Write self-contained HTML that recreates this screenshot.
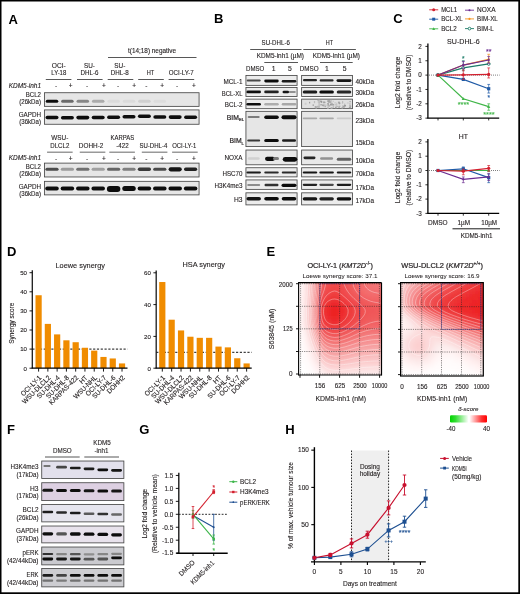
<!DOCTYPE html>
<html><head><meta charset="utf-8"><style>
html,body{margin:0;padding:0;background:#fff;}
svg{display:block;will-change:transform;}
text{font-family:"Liberation Sans", sans-serif;}
</style></head><body>
<svg width="520" height="594" viewBox="0 0 520 594">
<defs>
<filter id="bl" x="-20%" y="-100%" width="140%" height="300%"><feGaussianBlur stdDeviation="0.55"/></filter>
<filter id="nb"><feGaussianBlur stdDeviation="0.5"/></filter>
<filter id="hb" x="-5%" y="-5%" width="110%" height="110%"><feGaussianBlur stdDeviation="1.6"/></filter>
<clipPath id="c1"><rect x="298.6" y="282.6" width="82.89999999999998" height="92.39999999999998"/></clipPath><clipPath id="c2"><rect x="400.6" y="282.6" width="82.69999999999999" height="93.39999999999998"/></clipPath><linearGradient id="gg" x1="0" x2="1" y1="0" y2="0"><stop offset="0" stop-color="#00d400"/><stop offset="0.3" stop-color="#33dd33"/><stop offset="1" stop-color="#ffffff"/></linearGradient><linearGradient id="rg" x1="0" x2="1" y1="0" y2="0"><stop offset="0" stop-color="#ffffff"/><stop offset="0.7" stop-color="#ff3030"/><stop offset="1" stop-color="#ff0000"/></linearGradient>
</defs>
<rect width="520" height="594" fill="#fff"/>
<g fill="#231f20">
<rect x="0.00" y="0.00" width="520.00" height="1.50" fill="#000"/>
<rect x="0.00" y="0.00" width="1.50" height="594.00" fill="#000"/>
<rect x="518.30" y="0.00" width="1.70" height="594.00" fill="#000"/>
<rect x="0.00" y="592.30" width="520.00" height="1.70" fill="#000"/>
<text x="8.44" y="23.50" font-size="13" font-weight="bold" fill="#000">A</text>
<text x="152.00" y="52.50" font-size="6.6" text-anchor="middle" textLength="48.00" lengthAdjust="spacingAndGlyphs" fill="#231f20" stroke="#231f20" stroke-width="0.12">t(14;18) negative</text>
<line x1="108.00" y1="57.50" x2="196.50" y2="57.50" stroke="#444" stroke-width="0.9"/>
<text x="58.80" y="68.00" font-size="7.0" text-anchor="middle" textLength="14.00" lengthAdjust="spacingAndGlyphs" fill="#231f20" stroke="#231f20" stroke-width="0.12">OCI-</text>
<text x="58.80" y="75.40" font-size="7.0" text-anchor="middle" textLength="15.00" lengthAdjust="spacingAndGlyphs" fill="#231f20" stroke="#231f20" stroke-width="0.12">LY-18</text>
<text x="89.50" y="68.00" font-size="7.0" text-anchor="middle" textLength="11.00" lengthAdjust="spacingAndGlyphs" fill="#231f20" stroke="#231f20" stroke-width="0.12">SU-</text>
<text x="89.50" y="75.40" font-size="7.0" text-anchor="middle" textLength="18.00" lengthAdjust="spacingAndGlyphs" fill="#231f20" stroke="#231f20" stroke-width="0.12">DHL-6</text>
<text x="119.80" y="68.00" font-size="7.0" text-anchor="middle" textLength="11.00" lengthAdjust="spacingAndGlyphs" fill="#231f20" stroke="#231f20" stroke-width="0.12">SU-</text>
<text x="119.80" y="75.40" font-size="7.0" text-anchor="middle" textLength="18.00" lengthAdjust="spacingAndGlyphs" fill="#231f20" stroke="#231f20" stroke-width="0.12">DHL-8</text>
<text x="150.50" y="75.40" font-size="7.0" text-anchor="middle" textLength="7.50" lengthAdjust="spacingAndGlyphs" fill="#231f20" stroke="#231f20" stroke-width="0.12">HT</text>
<text x="181.20" y="75.40" font-size="7.0" text-anchor="middle" textLength="25.00" lengthAdjust="spacingAndGlyphs" fill="#231f20" stroke="#231f20" stroke-width="0.12">OCI-LY-7</text>
<line x1="45.80" y1="79.50" x2="71.40" y2="79.50" stroke="#444" stroke-width="0.9"/>
<line x1="77.00" y1="79.50" x2="102.60" y2="79.50" stroke="#444" stroke-width="0.9"/>
<line x1="107.70" y1="79.50" x2="133.30" y2="79.50" stroke="#444" stroke-width="0.9"/>
<line x1="138.20" y1="79.50" x2="163.80" y2="79.50" stroke="#444" stroke-width="0.9"/>
<line x1="168.60" y1="79.50" x2="194.20" y2="79.50" stroke="#444" stroke-width="0.9"/>
<text x="41.00" y="88.00" font-size="6.6" text-anchor="end" textLength="32.30" lengthAdjust="spacingAndGlyphs" font-style="italic" fill="#231f20" stroke="#231f20" stroke-width="0.12">KDM5-inh1</text>
<text x="56.00" y="88.00" font-size="6.5" text-anchor="middle" fill="#231f20" stroke="#231f20" stroke-width="0.12">-</text>
<text x="70.60" y="88.00" font-size="6.5" text-anchor="middle" fill="#231f20" stroke="#231f20" stroke-width="0.12">+</text>
<text x="87.20" y="88.00" font-size="6.5" text-anchor="middle" fill="#231f20" stroke="#231f20" stroke-width="0.12">-</text>
<text x="104.00" y="88.00" font-size="6.5" text-anchor="middle" fill="#231f20" stroke="#231f20" stroke-width="0.12">+</text>
<text x="118.00" y="88.00" font-size="6.5" text-anchor="middle" fill="#231f20" stroke="#231f20" stroke-width="0.12">-</text>
<text x="134.20" y="88.00" font-size="6.5" text-anchor="middle" fill="#231f20" stroke="#231f20" stroke-width="0.12">+</text>
<text x="146.30" y="88.00" font-size="6.5" text-anchor="middle" fill="#231f20" stroke="#231f20" stroke-width="0.12">-</text>
<text x="162.20" y="88.00" font-size="6.5" text-anchor="middle" fill="#231f20" stroke="#231f20" stroke-width="0.12">+</text>
<text x="177.00" y="88.00" font-size="6.5" text-anchor="middle" fill="#231f20" stroke="#231f20" stroke-width="0.12">-</text>
<text x="194.00" y="88.00" font-size="6.5" text-anchor="middle" fill="#231f20" stroke="#231f20" stroke-width="0.12">+</text>
<rect x="44.42" y="92.72" width="154.65" height="13.65" fill="#e6e6e6" stroke="#484848" stroke-width="0.85"/>
<rect x="44.42" y="109.92" width="154.65" height="14.35" fill="#e6e6e6" stroke="#484848" stroke-width="0.85"/>
<text x="41.00" y="97.00" font-size="6.8" text-anchor="end" textLength="15.20" lengthAdjust="spacingAndGlyphs" fill="#231f20" stroke="#231f20" stroke-width="0.12">BCL2</text>
<text x="41.00" y="104.40" font-size="6.8" text-anchor="end" textLength="21.80" lengthAdjust="spacingAndGlyphs" fill="#231f20" stroke="#231f20" stroke-width="0.12">(26kDa)</text>
<text x="41.00" y="116.70" font-size="6.8" text-anchor="end" textLength="22.30" lengthAdjust="spacingAndGlyphs" fill="#231f20" stroke="#231f20" stroke-width="0.12">GAPDH</text>
<text x="41.00" y="123.80" font-size="6.8" text-anchor="end" textLength="21.80" lengthAdjust="spacingAndGlyphs" fill="#231f20" stroke="#231f20" stroke-width="0.12">(36kDa)</text>
<rect x="45.75" y="99.70" width="12.50" height="3.00" rx="1.50" fill="#0a0a0a" filter="url(#bl)"/>
<rect x="61.15" y="99.70" width="12.50" height="3.00" rx="1.50" fill="#6b6b6b" filter="url(#bl)"/>
<rect x="76.55" y="99.70" width="12.50" height="3.00" rx="1.50" fill="#878787" filter="url(#bl)"/>
<rect x="91.95" y="99.70" width="12.50" height="3.00" rx="1.50" fill="#ababab" filter="url(#bl)"/>
<rect x="107.35" y="99.70" width="12.50" height="3.00" rx="1.50" fill="#dbdbdb" filter="url(#bl)"/>
<rect x="122.75" y="99.70" width="12.50" height="3.00" rx="1.50" fill="#dbdbdb" filter="url(#bl)"/>
<rect x="138.15" y="99.70" width="12.50" height="3.00" rx="1.50" fill="#d0d0d0" filter="url(#bl)"/>
<rect x="153.55" y="99.70" width="12.50" height="3.00" rx="1.50" fill="#dddddd" filter="url(#bl)"/>
<rect x="45.50" y="115.70" width="13.00" height="3.60" rx="1.80" fill="#101010" filter="url(#bl)"/>
<rect x="60.90" y="116.00" width="13.00" height="3.60" rx="1.80" fill="#101010" filter="url(#bl)"/>
<rect x="76.30" y="115.80" width="13.00" height="3.60" rx="1.80" fill="#101010" filter="url(#bl)"/>
<rect x="91.70" y="115.70" width="13.00" height="3.60" rx="1.80" fill="#101010" filter="url(#bl)"/>
<rect x="107.10" y="115.40" width="13.00" height="3.60" rx="1.80" fill="#101010" filter="url(#bl)"/>
<rect x="122.50" y="115.00" width="13.00" height="3.60" rx="1.80" fill="#101010" filter="url(#bl)"/>
<rect x="137.90" y="114.40" width="13.00" height="3.60" rx="1.80" fill="#101010" filter="url(#bl)"/>
<rect x="153.30" y="115.20" width="13.00" height="3.60" rx="1.80" fill="#101010" filter="url(#bl)"/>
<rect x="168.70" y="115.30" width="13.00" height="3.60" rx="1.80" fill="#101010" filter="url(#bl)"/>
<rect x="184.10" y="115.40" width="13.00" height="3.60" rx="1.80" fill="#101010" filter="url(#bl)"/>
<text x="59.80" y="140.40" font-size="7.0" text-anchor="middle" textLength="17.00" lengthAdjust="spacingAndGlyphs" fill="#231f20" stroke="#231f20" stroke-width="0.12">WSU-</text>
<text x="59.80" y="148.00" font-size="7.0" text-anchor="middle" textLength="19.00" lengthAdjust="spacingAndGlyphs" fill="#231f20" stroke="#231f20" stroke-width="0.12">DLCL2</text>
<text x="91.10" y="148.00" font-size="7.0" text-anchor="middle" textLength="24.50" lengthAdjust="spacingAndGlyphs" fill="#231f20" stroke="#231f20" stroke-width="0.12">DOHH-2</text>
<text x="122.40" y="139.80" font-size="7.0" text-anchor="middle" textLength="23.60" lengthAdjust="spacingAndGlyphs" fill="#231f20" stroke="#231f20" stroke-width="0.12">KARPAS</text>
<text x="122.50" y="148.00" font-size="7.0" text-anchor="middle" textLength="12.50" lengthAdjust="spacingAndGlyphs" fill="#231f20" stroke="#231f20" stroke-width="0.12">-422</text>
<text x="153.40" y="148.00" font-size="7.0" text-anchor="middle" textLength="27.90" lengthAdjust="spacingAndGlyphs" fill="#231f20" stroke="#231f20" stroke-width="0.12">SU-DHL-4</text>
<text x="184.20" y="148.00" font-size="7.0" text-anchor="middle" textLength="24.10" lengthAdjust="spacingAndGlyphs" fill="#231f20" stroke="#231f20" stroke-width="0.12">OCI-LY-1</text>
<line x1="47.05" y1="152.20" x2="72.65" y2="152.20" stroke="#808080" stroke-width="1.2"/>
<line x1="79.75" y1="152.20" x2="105.35" y2="152.20" stroke="#808080" stroke-width="1.2"/>
<line x1="109.30" y1="152.20" x2="134.90" y2="152.20" stroke="#808080" stroke-width="1.2"/>
<line x1="141.80" y1="152.20" x2="167.40" y2="152.20" stroke="#808080" stroke-width="1.2"/>
<line x1="172.10" y1="152.20" x2="197.70" y2="152.20" stroke="#808080" stroke-width="1.2"/>
<text x="41.00" y="160.20" font-size="6.6" text-anchor="end" textLength="32.30" lengthAdjust="spacingAndGlyphs" font-style="italic" fill="#231f20" stroke="#231f20" stroke-width="0.12">KDM5-inh1</text>
<text x="56.00" y="160.60" font-size="6.5" text-anchor="middle" fill="#231f20" stroke="#231f20" stroke-width="0.12">-</text>
<text x="70.60" y="160.60" font-size="6.5" text-anchor="middle" fill="#231f20" stroke="#231f20" stroke-width="0.12">+</text>
<text x="87.20" y="160.60" font-size="6.5" text-anchor="middle" fill="#231f20" stroke="#231f20" stroke-width="0.12">-</text>
<text x="104.00" y="160.60" font-size="6.5" text-anchor="middle" fill="#231f20" stroke="#231f20" stroke-width="0.12">+</text>
<text x="118.00" y="160.60" font-size="6.5" text-anchor="middle" fill="#231f20" stroke="#231f20" stroke-width="0.12">-</text>
<text x="134.20" y="160.60" font-size="6.5" text-anchor="middle" fill="#231f20" stroke="#231f20" stroke-width="0.12">+</text>
<text x="146.30" y="160.60" font-size="6.5" text-anchor="middle" fill="#231f20" stroke="#231f20" stroke-width="0.12">-</text>
<text x="162.20" y="160.60" font-size="6.5" text-anchor="middle" fill="#231f20" stroke="#231f20" stroke-width="0.12">+</text>
<text x="177.00" y="160.60" font-size="6.5" text-anchor="middle" fill="#231f20" stroke="#231f20" stroke-width="0.12">-</text>
<text x="194.00" y="160.60" font-size="6.5" text-anchor="middle" fill="#231f20" stroke="#231f20" stroke-width="0.12">+</text>
<rect x="44.42" y="163.12" width="154.65" height="13.85" fill="#e6e6e6" stroke="#484848" stroke-width="0.85"/>
<rect x="44.42" y="181.33" width="154.65" height="13.55" fill="#e6e6e6" stroke="#484848" stroke-width="0.85"/>
<text x="41.00" y="168.80" font-size="6.8" text-anchor="end" textLength="15.20" lengthAdjust="spacingAndGlyphs" fill="#231f20" stroke="#231f20" stroke-width="0.12">BCL2</text>
<text x="41.00" y="176.10" font-size="6.8" text-anchor="end" textLength="21.80" lengthAdjust="spacingAndGlyphs" fill="#231f20" stroke="#231f20" stroke-width="0.12">(26kDa)</text>
<text x="41.00" y="188.50" font-size="6.8" text-anchor="end" textLength="22.30" lengthAdjust="spacingAndGlyphs" fill="#231f20" stroke="#231f20" stroke-width="0.12">GAPDH</text>
<text x="41.00" y="195.70" font-size="6.8" text-anchor="end" textLength="21.80" lengthAdjust="spacingAndGlyphs" fill="#231f20" stroke="#231f20" stroke-width="0.12">(36kDa)</text>
<rect x="45.40" y="167.75" width="13.20" height="3.10" rx="1.55" fill="#4e4e4e" filter="url(#bl)"/>
<rect x="60.80" y="167.75" width="13.20" height="3.10" rx="1.55" fill="#9c9c9c" filter="url(#bl)"/>
<rect x="76.20" y="167.75" width="13.20" height="3.10" rx="1.55" fill="#717171" filter="url(#bl)"/>
<rect x="91.60" y="167.75" width="13.20" height="3.10" rx="1.55" fill="#a0a0a0" filter="url(#bl)"/>
<rect x="107.00" y="167.75" width="13.20" height="3.10" rx="1.55" fill="#666666" filter="url(#bl)"/>
<rect x="122.40" y="167.75" width="13.20" height="3.10" rx="1.55" fill="#7f7f7f" filter="url(#bl)"/>
<rect x="137.80" y="167.60" width="13.20" height="3.40" rx="1.70" fill="#3a3a3a" filter="url(#bl)"/>
<rect x="153.20" y="167.75" width="13.20" height="3.10" rx="1.55" fill="#4a4a4a" filter="url(#bl)"/>
<rect x="168.60" y="167.20" width="13.20" height="4.20" rx="2.10" fill="#151515" filter="url(#bl)"/>
<rect x="184.00" y="167.60" width="13.20" height="3.40" rx="1.70" fill="#232323" filter="url(#bl)"/>
<rect x="45.25" y="186.50" width="13.50" height="4.00" rx="2.00" fill="#101010" filter="url(#bl)"/>
<rect x="60.65" y="186.50" width="13.50" height="4.00" rx="2.00" fill="#101010" filter="url(#bl)"/>
<rect x="76.05" y="186.50" width="13.50" height="4.00" rx="2.00" fill="#101010" filter="url(#bl)"/>
<rect x="91.45" y="186.50" width="13.50" height="4.00" rx="2.00" fill="#101010" filter="url(#bl)"/>
<rect x="106.85" y="186.10" width="13.50" height="6.00" rx="3.00" fill="#101010" filter="url(#bl)"/>
<rect x="122.25" y="186.00" width="13.50" height="5.00" rx="2.50" fill="#101010" filter="url(#bl)"/>
<rect x="137.65" y="186.50" width="13.50" height="4.00" rx="2.00" fill="#101010" filter="url(#bl)"/>
<rect x="153.05" y="186.50" width="13.50" height="4.00" rx="2.00" fill="#101010" filter="url(#bl)"/>
<rect x="168.45" y="186.50" width="13.50" height="4.00" rx="2.00" fill="#101010" filter="url(#bl)"/>
<rect x="183.85" y="186.50" width="13.50" height="4.00" rx="2.00" fill="#101010" filter="url(#bl)"/>
<text x="214.00" y="23.20" font-size="13" font-weight="bold" fill="#000">B</text>
<text x="275.70" y="44.70" font-size="6.8" text-anchor="middle" textLength="28.30" lengthAdjust="spacingAndGlyphs" fill="#231f20" stroke="#231f20" stroke-width="0.12">SU-DHL-6</text>
<text x="329.40" y="44.70" font-size="6.8" text-anchor="middle" textLength="7.30" lengthAdjust="spacingAndGlyphs" fill="#231f20" stroke="#231f20" stroke-width="0.12">HT</text>
<line x1="250.20" y1="49.50" x2="301.50" y2="49.50" stroke="#444" stroke-width="0.9"/>
<line x1="303.30" y1="49.50" x2="355.90" y2="49.50" stroke="#444" stroke-width="0.9"/>
<text x="280.30" y="58.00" font-size="6.8" text-anchor="middle" textLength="47.30" lengthAdjust="spacingAndGlyphs" fill="#231f20" stroke="#231f20" stroke-width="0.12">KDM5-inh1 (µM)</text>
<text x="336.40" y="58.00" font-size="6.8" text-anchor="middle" textLength="47.20" lengthAdjust="spacingAndGlyphs" fill="#231f20" stroke="#231f20" stroke-width="0.12">KDM5-inh1 (µM)</text>
<line x1="264.30" y1="62.50" x2="298.00" y2="62.50" stroke="#444" stroke-width="0.9"/>
<line x1="320.00" y1="62.50" x2="352.70" y2="62.50" stroke="#444" stroke-width="0.9"/>
<text x="246.00" y="71.40" font-size="6.8" textLength="18.30" lengthAdjust="spacingAndGlyphs" fill="#231f20" stroke="#231f20" stroke-width="0.12">DMSO</text>
<text x="273.70" y="71.40" font-size="6.8" text-anchor="middle" fill="#231f20" stroke="#231f20" stroke-width="0.12">1</text>
<text x="289.90" y="71.40" font-size="6.8" text-anchor="middle" fill="#231f20" stroke="#231f20" stroke-width="0.12">5</text>
<text x="299.80" y="71.40" font-size="6.8" textLength="18.90" lengthAdjust="spacingAndGlyphs" fill="#231f20" stroke="#231f20" stroke-width="0.12">DMSO</text>
<text x="326.80" y="71.40" font-size="6.8" text-anchor="middle" fill="#231f20" stroke="#231f20" stroke-width="0.12">1</text>
<text x="344.60" y="71.40" font-size="6.8" text-anchor="middle" fill="#231f20" stroke="#231f20" stroke-width="0.12">5</text>
<rect x="245.93" y="75.42" width="51.15" height="9.95" fill="#ececec" stroke="#484848" stroke-width="0.85"/>
<rect x="301.62" y="75.42" width="50.95" height="9.95" fill="#ececec" stroke="#484848" stroke-width="0.85"/>
<text x="355.40" y="83.50" font-size="6.8" textLength="18.60" lengthAdjust="spacingAndGlyphs" fill="#231f20" stroke="#231f20" stroke-width="0.12">40kDa</text>
<rect x="245.93" y="87.52" width="51.15" height="9.05" fill="#ececec" stroke="#484848" stroke-width="0.85"/>
<rect x="301.62" y="87.52" width="50.95" height="9.05" fill="#ececec" stroke="#484848" stroke-width="0.85"/>
<text x="355.40" y="95.00" font-size="6.8" textLength="18.60" lengthAdjust="spacingAndGlyphs" fill="#231f20" stroke="#231f20" stroke-width="0.12">30kDa</text>
<rect x="245.93" y="99.12" width="51.15" height="9.55" fill="#ececec" stroke="#484848" stroke-width="0.85"/>
<rect x="301.62" y="99.12" width="50.95" height="9.55" fill="#e0e0e0" stroke="#484848" stroke-width="0.85"/>
<text x="355.40" y="106.60" font-size="6.8" textLength="18.60" lengthAdjust="spacingAndGlyphs" fill="#231f20" stroke="#231f20" stroke-width="0.12">26kDa</text>
<rect x="245.93" y="111.33" width="51.15" height="35.25" fill="#e6e6e6" stroke="#484848" stroke-width="0.85"/>
<rect x="301.62" y="111.33" width="50.95" height="35.25" fill="#e6e6e6" stroke="#484848" stroke-width="0.85"/>
<rect x="245.93" y="150.03" width="51.15" height="14.75" fill="#e8e8e8" stroke="#484848" stroke-width="0.85"/>
<rect x="301.62" y="150.03" width="50.95" height="14.75" fill="#e8e8e8" stroke="#484848" stroke-width="0.85"/>
<text x="355.40" y="163.40" font-size="6.8" textLength="18.60" lengthAdjust="spacingAndGlyphs" fill="#231f20" stroke="#231f20" stroke-width="0.12">10kDa</text>
<rect x="245.93" y="167.73" width="51.15" height="9.15" fill="#ececec" stroke="#484848" stroke-width="0.85"/>
<rect x="301.62" y="167.73" width="50.95" height="9.15" fill="#ececec" stroke="#484848" stroke-width="0.85"/>
<text x="355.40" y="176.20" font-size="6.8" textLength="18.60" lengthAdjust="spacingAndGlyphs" fill="#231f20" stroke="#231f20" stroke-width="0.12">70kDa</text>
<rect x="245.93" y="179.93" width="51.15" height="9.45" fill="#ececec" stroke="#484848" stroke-width="0.85"/>
<rect x="301.62" y="179.93" width="50.95" height="9.45" fill="#ececec" stroke="#484848" stroke-width="0.85"/>
<text x="355.40" y="189.60" font-size="6.8" textLength="18.60" lengthAdjust="spacingAndGlyphs" fill="#231f20" stroke="#231f20" stroke-width="0.12">17kDa</text>
<rect x="245.93" y="192.83" width="51.15" height="12.05" fill="#ececec" stroke="#484848" stroke-width="0.85"/>
<rect x="301.62" y="192.83" width="50.95" height="12.05" fill="#ececec" stroke="#484848" stroke-width="0.85"/>
<text x="355.40" y="203.20" font-size="6.8" textLength="18.60" lengthAdjust="spacingAndGlyphs" fill="#231f20" stroke="#231f20" stroke-width="0.12">17kDa</text>
<text x="355.40" y="123.00" font-size="6.8" textLength="18.60" lengthAdjust="spacingAndGlyphs" fill="#231f20" stroke="#231f20" stroke-width="0.12">23kDa</text>
<text x="355.40" y="145.40" font-size="6.8" textLength="18.60" lengthAdjust="spacingAndGlyphs" fill="#231f20" stroke="#231f20" stroke-width="0.12">15kDa</text>
<text x="242.50" y="83.50" font-size="6.8" text-anchor="end" textLength="19.00" lengthAdjust="spacingAndGlyphs" fill="#231f20" stroke="#231f20" stroke-width="0.12">MCL-1</text>
<text x="242.50" y="95.50" font-size="6.8" text-anchor="end" textLength="20.70" lengthAdjust="spacingAndGlyphs" fill="#231f20" stroke="#231f20" stroke-width="0.12">BCL-XL</text>
<text x="242.50" y="106.80" font-size="6.8" text-anchor="end" textLength="17.80" lengthAdjust="spacingAndGlyphs" fill="#231f20" stroke="#231f20" stroke-width="0.12">BCL-2</text>
<text x="226.8" y="120.2" font-size="6.8" stroke="#231f20" stroke-width="0.2">BIM<tspan font-size="4.2" dy="1.2">EL</tspan></text>
<text x="229.5" y="143.4" font-size="6.8" stroke="#231f20" stroke-width="0.2">BIM<tspan font-size="4.2" dy="1.2">L</tspan></text>
<text x="242.50" y="160.40" font-size="6.8" text-anchor="end" textLength="18.00" lengthAdjust="spacingAndGlyphs" fill="#231f20" stroke="#231f20" stroke-width="0.12">NOXA</text>
<text x="242.50" y="175.60" font-size="6.8" text-anchor="end" textLength="20.00" lengthAdjust="spacingAndGlyphs" fill="#231f20" stroke="#231f20" stroke-width="0.12">HSC70</text>
<text x="242.50" y="188.20" font-size="6.8" text-anchor="end" textLength="28.00" lengthAdjust="spacingAndGlyphs" fill="#231f20" stroke="#231f20" stroke-width="0.12">H3K4me3</text>
<text x="242.50" y="201.60" font-size="6.8" text-anchor="end" textLength="8.50" lengthAdjust="spacingAndGlyphs" fill="#231f20" stroke="#231f20" stroke-width="0.12">H3</text>
<rect x="246.70" y="79.40" width="14.00" height="2.00" rx="1.00" fill="#494949" filter="url(#bl)"/>
<rect x="264.25" y="79.60" width="14.50" height="2.80" rx="1.40" fill="#111111" filter="url(#bl)"/>
<rect x="281.75" y="80.10" width="14.50" height="2.40" rx="1.20" fill="#1a1a1a" filter="url(#bl)"/>
<rect x="303.00" y="79.10" width="14.00" height="2.20" rx="1.10" fill="#252525" filter="url(#bl)"/>
<rect x="319.60" y="79.30" width="14.00" height="2.20" rx="1.10" fill="#2c2c2c" filter="url(#bl)"/>
<rect x="336.50" y="79.20" width="15.00" height="2.80" rx="1.40" fill="#151515" filter="url(#bl)"/>
<rect x="246.45" y="90.60" width="14.50" height="2.60" rx="1.30" fill="#111111" filter="url(#bl)"/>
<rect x="264.25" y="90.60" width="14.50" height="2.60" rx="1.30" fill="#212121" filter="url(#bl)"/>
<rect x="282.55" y="90.70" width="6.50" height="2.60" rx="1.30" fill="#151515" filter="url(#bl)"/>
<rect x="288.80" y="91.00" width="7.00" height="2.00" rx="1.00" fill="#929292" filter="url(#bl)"/>
<rect x="302.75" y="90.50" width="14.50" height="3.00" rx="1.50" fill="#1c1c1c" filter="url(#bl)"/>
<rect x="319.35" y="90.50" width="14.50" height="3.00" rx="1.50" fill="#0a0a0a" filter="url(#bl)"/>
<rect x="336.75" y="90.50" width="14.50" height="3.00" rx="1.50" fill="#252525" filter="url(#bl)"/>
<rect x="246.45" y="103.05" width="14.50" height="2.50" rx="1.25" fill="#111111" filter="url(#bl)"/>
<rect x="264.25" y="103.05" width="14.50" height="2.50" rx="1.25" fill="#adadad" filter="url(#bl)"/>
<rect x="281.75" y="103.05" width="14.50" height="2.50" rx="1.25" fill="#a8a8a8" filter="url(#bl)"/>
<g filter="url(#nb)">
<rect x="317.0" y="105.8" width="1.8" height="2.1" fill="#cbcbcb"/>
<rect x="317.4" y="100.0" width="1.9" height="1.1" fill="#b3b3b3"/>
<rect x="336.1" y="102.6" width="1.1" height="1.6" fill="#cdcdcd"/>
<rect x="332.1" y="104.1" width="1.8" height="1.4" fill="#969696"/>
<rect x="339.2" y="102.7" width="1.9" height="1.0" fill="#c6c6c6"/>
<rect x="349.5" y="104.4" width="1.0" height="2.2" fill="#9e9e9e"/>
<rect x="348.9" y="107.0" width="2.0" height="1.2" fill="#a0a0a0"/>
<rect x="330.6" y="107.0" width="2.0" height="1.7" fill="#b8b8b8"/>
<rect x="342.0" y="101.3" width="1.2" height="1.3" fill="#aeaeae"/>
<rect x="349.5" y="101.0" width="1.2" height="1.3" fill="#9f9f9f"/>
<rect x="336.0" y="104.3" width="1.3" height="1.2" fill="#c3c3c3"/>
<rect x="316.7" y="105.9" width="1.8" height="1.1" fill="#b4b4b4"/>
<rect x="323.3" y="101.7" width="2.1" height="1.3" fill="#979797"/>
<rect x="331.2" y="102.8" width="1.9" height="1.3" fill="#b9b9b9"/>
<rect x="328.7" y="100.2" width="1.7" height="2.1" fill="#a1a1a1"/>
<rect x="329.3" y="100.7" width="2.1" height="2.1" fill="#a5a5a5"/>
<rect x="324.2" y="103.7" width="1.4" height="1.6" fill="#c7c7c7"/>
<rect x="338.5" y="105.7" width="2.0" height="0.9" fill="#adadad"/>
<rect x="334.5" y="102.4" width="1.3" height="1.0" fill="#bdbdbd"/>
<rect x="328.4" y="101.9" width="1.6" height="1.2" fill="#c2c2c2"/>
<rect x="327.2" y="100.4" width="1.8" height="1.2" fill="#9f9f9f"/>
<rect x="336.3" y="103.4" width="0.9" height="2.2" fill="#c4c4c4"/>
<rect x="319.0" y="101.6" width="1.3" height="1.2" fill="#bcbcbc"/>
<rect x="327.7" y="104.7" width="0.9" height="2.1" fill="#9f9f9f"/>
<rect x="342.6" y="106.1" width="2.2" height="1.6" fill="#9e9e9e"/>
<rect x="332.6" y="100.8" width="1.4" height="1.0" fill="#c8c8c8"/>
<rect x="327.3" y="103.0" width="1.4" height="2.2" fill="#9f9f9f"/>
<rect x="332.7" y="106.2" width="1.4" height="1.5" fill="#b7b7b7"/>
<rect x="328.4" y="102.0" width="2.1" height="1.0" fill="#afafaf"/>
<rect x="317.5" y="106.0" width="2.1" height="1.7" fill="#b8b8b8"/>
<rect x="320.0" y="100.5" width="1.5" height="1.6" fill="#a7a7a7"/>
<rect x="330.0" y="103.6" width="1.9" height="1.9" fill="#9a9a9a"/>
<rect x="324.5" y="105.5" width="1.6" height="1.7" fill="#adadad"/>
<rect x="314.7" y="106.1" width="1.9" height="1.8" fill="#a6a6a6"/>
<rect x="322.8" y="104.7" width="2.0" height="1.5" fill="#bbbbbb"/>
<rect x="349.5" y="105.6" width="1.7" height="1.4" fill="#aaaaaa"/>
<rect x="336.5" y="105.8" width="1.2" height="1.3" fill="#acacac"/>
<rect x="315.5" y="106.8" width="1.3" height="2.0" fill="#b0b0b0"/>
<rect x="341.5" y="107.1" width="1.5" height="1.5" fill="#ababab"/>
<rect x="317.7" y="101.0" width="1.3" height="2.0" fill="#cbcbcb"/>
<rect x="329.1" y="104.8" width="1.0" height="1.9" fill="#b0b0b0"/>
<rect x="334.4" y="104.2" width="2.1" height="1.2" fill="#c0c0c0"/>
<rect x="309.1" y="101.8" width="1.1" height="1.6" fill="#979797"/>
<rect x="322.7" y="104.5" width="1.1" height="1.8" fill="#a1a1a1"/>
<rect x="327.8" y="103.3" width="1.0" height="2.0" fill="#a4a4a4"/>
<rect x="327.6" y="100.6" width="1.5" height="1.6" fill="#a1a1a1"/>
<rect x="321.2" y="104.8" width="1.6" height="1.1" fill="#9a9a9a"/>
<rect x="335.2" y="106.6" width="1.3" height="2.1" fill="#969696"/>
<rect x="343.6" y="105.0" width="1.3" height="0.9" fill="#b9b9b9"/>
<rect x="312.6" y="104.4" width="1.2" height="1.5" fill="#9c9c9c"/>
<rect x="338.7" y="102.4" width="1.4" height="1.9" fill="#9e9e9e"/>
<rect x="327.2" y="104.6" width="1.5" height="1.0" fill="#adadad"/>
<rect x="320.7" y="101.3" width="1.7" height="1.3" fill="#9e9e9e"/>
<rect x="338.4" y="106.5" width="1.3" height="1.3" fill="#969696"/>
<rect x="341.9" y="102.2" width="1.3" height="1.4" fill="#bababa"/>
<rect x="323.1" y="101.5" width="1.5" height="1.8" fill="#a8a8a8"/>
<rect x="313.9" y="101.0" width="1.2" height="2.2" fill="#bcbcbc"/>
<rect x="344.4" y="103.5" width="0.8" height="2.1" fill="#b0b0b0"/>
<rect x="321.0" y="100.9" width="1.0" height="1.7" fill="#979797"/>
<rect x="349.5" y="103.1" width="0.9" height="1.0" fill="#a8a8a8"/>
<rect x="320.2" y="104.0" width="2.1" height="1.9" fill="#a5a5a5"/>
<rect x="337.9" y="101.6" width="2.0" height="1.8" fill="#a7a7a7"/>
<rect x="327.1" y="107.2" width="1.7" height="1.6" fill="#b7b7b7"/>
<rect x="342.5" y="105.4" width="0.8" height="1.0" fill="#9d9d9d"/>
<rect x="326.5" y="104.4" width="1.5" height="1.5" fill="#c4c4c4"/>
<rect x="346.9" y="102.5" width="1.9" height="1.0" fill="#c5c5c5"/>
<rect x="344.0" y="104.9" width="2.0" height="1.6" fill="#9c9c9c"/>
<rect x="330.2" y="99.9" width="1.9" height="1.6" fill="#c7c7c7"/>
<rect x="319.8" y="104.7" width="2.1" height="1.3" fill="#cccccc"/>
<rect x="304.7" y="102.7" width="1.8" height="2.1" fill="#cccccc"/>
<rect x="318.5" y="99.6" width="1.2" height="8" fill="#b8b8b8"/>
</g>
<rect x="247.70" y="115.90" width="12.00" height="2.20" rx="1.10" fill="#7b7b7b" filter="url(#bl)"/>
<rect x="264.25" y="115.60" width="14.50" height="3.40" rx="1.70" fill="#0a0a0a" filter="url(#bl)"/>
<rect x="281.50" y="115.30" width="15.00" height="4.00" rx="2.00" fill="#0a0a0a" filter="url(#bl)"/>
<rect x="247.20" y="139.40" width="13.00" height="2.20" rx="1.10" fill="#373737" filter="url(#bl)"/>
<rect x="264.25" y="139.00" width="14.50" height="3.00" rx="1.50" fill="#111111" filter="url(#bl)"/>
<rect x="282.00" y="139.20" width="14.00" height="2.60" rx="1.30" fill="#1a1a1a" filter="url(#bl)"/>
<rect x="302.75" y="117.40" width="14.50" height="1.80" rx="0.90" fill="#a8a8a8" filter="url(#bl)"/>
<rect x="319.35" y="117.40" width="14.50" height="1.80" rx="0.90" fill="#a8a8a8" filter="url(#bl)"/>
<rect x="336.75" y="117.40" width="14.50" height="1.80" rx="0.90" fill="#cacaca" filter="url(#bl)"/>
<rect x="247.70" y="157.25" width="12.00" height="2.50" rx="1.25" fill="#d1d1d1" filter="url(#bl)"/>
<rect x="265.00" y="156.70" width="10.00" height="4.20" rx="2.10" fill="#111111" filter="url(#bl)"/>
<rect x="273.00" y="157.00" width="6.00" height="3.00" rx="1.50" fill="#7b7b7b" filter="url(#bl)"/>
<rect x="282.75" y="156.90" width="14.50" height="4.80" rx="2.40" fill="#111111" filter="url(#bl)"/>
<rect x="303.50" y="156.40" width="12.00" height="2.80" rx="1.40" fill="#252525" filter="url(#bl)"/>
<rect x="320.10" y="157.30" width="13.00" height="2.40" rx="1.20" fill="#929292" filter="url(#bl)"/>
<rect x="336.75" y="157.80" width="14.50" height="3.00" rx="1.50" fill="#646464" filter="url(#bl)"/>
<rect x="246.45" y="171.45" width="14.50" height="2.10" rx="1.05" fill="#1c1c1c" filter="url(#bl)"/>
<rect x="264.25" y="171.45" width="14.50" height="2.10" rx="1.05" fill="#2c2c2c" filter="url(#bl)"/>
<rect x="281.75" y="171.45" width="14.50" height="2.10" rx="1.05" fill="#2c2c2c" filter="url(#bl)"/>
<rect x="302.75" y="171.40" width="14.50" height="2.20" rx="1.10" fill="#151515" filter="url(#bl)"/>
<rect x="319.35" y="171.40" width="14.50" height="2.20" rx="1.10" fill="#151515" filter="url(#bl)"/>
<rect x="336.75" y="171.40" width="14.50" height="2.20" rx="1.10" fill="#151515" filter="url(#bl)"/>
<rect x="247.20" y="184.00" width="13.00" height="2.00" rx="1.00" fill="#8d8d8d" filter="url(#bl)"/>
<rect x="264.50" y="183.80" width="14.00" height="2.40" rx="1.20" fill="#333333" filter="url(#bl)"/>
<rect x="281.50" y="183.70" width="15.00" height="3.20" rx="1.60" fill="#111111" filter="url(#bl)"/>
<rect x="302.75" y="183.65" width="14.50" height="2.30" rx="1.15" fill="#212121" filter="url(#bl)"/>
<rect x="319.35" y="183.65" width="14.50" height="2.30" rx="1.15" fill="#494949" filter="url(#bl)"/>
<rect x="336.75" y="183.65" width="14.50" height="2.30" rx="1.15" fill="#1c1c1c" filter="url(#bl)"/>
<rect x="246.45" y="197.00" width="14.50" height="3.60" rx="1.80" fill="#151515" filter="url(#bl)"/>
<rect x="264.25" y="197.00" width="14.50" height="3.60" rx="1.80" fill="#0a0a0a" filter="url(#bl)"/>
<rect x="281.75" y="197.00" width="14.50" height="3.60" rx="1.80" fill="#0a0a0a" filter="url(#bl)"/>
<rect x="302.75" y="197.20" width="14.50" height="3.20" rx="1.60" fill="#151515" filter="url(#bl)"/>
<rect x="319.35" y="197.20" width="14.50" height="3.20" rx="1.60" fill="#212121" filter="url(#bl)"/>
<rect x="336.75" y="197.20" width="14.50" height="3.20" rx="1.60" fill="#0a0a0a" filter="url(#bl)"/>
<text x="393.20" y="23.40" font-size="13" font-weight="bold" fill="#000">C</text>
<line x1="429.20" y1="9.80" x2="438.20" y2="9.80" stroke="#d3202e" stroke-width="0.9"/>
<circle cx="433.70" cy="9.80" r="1.50" fill="#d3202e"/>
<text x="441.20" y="12.00" font-size="6.3" textLength="15.80" lengthAdjust="spacingAndGlyphs" fill="#231f20" stroke="#231f20" stroke-width="0.12">MCL1</text>
<line x1="429.20" y1="19.20" x2="438.20" y2="19.20" stroke="#1f5aa6" stroke-width="0.9"/>
<rect x="432.20" y="17.70" width="3.00" height="3.00" fill="#1f5aa6"/>
<text x="441.20" y="21.40" font-size="6.3" textLength="21.50" lengthAdjust="spacingAndGlyphs" fill="#231f20" stroke="#231f20" stroke-width="0.12">BCL-XL</text>
<line x1="429.20" y1="28.80" x2="438.20" y2="28.80" stroke="#41b649" stroke-width="0.9"/>
<path d="M433.70,27.30 L435.20,30.00 L432.20,30.00Z" fill="#41b649"/>
<text x="441.20" y="31.00" font-size="6.3" textLength="15.50" lengthAdjust="spacingAndGlyphs" fill="#231f20" stroke="#231f20" stroke-width="0.12">BCL2</text>
<line x1="465.00" y1="10.20" x2="474.00" y2="10.20" stroke="#6b2c91" stroke-width="0.9"/>
<circle cx="469.50" cy="10.20" r="1.05" fill="#6b2c91"/>
<text x="477.00" y="12.40" font-size="6.3" textLength="18.50" lengthAdjust="spacingAndGlyphs" fill="#231f20" stroke="#231f20" stroke-width="0.12">NOXA</text>
<line x1="465.00" y1="18.90" x2="474.00" y2="18.90" stroke="#f7941d" stroke-width="0.9"/>
<circle cx="469.50" cy="18.90" r="1.05" fill="#f7941d"/>
<text x="477.00" y="21.10" font-size="6.3" textLength="20.80" lengthAdjust="spacingAndGlyphs" fill="#231f20" stroke="#231f20" stroke-width="0.12">BIM-XL</text>
<line x1="465.00" y1="28.60" x2="474.00" y2="28.60" stroke="#1c7c68" stroke-width="0.9"/>
<circle cx="469.50" cy="28.60" r="1.35" fill="#fff" stroke="#1c7c68" stroke-width="0.9"/>
<text x="477.00" y="30.80" font-size="6.3" textLength="16.70" lengthAdjust="spacingAndGlyphs" fill="#231f20" stroke="#231f20" stroke-width="0.12">BIM-L</text>
<line x1="427.90" y1="43.60" x2="427.90" y2="118.15" stroke="#000" stroke-width="1.3"/>
<line x1="427.30" y1="118.15" x2="499.20" y2="118.15" stroke="#000" stroke-width="1.3"/>
<line x1="425.40" y1="118.15" x2="427.90" y2="118.15" stroke="#000" stroke-width="0.8"/>
<text x="421.80" y="120.35" font-size="6.3" text-anchor="end" fill="#231f20" stroke="#231f20" stroke-width="0.12">-3</text>
<line x1="425.40" y1="103.80" x2="427.90" y2="103.80" stroke="#000" stroke-width="0.8"/>
<text x="421.80" y="106.00" font-size="6.3" text-anchor="end" fill="#231f20" stroke="#231f20" stroke-width="0.12">-2</text>
<line x1="425.40" y1="89.45" x2="427.90" y2="89.45" stroke="#000" stroke-width="0.8"/>
<text x="421.80" y="91.65" font-size="6.3" text-anchor="end" fill="#231f20" stroke="#231f20" stroke-width="0.12">-1</text>
<line x1="425.40" y1="75.10" x2="427.90" y2="75.10" stroke="#000" stroke-width="0.8"/>
<text x="421.80" y="77.30" font-size="6.3" text-anchor="end" fill="#231f20" stroke="#231f20" stroke-width="0.12">0</text>
<line x1="425.40" y1="60.75" x2="427.90" y2="60.75" stroke="#000" stroke-width="0.8"/>
<text x="421.80" y="62.95" font-size="6.3" text-anchor="end" fill="#231f20" stroke="#231f20" stroke-width="0.12">1</text>
<line x1="425.40" y1="46.40" x2="427.90" y2="46.40" stroke="#000" stroke-width="0.8"/>
<text x="421.80" y="48.60" font-size="6.3" text-anchor="end" fill="#231f20" stroke="#231f20" stroke-width="0.12">2</text>
<line x1="438.00" y1="118.15" x2="438.00" y2="120.45" stroke="#000" stroke-width="0.8"/>
<line x1="463.30" y1="118.15" x2="463.30" y2="120.45" stroke="#000" stroke-width="0.8"/>
<line x1="488.70" y1="118.15" x2="488.70" y2="120.45" stroke="#000" stroke-width="0.8"/>
<text x="463.45" y="43.80" font-size="7.0" text-anchor="middle" textLength="32.70" lengthAdjust="spacingAndGlyphs" fill="#231f20" stroke="#231f20" stroke-width="0.12">SU-DHL-6</text>
<line x1="429.00" y1="75.10" x2="499.50" y2="75.10" stroke="#333" stroke-width="0.8" stroke-dasharray="0.8 1.2"/>
<line x1="488.70" y1="84.43" x2="488.70" y2="93.04" stroke="#1f5aa6" stroke-width="0.7"/>
<line x1="487.30" y1="84.43" x2="490.10" y2="84.43" stroke="#1f5aa6" stroke-width="0.7"/>
<line x1="487.30" y1="93.04" x2="490.10" y2="93.04" stroke="#1f5aa6" stroke-width="0.7"/>
<polyline points="438.00,75.10 463.30,79.41 488.70,88.73" fill="none" stroke="#1f5aa6" stroke-width="1.2"/>
<rect x="436.40" y="73.50" width="3.20" height="3.20" fill="#1f5aa6"/>
<rect x="461.70" y="77.81" width="3.20" height="3.20" fill="#1f5aa6"/>
<rect x="487.10" y="87.13" width="3.20" height="3.20" fill="#1f5aa6"/>
<line x1="488.70" y1="103.80" x2="488.70" y2="110.26" stroke="#41b649" stroke-width="0.7"/>
<line x1="487.30" y1="103.80" x2="490.10" y2="103.80" stroke="#41b649" stroke-width="0.7"/>
<line x1="487.30" y1="110.26" x2="490.10" y2="110.26" stroke="#41b649" stroke-width="0.7"/>
<polyline points="438.00,75.10 463.30,98.78 488.70,106.67" fill="none" stroke="#41b649" stroke-width="1.2"/>
<path d="M438.00,73.50 L439.60,76.38 L436.40,76.38Z" fill="#41b649"/>
<path d="M463.30,97.18 L464.90,100.06 L461.70,100.06Z" fill="#41b649"/>
<path d="M488.70,105.07 L490.30,107.95 L487.10,107.95Z" fill="#41b649"/>
<line x1="463.30" y1="70.79" x2="463.30" y2="60.75" stroke="#1c7c68" stroke-width="0.7"/>
<line x1="461.90" y1="70.79" x2="464.70" y2="70.79" stroke="#1c7c68" stroke-width="0.7"/>
<line x1="461.90" y1="60.75" x2="464.70" y2="60.75" stroke="#1c7c68" stroke-width="0.7"/>
<polyline points="438.00,75.10 463.30,67.92 488.70,63.91" fill="none" stroke="#1c7c68" stroke-width="1.2"/>
<circle cx="438.00" cy="75.10" r="1.44" fill="#fff" stroke="#1c7c68" stroke-width="0.9"/>
<circle cx="463.30" cy="67.92" r="1.44" fill="#fff" stroke="#1c7c68" stroke-width="0.9"/>
<circle cx="488.70" cy="63.91" r="1.44" fill="#fff" stroke="#1c7c68" stroke-width="0.9"/>
<line x1="488.70" y1="62.18" x2="488.70" y2="54.29" stroke="#f7941d" stroke-width="0.7"/>
<line x1="487.30" y1="62.18" x2="490.10" y2="62.18" stroke="#f7941d" stroke-width="0.7"/>
<line x1="487.30" y1="54.29" x2="490.10" y2="54.29" stroke="#f7941d" stroke-width="0.7"/>
<polyline points="438.00,75.10 463.30,65.05 488.70,59.31" fill="none" stroke="#f7941d" stroke-width="1.2"/>
<circle cx="438.00" cy="75.10" r="1.12" fill="#f7941d"/>
<circle cx="463.30" cy="65.05" r="1.12" fill="#f7941d"/>
<circle cx="488.70" cy="59.31" r="1.12" fill="#f7941d"/>
<line x1="463.30" y1="68.64" x2="463.30" y2="61.47" stroke="#6b2c91" stroke-width="0.7"/>
<line x1="461.90" y1="68.64" x2="464.70" y2="68.64" stroke="#6b2c91" stroke-width="0.7"/>
<line x1="461.90" y1="61.47" x2="464.70" y2="61.47" stroke="#6b2c91" stroke-width="0.7"/>
<line x1="488.70" y1="63.62" x2="488.70" y2="56.44" stroke="#6b2c91" stroke-width="0.7"/>
<line x1="487.30" y1="63.62" x2="490.10" y2="63.62" stroke="#6b2c91" stroke-width="0.7"/>
<line x1="487.30" y1="56.44" x2="490.10" y2="56.44" stroke="#6b2c91" stroke-width="0.7"/>
<polyline points="438.00,75.10 463.30,65.05 488.70,60.03" fill="none" stroke="#6b2c91" stroke-width="1.2"/>
<circle cx="438.00" cy="75.10" r="1.12" fill="#6b2c91"/>
<circle cx="463.30" cy="65.05" r="1.12" fill="#6b2c91"/>
<circle cx="488.70" cy="60.03" r="1.12" fill="#6b2c91"/>
<line x1="488.70" y1="77.97" x2="488.70" y2="67.92" stroke="#d3202e" stroke-width="0.7"/>
<line x1="487.30" y1="77.97" x2="490.10" y2="77.97" stroke="#d3202e" stroke-width="0.7"/>
<line x1="487.30" y1="67.92" x2="490.10" y2="67.92" stroke="#d3202e" stroke-width="0.7"/>
<line x1="463.30" y1="79.41" x2="463.30" y2="70.08" stroke="#d3202e" stroke-width="0.7"/>
<line x1="461.90" y1="79.41" x2="464.70" y2="79.41" stroke="#d3202e" stroke-width="0.7"/>
<line x1="461.90" y1="70.08" x2="464.70" y2="70.08" stroke="#d3202e" stroke-width="0.7"/>
<polyline points="438.00,75.10 463.30,74.81 488.70,74.38" fill="none" stroke="#d3202e" stroke-width="1.2"/>
<circle cx="438.00" cy="75.10" r="1.60" fill="#d3202e"/>
<circle cx="463.30" cy="74.81" r="1.60" fill="#d3202e"/>
<circle cx="488.70" cy="74.38" r="1.60" fill="#d3202e"/>
<text x="400.30" y="82.40" font-size="7.0" text-anchor="middle" textLength="51.50" lengthAdjust="spacingAndGlyphs" fill="#231f20" stroke="#231f20" stroke-width="0.12" transform="rotate(-90 400.30 82.40)">Log2 fold change</text>
<text x="410.60" y="82.40" font-size="7.0" text-anchor="middle" textLength="55.60" lengthAdjust="spacingAndGlyphs" fill="#231f20" stroke="#231f20" stroke-width="0.12" transform="rotate(-90 410.60 82.40)">(relative to DMSO)</text>
<text x="463.50" y="107.30" font-size="6.5" text-anchor="middle" textLength="11.50" lengthAdjust="spacingAndGlyphs" fill="#41b649" stroke="#41b649" stroke-width="0.12">****</text>
<text x="489.00" y="117.00" font-size="6.5" text-anchor="middle" textLength="11.50" lengthAdjust="spacingAndGlyphs" fill="#41b649" stroke="#41b649" stroke-width="0.12">****</text>
<text x="488.70" y="53.50" font-size="6.5" text-anchor="middle" textLength="5.50" lengthAdjust="spacingAndGlyphs" fill="#6b2c91" stroke="#6b2c91" stroke-width="0.12">**</text>
<text x="463.30" y="60.50" font-size="6.5" text-anchor="middle" fill="#1c7c68" stroke="#1c7c68" stroke-width="0.12">*</text>
<text x="488.70" y="99.50" font-size="6.5" text-anchor="middle" fill="#1f5aa6" stroke="#1f5aa6" stroke-width="0.12">*</text>
<line x1="427.90" y1="139.10" x2="427.90" y2="213.40" stroke="#000" stroke-width="1.3"/>
<line x1="427.30" y1="213.40" x2="499.20" y2="213.40" stroke="#000" stroke-width="1.3"/>
<line x1="425.40" y1="213.40" x2="427.90" y2="213.40" stroke="#000" stroke-width="0.8"/>
<text x="421.80" y="215.60" font-size="6.3" text-anchor="end" fill="#231f20" stroke="#231f20" stroke-width="0.12">-3</text>
<line x1="425.40" y1="199.10" x2="427.90" y2="199.10" stroke="#000" stroke-width="0.8"/>
<text x="421.80" y="201.30" font-size="6.3" text-anchor="end" fill="#231f20" stroke="#231f20" stroke-width="0.12">-2</text>
<line x1="425.40" y1="184.80" x2="427.90" y2="184.80" stroke="#000" stroke-width="0.8"/>
<text x="421.80" y="187.00" font-size="6.3" text-anchor="end" fill="#231f20" stroke="#231f20" stroke-width="0.12">-1</text>
<line x1="425.40" y1="170.50" x2="427.90" y2="170.50" stroke="#000" stroke-width="0.8"/>
<text x="421.80" y="172.70" font-size="6.3" text-anchor="end" fill="#231f20" stroke="#231f20" stroke-width="0.12">0</text>
<line x1="425.40" y1="156.20" x2="427.90" y2="156.20" stroke="#000" stroke-width="0.8"/>
<text x="421.80" y="158.40" font-size="6.3" text-anchor="end" fill="#231f20" stroke="#231f20" stroke-width="0.12">1</text>
<line x1="425.40" y1="141.90" x2="427.90" y2="141.90" stroke="#000" stroke-width="0.8"/>
<text x="421.80" y="144.10" font-size="6.3" text-anchor="end" fill="#231f20" stroke="#231f20" stroke-width="0.12">2</text>
<line x1="438.00" y1="213.40" x2="438.00" y2="215.70" stroke="#000" stroke-width="0.8"/>
<line x1="463.30" y1="213.40" x2="463.30" y2="215.70" stroke="#000" stroke-width="0.8"/>
<line x1="488.70" y1="213.40" x2="488.70" y2="215.70" stroke="#000" stroke-width="0.8"/>
<text x="463.40" y="138.80" font-size="7.0" text-anchor="middle" textLength="9.20" lengthAdjust="spacingAndGlyphs" fill="#231f20" stroke="#231f20" stroke-width="0.12">HT</text>
<line x1="429.00" y1="170.50" x2="499.50" y2="170.50" stroke="#333" stroke-width="0.8" stroke-dasharray="0.8 1.2"/>
<polyline points="438.00,170.50 463.30,170.50 488.70,170.50" fill="none" stroke="#41b649" stroke-width="1.2"/>
<path d="M438.00,168.90 L439.60,171.78 L436.40,171.78Z" fill="#41b649"/>
<path d="M463.30,168.90 L464.90,171.78 L461.70,171.78Z" fill="#41b649"/>
<path d="M488.70,168.90 L490.30,171.78 L487.10,171.78Z" fill="#41b649"/>
<line x1="463.30" y1="171.22" x2="463.30" y2="166.93" stroke="#1f5aa6" stroke-width="0.7"/>
<line x1="461.90" y1="171.22" x2="464.70" y2="171.22" stroke="#1f5aa6" stroke-width="0.7"/>
<line x1="461.90" y1="166.93" x2="464.70" y2="166.93" stroke="#1f5aa6" stroke-width="0.7"/>
<line x1="488.70" y1="182.66" x2="488.70" y2="174.07" stroke="#1f5aa6" stroke-width="0.7"/>
<line x1="487.30" y1="182.66" x2="490.10" y2="182.66" stroke="#1f5aa6" stroke-width="0.7"/>
<line x1="487.30" y1="174.07" x2="490.10" y2="174.07" stroke="#1f5aa6" stroke-width="0.7"/>
<polyline points="438.00,170.50 463.30,168.78 488.70,177.65" fill="none" stroke="#1f5aa6" stroke-width="1.2"/>
<rect x="436.40" y="168.90" width="3.20" height="3.20" fill="#1f5aa6"/>
<rect x="461.70" y="167.18" width="3.20" height="3.20" fill="#1f5aa6"/>
<rect x="487.10" y="176.05" width="3.20" height="3.20" fill="#1f5aa6"/>
<line x1="463.30" y1="182.66" x2="463.30" y2="176.94" stroke="#6b2c91" stroke-width="0.7"/>
<line x1="461.90" y1="182.66" x2="464.70" y2="182.66" stroke="#6b2c91" stroke-width="0.7"/>
<line x1="461.90" y1="176.94" x2="464.70" y2="176.94" stroke="#6b2c91" stroke-width="0.7"/>
<line x1="488.70" y1="180.51" x2="488.70" y2="173.36" stroke="#6b2c91" stroke-width="0.7"/>
<line x1="487.30" y1="180.51" x2="490.10" y2="180.51" stroke="#6b2c91" stroke-width="0.7"/>
<line x1="487.30" y1="173.36" x2="490.10" y2="173.36" stroke="#6b2c91" stroke-width="0.7"/>
<polyline points="438.00,170.50 463.30,179.37 488.70,176.94" fill="none" stroke="#6b2c91" stroke-width="1.2"/>
<circle cx="438.00" cy="170.50" r="1.12" fill="#6b2c91"/>
<circle cx="463.30" cy="179.37" r="1.12" fill="#6b2c91"/>
<circle cx="488.70" cy="176.94" r="1.12" fill="#6b2c91"/>
<line x1="463.30" y1="174.79" x2="463.30" y2="169.07" stroke="#d3202e" stroke-width="0.7"/>
<line x1="461.90" y1="174.79" x2="464.70" y2="174.79" stroke="#d3202e" stroke-width="0.7"/>
<line x1="461.90" y1="169.07" x2="464.70" y2="169.07" stroke="#d3202e" stroke-width="0.7"/>
<line x1="488.70" y1="171.22" x2="488.70" y2="165.50" stroke="#d3202e" stroke-width="0.7"/>
<line x1="487.30" y1="171.22" x2="490.10" y2="171.22" stroke="#d3202e" stroke-width="0.7"/>
<line x1="487.30" y1="165.50" x2="490.10" y2="165.50" stroke="#d3202e" stroke-width="0.7"/>
<polyline points="438.00,170.50 463.30,171.22 488.70,168.35" fill="none" stroke="#d3202e" stroke-width="1.2"/>
<circle cx="438.00" cy="170.50" r="1.60" fill="#d3202e"/>
<circle cx="463.30" cy="171.22" r="1.60" fill="#d3202e"/>
<circle cx="488.70" cy="168.35" r="1.60" fill="#d3202e"/>
<text x="400.30" y="177.60" font-size="7.0" text-anchor="middle" textLength="51.50" lengthAdjust="spacingAndGlyphs" fill="#231f20" stroke="#231f20" stroke-width="0.12" transform="rotate(-90 400.30 177.60)">Log2 fold change</text>
<text x="410.60" y="177.60" font-size="7.0" text-anchor="middle" textLength="55.60" lengthAdjust="spacingAndGlyphs" fill="#231f20" stroke="#231f20" stroke-width="0.12" transform="rotate(-90 410.60 177.60)">(relative to DMSO)</text>
<text x="437.80" y="224.50" font-size="6.3" text-anchor="middle" textLength="19.50" lengthAdjust="spacingAndGlyphs" fill="#231f20" stroke="#231f20" stroke-width="0.12">DMSO</text>
<text x="463.70" y="224.50" font-size="6.3" text-anchor="middle" textLength="12.50" lengthAdjust="spacingAndGlyphs" fill="#231f20" stroke="#231f20" stroke-width="0.12">1µM</text>
<text x="489.10" y="224.50" font-size="6.3" text-anchor="middle" textLength="15.80" lengthAdjust="spacingAndGlyphs" fill="#231f20" stroke="#231f20" stroke-width="0.12">10µM</text>
<line x1="452.50" y1="228.80" x2="500.00" y2="228.80" stroke="#000" stroke-width="0.9"/>
<text x="476.60" y="238.00" font-size="6.3" text-anchor="middle" textLength="31.70" lengthAdjust="spacingAndGlyphs" fill="#231f20" stroke="#231f20" stroke-width="0.12">KDM5-inh1</text>
<text x="7.00" y="255.70" font-size="13" font-weight="bold" fill="#000">D</text>
<line x1="32.30" y1="349.10" x2="127.50" y2="349.10" stroke="#111" stroke-width="1.0" stroke-dasharray="2.2 1.6"/>
<rect x="35.50" y="295.24" width="6.20" height="72.96" fill="#f08c00"/>
<line x1="38.60" y1="368.20" x2="38.60" y2="371.60" stroke="#000" stroke-width="0.9"/>
<rect x="44.77" y="323.89" width="6.20" height="44.31" fill="#f08c00"/>
<line x1="47.87" y1="368.20" x2="47.87" y2="371.60" stroke="#000" stroke-width="0.9"/>
<rect x="54.04" y="334.39" width="6.20" height="33.81" fill="#f08c00"/>
<line x1="57.14" y1="368.20" x2="57.14" y2="371.60" stroke="#000" stroke-width="0.9"/>
<rect x="63.31" y="340.31" width="6.20" height="27.89" fill="#f08c00"/>
<line x1="66.41" y1="368.20" x2="66.41" y2="371.60" stroke="#000" stroke-width="0.9"/>
<rect x="72.58" y="342.22" width="6.20" height="25.98" fill="#f08c00"/>
<line x1="75.68" y1="368.20" x2="75.68" y2="371.60" stroke="#000" stroke-width="0.9"/>
<rect x="81.85" y="347.76" width="6.20" height="20.44" fill="#f08c00"/>
<line x1="84.95" y1="368.20" x2="84.95" y2="371.60" stroke="#000" stroke-width="0.9"/>
<rect x="91.12" y="350.63" width="6.20" height="17.57" fill="#f08c00"/>
<line x1="94.22" y1="368.20" x2="94.22" y2="371.60" stroke="#000" stroke-width="0.9"/>
<rect x="100.39" y="356.93" width="6.20" height="11.27" fill="#f08c00"/>
<line x1="103.49" y1="368.20" x2="103.49" y2="371.60" stroke="#000" stroke-width="0.9"/>
<rect x="109.66" y="358.46" width="6.20" height="9.74" fill="#f08c00"/>
<line x1="112.76" y1="368.20" x2="112.76" y2="371.60" stroke="#000" stroke-width="0.9"/>
<rect x="118.93" y="363.43" width="6.20" height="4.77" fill="#f08c00"/>
<line x1="122.03" y1="368.20" x2="122.03" y2="371.60" stroke="#000" stroke-width="0.9"/>
<line x1="32.30" y1="270.30" x2="32.30" y2="368.20" stroke="#1a1a1a" stroke-width="1.3"/>
<line x1="31.70" y1="368.20" x2="127.50" y2="368.20" stroke="#000" stroke-width="1.3"/>
<line x1="29.50" y1="368.20" x2="32.30" y2="368.20" stroke="#000" stroke-width="0.9"/>
<text x="27.00" y="370.50" font-size="6.1" text-anchor="end" fill="#231f20" stroke="#231f20" stroke-width="0.12">0</text>
<line x1="29.50" y1="349.10" x2="32.30" y2="349.10" stroke="#000" stroke-width="0.9"/>
<text x="27.00" y="351.40" font-size="6.1" text-anchor="end" fill="#231f20" stroke="#231f20" stroke-width="0.12">10</text>
<line x1="29.50" y1="330.00" x2="32.30" y2="330.00" stroke="#000" stroke-width="0.9"/>
<text x="27.00" y="332.30" font-size="6.1" text-anchor="end" fill="#231f20" stroke="#231f20" stroke-width="0.12">20</text>
<line x1="29.50" y1="310.90" x2="32.30" y2="310.90" stroke="#000" stroke-width="0.9"/>
<text x="27.00" y="313.20" font-size="6.1" text-anchor="end" fill="#231f20" stroke="#231f20" stroke-width="0.12">30</text>
<line x1="29.50" y1="291.80" x2="32.30" y2="291.80" stroke="#000" stroke-width="0.9"/>
<text x="27.00" y="294.10" font-size="6.1" text-anchor="end" fill="#231f20" stroke="#231f20" stroke-width="0.12">40</text>
<line x1="29.50" y1="272.70" x2="32.30" y2="272.70" stroke="#000" stroke-width="0.9"/>
<text x="27.00" y="275.00" font-size="6.1" text-anchor="end" fill="#231f20" stroke="#231f20" stroke-width="0.12">50</text>
<text x="41.80" y="378.20" font-size="6.9" text-anchor="end" textLength="25.96" lengthAdjust="spacingAndGlyphs" fill="#231f20" stroke="#231f20" stroke-width="0.12" transform="rotate(-45 41.80 378.20)">OCI-LY-1</text>
<text x="51.07" y="378.20" font-size="6.9" text-anchor="end" textLength="36.98" lengthAdjust="spacingAndGlyphs" fill="#231f20" stroke="#231f20" stroke-width="0.12" transform="rotate(-45 51.07 378.20)">WSU-DLCL2</text>
<text x="60.34" y="378.20" font-size="6.9" text-anchor="end" textLength="29.52" lengthAdjust="spacingAndGlyphs" fill="#231f20" stroke="#231f20" stroke-width="0.12" transform="rotate(-45 60.34 378.20)">SU-DHL-4</text>
<text x="69.61" y="378.20" font-size="6.9" text-anchor="end" textLength="29.52" lengthAdjust="spacingAndGlyphs" fill="#231f20" stroke="#231f20" stroke-width="0.12" transform="rotate(-45 69.61 378.20)">SU-DHL-8</text>
<text x="78.88" y="378.20" font-size="6.9" text-anchor="end" textLength="38.30" lengthAdjust="spacingAndGlyphs" fill="#231f20" stroke="#231f20" stroke-width="0.12" transform="rotate(-45 78.88 378.20)">KARPAS-422</text>
<text x="88.15" y="378.20" font-size="6.9" text-anchor="end" textLength="8.53" lengthAdjust="spacingAndGlyphs" fill="#231f20" stroke="#231f20" stroke-width="0.12" transform="rotate(-45 88.15 378.20)">HT</text>
<text x="97.42" y="378.20" font-size="6.9" text-anchor="end" textLength="29.87" lengthAdjust="spacingAndGlyphs" fill="#231f20" stroke="#231f20" stroke-width="0.12" transform="rotate(-45 97.42 378.20)">WSU-NHL</text>
<text x="106.69" y="378.20" font-size="6.9" text-anchor="end" textLength="25.96" lengthAdjust="spacingAndGlyphs" fill="#231f20" stroke="#231f20" stroke-width="0.12" transform="rotate(-45 106.69 378.20)">OCI-LY-7</text>
<text x="115.96" y="378.20" font-size="6.9" text-anchor="end" textLength="29.52" lengthAdjust="spacingAndGlyphs" fill="#231f20" stroke="#231f20" stroke-width="0.12" transform="rotate(-45 115.96 378.20)">SU-DHL-6</text>
<text x="125.23" y="378.20" font-size="6.9" text-anchor="end" textLength="22.40" lengthAdjust="spacingAndGlyphs" fill="#231f20" stroke="#231f20" stroke-width="0.12" transform="rotate(-45 125.23 378.20)">DOHH2</text>
<text x="80.25" y="268.40" font-size="7.6" text-anchor="middle" textLength="49.50" lengthAdjust="spacingAndGlyphs" fill="#231f20" stroke="#231f20" stroke-width="0.12">Loewe synergy</text>
<line x1="156.20" y1="352.30" x2="251.70" y2="352.30" stroke="#111" stroke-width="1.0" stroke-dasharray="2.2 1.6"/>
<rect x="159.20" y="282.02" width="6.20" height="86.18" fill="#f08c00"/>
<line x1="162.30" y1="368.20" x2="162.30" y2="371.60" stroke="#000" stroke-width="0.9"/>
<rect x="168.57" y="319.70" width="6.20" height="48.50" fill="#f08c00"/>
<line x1="171.67" y1="368.20" x2="171.67" y2="371.60" stroke="#000" stroke-width="0.9"/>
<rect x="177.94" y="330.44" width="6.20" height="37.76" fill="#f08c00"/>
<line x1="181.04" y1="368.20" x2="181.04" y2="371.60" stroke="#000" stroke-width="0.9"/>
<rect x="187.31" y="336.72" width="6.20" height="31.48" fill="#f08c00"/>
<line x1="190.41" y1="368.20" x2="190.41" y2="371.60" stroke="#000" stroke-width="0.9"/>
<rect x="196.68" y="337.83" width="6.20" height="30.37" fill="#f08c00"/>
<line x1="199.78" y1="368.20" x2="199.78" y2="371.60" stroke="#000" stroke-width="0.9"/>
<rect x="206.05" y="337.83" width="6.20" height="30.37" fill="#f08c00"/>
<line x1="209.15" y1="368.20" x2="209.15" y2="371.60" stroke="#000" stroke-width="0.9"/>
<rect x="215.42" y="346.58" width="6.20" height="21.62" fill="#f08c00"/>
<line x1="218.52" y1="368.20" x2="218.52" y2="371.60" stroke="#000" stroke-width="0.9"/>
<rect x="224.79" y="347.37" width="6.20" height="20.83" fill="#f08c00"/>
<line x1="227.89" y1="368.20" x2="227.89" y2="371.60" stroke="#000" stroke-width="0.9"/>
<rect x="234.16" y="358.26" width="6.20" height="9.94" fill="#f08c00"/>
<line x1="237.26" y1="368.20" x2="237.26" y2="371.60" stroke="#000" stroke-width="0.9"/>
<rect x="243.53" y="363.43" width="6.20" height="4.77" fill="#f08c00"/>
<line x1="246.63" y1="368.20" x2="246.63" y2="371.60" stroke="#000" stroke-width="0.9"/>
<line x1="156.20" y1="270.40" x2="156.20" y2="368.20" stroke="#1a1a1a" stroke-width="1.3"/>
<line x1="155.60" y1="368.20" x2="251.70" y2="368.20" stroke="#000" stroke-width="1.3"/>
<line x1="153.40" y1="368.20" x2="156.20" y2="368.20" stroke="#000" stroke-width="0.9"/>
<text x="150.90" y="370.50" font-size="6.1" text-anchor="end" fill="#231f20" stroke="#231f20" stroke-width="0.12">0</text>
<line x1="153.40" y1="336.40" x2="156.20" y2="336.40" stroke="#000" stroke-width="0.9"/>
<text x="150.90" y="338.70" font-size="6.1" text-anchor="end" fill="#231f20" stroke="#231f20" stroke-width="0.12">20</text>
<line x1="153.40" y1="304.60" x2="156.20" y2="304.60" stroke="#000" stroke-width="0.9"/>
<text x="150.90" y="306.90" font-size="6.1" text-anchor="end" fill="#231f20" stroke="#231f20" stroke-width="0.12">40</text>
<line x1="153.40" y1="272.80" x2="156.20" y2="272.80" stroke="#000" stroke-width="0.9"/>
<text x="150.90" y="275.10" font-size="6.1" text-anchor="end" fill="#231f20" stroke="#231f20" stroke-width="0.12">60</text>
<text x="165.50" y="378.20" font-size="6.9" text-anchor="end" textLength="25.96" lengthAdjust="spacingAndGlyphs" fill="#231f20" stroke="#231f20" stroke-width="0.12" transform="rotate(-45 165.50 378.20)">OCI-LY-1</text>
<text x="174.87" y="378.20" font-size="6.9" text-anchor="end" textLength="29.52" lengthAdjust="spacingAndGlyphs" fill="#231f20" stroke="#231f20" stroke-width="0.12" transform="rotate(-45 174.87 378.20)">SU-DHL-4</text>
<text x="184.24" y="378.20" font-size="6.9" text-anchor="end" textLength="36.98" lengthAdjust="spacingAndGlyphs" fill="#231f20" stroke="#231f20" stroke-width="0.12" transform="rotate(-45 184.24 378.20)">WSU-DLCL2</text>
<text x="193.61" y="378.20" font-size="6.9" text-anchor="end" textLength="38.30" lengthAdjust="spacingAndGlyphs" fill="#231f20" stroke="#231f20" stroke-width="0.12" transform="rotate(-45 193.61 378.20)">KARPAS-422</text>
<text x="202.98" y="378.20" font-size="6.9" text-anchor="end" textLength="29.87" lengthAdjust="spacingAndGlyphs" fill="#231f20" stroke="#231f20" stroke-width="0.12" transform="rotate(-45 202.98 378.20)">WSU-NHL</text>
<text x="212.35" y="378.20" font-size="6.9" text-anchor="end" textLength="29.52" lengthAdjust="spacingAndGlyphs" fill="#231f20" stroke="#231f20" stroke-width="0.12" transform="rotate(-45 212.35 378.20)">SU-DHL-8</text>
<text x="221.72" y="378.20" font-size="6.9" text-anchor="end" textLength="8.53" lengthAdjust="spacingAndGlyphs" fill="#231f20" stroke="#231f20" stroke-width="0.12" transform="rotate(-45 221.72 378.20)">HT</text>
<text x="231.09" y="378.20" font-size="6.9" text-anchor="end" textLength="29.52" lengthAdjust="spacingAndGlyphs" fill="#231f20" stroke="#231f20" stroke-width="0.12" transform="rotate(-45 231.09 378.20)">SU-DHL-6</text>
<text x="240.46" y="378.20" font-size="6.9" text-anchor="end" textLength="25.96" lengthAdjust="spacingAndGlyphs" fill="#231f20" stroke="#231f20" stroke-width="0.12" transform="rotate(-45 240.46 378.20)">OCI-LY-7</text>
<text x="249.83" y="378.20" font-size="6.9" text-anchor="end" textLength="22.40" lengthAdjust="spacingAndGlyphs" fill="#231f20" stroke="#231f20" stroke-width="0.12" transform="rotate(-45 249.83 378.20)">DOHH2</text>
<text x="203.75" y="267.40" font-size="7.6" text-anchor="middle" textLength="42.50" lengthAdjust="spacingAndGlyphs" fill="#231f20" stroke="#231f20" stroke-width="0.12">HSA synergy</text>
<text x="14.30" y="323.30" font-size="7.2" text-anchor="middle" textLength="41.00" lengthAdjust="spacingAndGlyphs" fill="#231f20" stroke="#231f20" stroke-width="0.12" transform="rotate(-90 14.30 323.30)">Synergy score</text>
<text x="266.40" y="255.90" font-size="13" font-weight="bold" fill="#000">E</text>
<g clip-path="url(#c1)"><g filter="url(#hb)">
<rect x="292.6" y="276.6" width="6.3" height="3.3" fill="#fff9f9"/>
<rect x="298.6" y="276.6" width="3.3" height="3.3" fill="#fff6f6"/>
<rect x="301.6" y="276.6" width="3.3" height="3.3" fill="#fff0f0"/>
<rect x="304.6" y="276.6" width="3.3" height="3.3" fill="#fce4e4"/>
<rect x="307.6" y="276.6" width="3.3" height="3.3" fill="#fccfcf"/>
<rect x="310.6" y="276.6" width="3.3" height="3.3" fill="#f9b1b4"/>
<rect x="313.6" y="276.6" width="3.3" height="3.3" fill="#f69393"/>
<rect x="316.6" y="276.6" width="3.3" height="3.3" fill="#f37575"/>
<rect x="319.6" y="276.6" width="3.3" height="3.3" fill="#f35d60"/>
<rect x="322.6" y="276.6" width="3.3" height="3.3" fill="#f05154"/>
<rect x="325.6" y="276.6" width="3.3" height="3.3" fill="#f04b4b"/>
<rect x="328.6" y="276.6" width="3.3" height="3.3" fill="#f04548"/>
<rect x="331.6" y="276.6" width="6.3" height="3.3" fill="#f04545"/>
<rect x="337.6" y="276.6" width="3.3" height="3.3" fill="#f04548"/>
<rect x="340.6" y="276.6" width="3.3" height="3.3" fill="#f04b4b"/>
<rect x="343.6" y="276.6" width="3.3" height="3.3" fill="#f04e51"/>
<rect x="346.6" y="276.6" width="3.3" height="3.3" fill="#f05454"/>
<rect x="349.6" y="276.6" width="3.3" height="3.3" fill="#f0575a"/>
<rect x="352.6" y="276.6" width="3.3" height="3.3" fill="#f35d60"/>
<rect x="355.6" y="276.6" width="3.3" height="3.3" fill="#f36363"/>
<rect x="358.6" y="276.6" width="3.3" height="3.3" fill="#f36666"/>
<rect x="361.6" y="276.6" width="3.3" height="3.3" fill="#f3696c"/>
<rect x="364.6" y="276.6" width="3.3" height="3.3" fill="#f36c6c"/>
<rect x="367.6" y="276.6" width="3.3" height="3.3" fill="#f36f6f"/>
<rect x="370.6" y="276.6" width="3.3" height="3.3" fill="#f36f72"/>
<rect x="373.6" y="276.6" width="15.3" height="3.3" fill="#f37272"/>
<rect x="292.6" y="279.6" width="6.3" height="3.3" fill="#fff9f9"/>
<rect x="298.6" y="279.6" width="3.3" height="3.3" fill="#fff6f6"/>
<rect x="301.6" y="279.6" width="3.3" height="3.3" fill="#fff0f0"/>
<rect x="304.6" y="279.6" width="3.3" height="3.3" fill="#fce4e4"/>
<rect x="307.6" y="279.6" width="3.3" height="3.3" fill="#fccfcf"/>
<rect x="310.6" y="279.6" width="3.3" height="3.3" fill="#f9b1b4"/>
<rect x="313.6" y="279.6" width="3.3" height="3.3" fill="#f69393"/>
<rect x="316.6" y="279.6" width="3.3" height="3.3" fill="#f37575"/>
<rect x="319.6" y="279.6" width="3.3" height="3.3" fill="#f35d60"/>
<rect x="322.6" y="279.6" width="3.3" height="3.3" fill="#f05154"/>
<rect x="325.6" y="279.6" width="3.3" height="3.3" fill="#f04b4b"/>
<rect x="328.6" y="279.6" width="3.3" height="3.3" fill="#f04548"/>
<rect x="331.6" y="279.6" width="6.3" height="3.3" fill="#f04545"/>
<rect x="337.6" y="279.6" width="3.3" height="3.3" fill="#f04548"/>
<rect x="340.6" y="279.6" width="3.3" height="3.3" fill="#f04b4b"/>
<rect x="343.6" y="279.6" width="3.3" height="3.3" fill="#f04e51"/>
<rect x="346.6" y="279.6" width="3.3" height="3.3" fill="#f05454"/>
<rect x="349.6" y="279.6" width="3.3" height="3.3" fill="#f0575a"/>
<rect x="352.6" y="279.6" width="3.3" height="3.3" fill="#f35d60"/>
<rect x="355.6" y="279.6" width="3.3" height="3.3" fill="#f36363"/>
<rect x="358.6" y="279.6" width="3.3" height="3.3" fill="#f36666"/>
<rect x="361.6" y="279.6" width="3.3" height="3.3" fill="#f3696c"/>
<rect x="364.6" y="279.6" width="3.3" height="3.3" fill="#f36c6c"/>
<rect x="367.6" y="279.6" width="3.3" height="3.3" fill="#f36f6f"/>
<rect x="370.6" y="279.6" width="3.3" height="3.3" fill="#f36f72"/>
<rect x="373.6" y="279.6" width="15.3" height="3.3" fill="#f37272"/>
<rect x="292.6" y="282.6" width="6.3" height="3.3" fill="#fff9f9"/>
<rect x="298.6" y="282.6" width="3.3" height="3.3" fill="#fff6f6"/>
<rect x="301.6" y="282.6" width="3.3" height="3.3" fill="#fff0f0"/>
<rect x="304.6" y="282.6" width="3.3" height="3.3" fill="#fce4e4"/>
<rect x="307.6" y="282.6" width="3.3" height="3.3" fill="#fccfcf"/>
<rect x="310.6" y="282.6" width="3.3" height="3.3" fill="#f9b1b4"/>
<rect x="313.6" y="282.6" width="3.3" height="3.3" fill="#f69093"/>
<rect x="316.6" y="282.6" width="3.3" height="3.3" fill="#f37275"/>
<rect x="319.6" y="282.6" width="3.3" height="3.3" fill="#f35d60"/>
<rect x="322.6" y="282.6" width="3.3" height="3.3" fill="#f05151"/>
<rect x="325.6" y="282.6" width="3.3" height="3.3" fill="#f0484b"/>
<rect x="328.6" y="282.6" width="3.3" height="3.3" fill="#f04548"/>
<rect x="331.6" y="282.6" width="3.3" height="3.3" fill="#f04245"/>
<rect x="334.6" y="282.6" width="3.3" height="3.3" fill="#f04545"/>
<rect x="337.6" y="282.6" width="3.3" height="3.3" fill="#f04548"/>
<rect x="340.6" y="282.6" width="3.3" height="3.3" fill="#f0484b"/>
<rect x="343.6" y="282.6" width="3.3" height="3.3" fill="#f04e4e"/>
<rect x="346.6" y="282.6" width="3.3" height="3.3" fill="#f05454"/>
<rect x="349.6" y="282.6" width="3.3" height="3.3" fill="#f0575a"/>
<rect x="352.6" y="282.6" width="3.3" height="3.3" fill="#f35d5d"/>
<rect x="355.6" y="282.6" width="3.3" height="3.3" fill="#f36363"/>
<rect x="358.6" y="282.6" width="3.3" height="3.3" fill="#f36666"/>
<rect x="361.6" y="282.6" width="3.3" height="3.3" fill="#f36969"/>
<rect x="364.6" y="282.6" width="3.3" height="3.3" fill="#f36c6c"/>
<rect x="367.6" y="282.6" width="6.3" height="3.3" fill="#f36f6f"/>
<rect x="373.6" y="282.6" width="3.3" height="3.3" fill="#f36f72"/>
<rect x="376.6" y="282.6" width="12.3" height="3.3" fill="#f37272"/>
<rect x="292.6" y="285.6" width="6.3" height="3.3" fill="#fff9f9"/>
<rect x="298.6" y="285.6" width="3.3" height="3.3" fill="#fff6f6"/>
<rect x="301.6" y="285.6" width="3.3" height="3.3" fill="#fff0f0"/>
<rect x="304.6" y="285.6" width="3.3" height="3.3" fill="#fce4e4"/>
<rect x="307.6" y="285.6" width="3.3" height="3.3" fill="#fccfcf"/>
<rect x="310.6" y="285.6" width="3.3" height="3.3" fill="#f9b1b1"/>
<rect x="313.6" y="285.6" width="3.3" height="3.3" fill="#f69090"/>
<rect x="316.6" y="285.6" width="3.3" height="3.3" fill="#f37272"/>
<rect x="319.6" y="285.6" width="3.3" height="3.3" fill="#f05d5d"/>
<rect x="322.6" y="285.6" width="3.3" height="3.3" fill="#f04e51"/>
<rect x="325.6" y="285.6" width="3.3" height="3.3" fill="#f04848"/>
<rect x="328.6" y="285.6" width="3.3" height="3.3" fill="#f04545"/>
<rect x="331.6" y="285.6" width="6.3" height="3.3" fill="#f04242"/>
<rect x="337.6" y="285.6" width="3.3" height="3.3" fill="#f04545"/>
<rect x="340.6" y="285.6" width="3.3" height="3.3" fill="#f04848"/>
<rect x="343.6" y="285.6" width="3.3" height="3.3" fill="#f04b4e"/>
<rect x="346.6" y="285.6" width="3.3" height="3.3" fill="#f05151"/>
<rect x="349.6" y="285.6" width="3.3" height="3.3" fill="#f05757"/>
<rect x="352.6" y="285.6" width="3.3" height="3.3" fill="#f05a5d"/>
<rect x="355.6" y="285.6" width="3.3" height="3.3" fill="#f36060"/>
<rect x="358.6" y="285.6" width="3.3" height="3.3" fill="#f36366"/>
<rect x="361.6" y="285.6" width="3.3" height="3.3" fill="#f36969"/>
<rect x="364.6" y="285.6" width="3.3" height="3.3" fill="#f3696c"/>
<rect x="367.6" y="285.6" width="3.3" height="3.3" fill="#f36c6f"/>
<rect x="370.6" y="285.6" width="6.3" height="3.3" fill="#f36f6f"/>
<rect x="376.6" y="285.6" width="12.3" height="3.3" fill="#f36f72"/>
<rect x="292.6" y="288.6" width="6.3" height="3.3" fill="#fff9f9"/>
<rect x="298.6" y="288.6" width="3.3" height="3.3" fill="#fff6f6"/>
<rect x="301.6" y="288.6" width="3.3" height="3.3" fill="#fff0f0"/>
<rect x="304.6" y="288.6" width="3.3" height="3.3" fill="#fce1e1"/>
<rect x="307.6" y="288.6" width="3.3" height="3.3" fill="#fccccf"/>
<rect x="310.6" y="288.6" width="3.3" height="3.3" fill="#f9b1b1"/>
<rect x="313.6" y="288.6" width="3.3" height="3.3" fill="#f69090"/>
<rect x="316.6" y="288.6" width="3.3" height="3.3" fill="#f36f72"/>
<rect x="319.6" y="288.6" width="3.3" height="3.3" fill="#f05a5a"/>
<rect x="322.6" y="288.6" width="3.3" height="3.3" fill="#f04b4e"/>
<rect x="325.6" y="288.6" width="3.3" height="3.3" fill="#f04545"/>
<rect x="328.6" y="288.6" width="3.3" height="3.3" fill="#f04242"/>
<rect x="331.6" y="288.6" width="3.3" height="3.3" fill="#f03f3f"/>
<rect x="334.6" y="288.6" width="3.3" height="3.3" fill="#f03f42"/>
<rect x="337.6" y="288.6" width="3.3" height="3.3" fill="#f04242"/>
<rect x="340.6" y="288.6" width="3.3" height="3.3" fill="#f04545"/>
<rect x="343.6" y="288.6" width="3.3" height="3.3" fill="#f0484b"/>
<rect x="346.6" y="288.6" width="3.3" height="3.3" fill="#f04e51"/>
<rect x="349.6" y="288.6" width="3.3" height="3.3" fill="#f05454"/>
<rect x="352.6" y="288.6" width="3.3" height="3.3" fill="#f05a5a"/>
<rect x="355.6" y="288.6" width="3.3" height="3.3" fill="#f35d60"/>
<rect x="358.6" y="288.6" width="3.3" height="3.3" fill="#f36363"/>
<rect x="361.6" y="288.6" width="3.3" height="3.3" fill="#f36666"/>
<rect x="364.6" y="288.6" width="3.3" height="3.3" fill="#f36969"/>
<rect x="367.6" y="288.6" width="3.3" height="3.3" fill="#f3696c"/>
<rect x="370.6" y="288.6" width="3.3" height="3.3" fill="#f36c6c"/>
<rect x="373.6" y="288.6" width="6.3" height="3.3" fill="#f36c6f"/>
<rect x="379.6" y="288.6" width="9.3" height="3.3" fill="#f36f6f"/>
<rect x="292.6" y="291.6" width="6.3" height="3.3" fill="#fff9f9"/>
<rect x="298.6" y="291.6" width="3.3" height="3.3" fill="#fff6f6"/>
<rect x="301.6" y="291.6" width="3.3" height="3.3" fill="#fff0f0"/>
<rect x="304.6" y="291.6" width="3.3" height="3.3" fill="#fce1e1"/>
<rect x="307.6" y="291.6" width="3.3" height="3.3" fill="#fccccc"/>
<rect x="310.6" y="291.6" width="3.3" height="3.3" fill="#f9aeae"/>
<rect x="313.6" y="291.6" width="3.3" height="3.3" fill="#f68d8d"/>
<rect x="316.6" y="291.6" width="3.3" height="3.3" fill="#f36c6f"/>
<rect x="319.6" y="291.6" width="3.3" height="3.3" fill="#f05757"/>
<rect x="322.6" y="291.6" width="3.3" height="3.3" fill="#f0484b"/>
<rect x="325.6" y="291.6" width="3.3" height="3.3" fill="#f04242"/>
<rect x="328.6" y="291.6" width="3.3" height="3.3" fill="#f03c3f"/>
<rect x="331.6" y="291.6" width="6.3" height="3.3" fill="#f03c3c"/>
<rect x="337.6" y="291.6" width="3.3" height="3.3" fill="#f03c3f"/>
<rect x="340.6" y="291.6" width="3.3" height="3.3" fill="#f03f42"/>
<rect x="343.6" y="291.6" width="3.3" height="3.3" fill="#f04548"/>
<rect x="346.6" y="291.6" width="3.3" height="3.3" fill="#f04b4b"/>
<rect x="349.6" y="291.6" width="3.3" height="3.3" fill="#f05151"/>
<rect x="352.6" y="291.6" width="3.3" height="3.3" fill="#f05457"/>
<rect x="355.6" y="291.6" width="3.3" height="3.3" fill="#f05a5d"/>
<rect x="358.6" y="291.6" width="3.3" height="3.3" fill="#f35d60"/>
<rect x="361.6" y="291.6" width="3.3" height="3.3" fill="#f36363"/>
<rect x="364.6" y="291.6" width="3.3" height="3.3" fill="#f36666"/>
<rect x="367.6" y="291.6" width="3.3" height="3.3" fill="#f36669"/>
<rect x="370.6" y="291.6" width="3.3" height="3.3" fill="#f36969"/>
<rect x="373.6" y="291.6" width="6.3" height="3.3" fill="#f3696c"/>
<rect x="379.6" y="291.6" width="9.3" height="3.3" fill="#f36c6c"/>
<rect x="292.6" y="294.6" width="6.3" height="3.3" fill="#fff9f9"/>
<rect x="298.6" y="294.6" width="3.3" height="3.3" fill="#fff6f6"/>
<rect x="301.6" y="294.6" width="3.3" height="3.3" fill="#ffeded"/>
<rect x="304.6" y="294.6" width="3.3" height="3.3" fill="#fce1e1"/>
<rect x="307.6" y="294.6" width="3.3" height="3.3" fill="#fccccc"/>
<rect x="310.6" y="294.6" width="3.3" height="3.3" fill="#f9abae"/>
<rect x="313.6" y="294.6" width="3.3" height="3.3" fill="#f68a8a"/>
<rect x="316.6" y="294.6" width="3.3" height="3.3" fill="#f36969"/>
<rect x="319.6" y="294.6" width="3.3" height="3.3" fill="#f05154"/>
<rect x="322.6" y="294.6" width="3.3" height="3.3" fill="#f04245"/>
<rect x="325.6" y="294.6" width="3.3" height="3.3" fill="#f03c3c"/>
<rect x="328.6" y="294.6" width="3.3" height="3.3" fill="#ed3639"/>
<rect x="331.6" y="294.6" width="6.3" height="3.3" fill="#ed3636"/>
<rect x="337.6" y="294.6" width="3.3" height="3.3" fill="#ed3639"/>
<rect x="340.6" y="294.6" width="3.3" height="3.3" fill="#f03c3c"/>
<rect x="343.6" y="294.6" width="3.3" height="3.3" fill="#f03f42"/>
<rect x="346.6" y="294.6" width="3.3" height="3.3" fill="#f04548"/>
<rect x="349.6" y="294.6" width="3.3" height="3.3" fill="#f04b4e"/>
<rect x="352.6" y="294.6" width="3.3" height="3.3" fill="#f05151"/>
<rect x="355.6" y="294.6" width="3.3" height="3.3" fill="#f05757"/>
<rect x="358.6" y="294.6" width="3.3" height="3.3" fill="#f05a5a"/>
<rect x="361.6" y="294.6" width="3.3" height="3.3" fill="#f35d60"/>
<rect x="364.6" y="294.6" width="3.3" height="3.3" fill="#f36063"/>
<rect x="367.6" y="294.6" width="3.3" height="3.3" fill="#f36363"/>
<rect x="370.6" y="294.6" width="3.3" height="3.3" fill="#f36366"/>
<rect x="373.6" y="294.6" width="6.3" height="3.3" fill="#f36666"/>
<rect x="379.6" y="294.6" width="9.3" height="3.3" fill="#f36669"/>
<rect x="292.6" y="297.6" width="6.3" height="3.3" fill="#fff9f9"/>
<rect x="298.6" y="297.6" width="3.3" height="3.3" fill="#fff6f6"/>
<rect x="301.6" y="297.6" width="3.3" height="3.3" fill="#ffeded"/>
<rect x="304.6" y="297.6" width="3.3" height="3.3" fill="#fce1e1"/>
<rect x="307.6" y="297.6" width="3.3" height="3.3" fill="#fcc9c9"/>
<rect x="310.6" y="297.6" width="3.3" height="3.3" fill="#f9abab"/>
<rect x="313.6" y="297.6" width="3.3" height="3.3" fill="#f68487"/>
<rect x="316.6" y="297.6" width="3.3" height="3.3" fill="#f36366"/>
<rect x="319.6" y="297.6" width="3.3" height="3.3" fill="#f04b4e"/>
<rect x="322.6" y="297.6" width="3.3" height="3.3" fill="#f03c3f"/>
<rect x="325.6" y="297.6" width="3.3" height="3.3" fill="#ed3636"/>
<rect x="328.6" y="297.6" width="3.3" height="3.3" fill="#ed3033"/>
<rect x="331.6" y="297.6" width="6.3" height="3.3" fill="#ed3030"/>
<rect x="337.6" y="297.6" width="3.3" height="3.3" fill="#ed3033"/>
<rect x="340.6" y="297.6" width="3.3" height="3.3" fill="#ed3636"/>
<rect x="343.6" y="297.6" width="3.3" height="3.3" fill="#f0393c"/>
<rect x="346.6" y="297.6" width="3.3" height="3.3" fill="#f03f42"/>
<rect x="349.6" y="297.6" width="3.3" height="3.3" fill="#f04548"/>
<rect x="352.6" y="297.6" width="3.3" height="3.3" fill="#f04b4e"/>
<rect x="355.6" y="297.6" width="3.3" height="3.3" fill="#f05151"/>
<rect x="358.6" y="297.6" width="3.3" height="3.3" fill="#f05457"/>
<rect x="361.6" y="297.6" width="3.3" height="3.3" fill="#f0575a"/>
<rect x="364.6" y="297.6" width="3.3" height="3.3" fill="#f05a5d"/>
<rect x="367.6" y="297.6" width="3.3" height="3.3" fill="#f35d60"/>
<rect x="370.6" y="297.6" width="3.3" height="3.3" fill="#f36060"/>
<rect x="373.6" y="297.6" width="6.3" height="3.3" fill="#f36063"/>
<rect x="379.6" y="297.6" width="9.3" height="3.3" fill="#f36363"/>
<rect x="292.6" y="300.6" width="6.3" height="3.3" fill="#fff9f9"/>
<rect x="298.6" y="300.6" width="3.3" height="3.3" fill="#fff6f6"/>
<rect x="301.6" y="300.6" width="3.3" height="3.3" fill="#ffeded"/>
<rect x="304.6" y="300.6" width="3.3" height="3.3" fill="#fcdede"/>
<rect x="307.6" y="300.6" width="3.3" height="3.3" fill="#f9c6c9"/>
<rect x="310.6" y="300.6" width="3.3" height="3.3" fill="#f9a8a8"/>
<rect x="313.6" y="300.6" width="3.3" height="3.3" fill="#f68181"/>
<rect x="316.6" y="300.6" width="3.3" height="3.3" fill="#f36060"/>
<rect x="319.6" y="300.6" width="3.3" height="3.3" fill="#f04548"/>
<rect x="322.6" y="300.6" width="3.3" height="3.3" fill="#ed3639"/>
<rect x="325.6" y="300.6" width="3.3" height="3.3" fill="#ed3030"/>
<rect x="328.6" y="300.6" width="3.3" height="3.3" fill="#ed2a2d"/>
<rect x="331.6" y="300.6" width="6.3" height="3.3" fill="#ed272a"/>
<rect x="337.6" y="300.6" width="3.3" height="3.3" fill="#ed2a2d"/>
<rect x="340.6" y="300.6" width="3.3" height="3.3" fill="#ed2d30"/>
<rect x="343.6" y="300.6" width="3.3" height="3.3" fill="#ed3336"/>
<rect x="346.6" y="300.6" width="3.3" height="3.3" fill="#f0393c"/>
<rect x="349.6" y="300.6" width="3.3" height="3.3" fill="#f03f42"/>
<rect x="352.6" y="300.6" width="3.3" height="3.3" fill="#f04548"/>
<rect x="355.6" y="300.6" width="3.3" height="3.3" fill="#f04b4b"/>
<rect x="358.6" y="300.6" width="3.3" height="3.3" fill="#f04e51"/>
<rect x="361.6" y="300.6" width="3.3" height="3.3" fill="#f05454"/>
<rect x="364.6" y="300.6" width="3.3" height="3.3" fill="#f05757"/>
<rect x="367.6" y="300.6" width="3.3" height="3.3" fill="#f0575a"/>
<rect x="370.6" y="300.6" width="6.3" height="3.3" fill="#f05a5d"/>
<rect x="376.6" y="300.6" width="3.3" height="3.3" fill="#f05d5d"/>
<rect x="379.6" y="300.6" width="9.3" height="3.3" fill="#f35d5d"/>
<rect x="292.6" y="303.6" width="6.3" height="3.3" fill="#fff9f9"/>
<rect x="298.6" y="303.6" width="3.3" height="3.3" fill="#fff6f6"/>
<rect x="301.6" y="303.6" width="3.3" height="3.3" fill="#fceded"/>
<rect x="304.6" y="303.6" width="3.3" height="3.3" fill="#fcdede"/>
<rect x="307.6" y="303.6" width="3.3" height="3.3" fill="#f9c6c6"/>
<rect x="310.6" y="303.6" width="3.3" height="3.3" fill="#f6a5a5"/>
<rect x="313.6" y="303.6" width="3.3" height="3.3" fill="#f37e7e"/>
<rect x="316.6" y="303.6" width="3.3" height="3.3" fill="#f05a5d"/>
<rect x="319.6" y="303.6" width="3.3" height="3.3" fill="#f04242"/>
<rect x="322.6" y="303.6" width="3.3" height="3.3" fill="#ed3033"/>
<rect x="325.6" y="303.6" width="3.3" height="3.3" fill="#ed2a2a"/>
<rect x="328.6" y="303.6" width="3.3" height="3.3" fill="#ed2427"/>
<rect x="331.6" y="303.6" width="6.3" height="3.3" fill="#ed2124"/>
<rect x="337.6" y="303.6" width="3.3" height="3.3" fill="#ed2427"/>
<rect x="340.6" y="303.6" width="3.3" height="3.3" fill="#ed2a2a"/>
<rect x="343.6" y="303.6" width="3.3" height="3.3" fill="#ed2d30"/>
<rect x="346.6" y="303.6" width="3.3" height="3.3" fill="#ed3336"/>
<rect x="349.6" y="303.6" width="3.3" height="3.3" fill="#f0393c"/>
<rect x="352.6" y="303.6" width="3.3" height="3.3" fill="#f03f42"/>
<rect x="355.6" y="303.6" width="3.3" height="3.3" fill="#f04548"/>
<rect x="358.6" y="303.6" width="3.3" height="3.3" fill="#f04b4b"/>
<rect x="361.6" y="303.6" width="3.3" height="3.3" fill="#f04e51"/>
<rect x="364.6" y="303.6" width="3.3" height="3.3" fill="#f05154"/>
<rect x="367.6" y="303.6" width="3.3" height="3.3" fill="#f05454"/>
<rect x="370.6" y="303.6" width="6.3" height="3.3" fill="#f05757"/>
<rect x="376.6" y="303.6" width="12.3" height="3.3" fill="#f0575a"/>
<rect x="292.6" y="306.6" width="6.3" height="3.3" fill="#fff9f9"/>
<rect x="298.6" y="306.6" width="3.3" height="3.3" fill="#fff6f6"/>
<rect x="301.6" y="306.6" width="3.3" height="3.3" fill="#fceded"/>
<rect x="304.6" y="306.6" width="3.3" height="3.3" fill="#fcdede"/>
<rect x="307.6" y="306.6" width="3.3" height="3.3" fill="#f9c6c6"/>
<rect x="310.6" y="306.6" width="3.3" height="3.3" fill="#f6a2a2"/>
<rect x="313.6" y="306.6" width="3.3" height="3.3" fill="#f37b7b"/>
<rect x="316.6" y="306.6" width="3.3" height="3.3" fill="#f0575a"/>
<rect x="319.6" y="306.6" width="3.3" height="3.3" fill="#f03c3f"/>
<rect x="322.6" y="306.6" width="3.3" height="3.3" fill="#ed2d30"/>
<rect x="325.6" y="306.6" width="3.3" height="3.3" fill="#ed2427"/>
<rect x="328.6" y="306.6" width="3.3" height="3.3" fill="#ed2121"/>
<rect x="331.6" y="306.6" width="6.3" height="3.3" fill="#ed1e21"/>
<rect x="337.6" y="306.6" width="3.3" height="3.3" fill="#ed2121"/>
<rect x="340.6" y="306.6" width="3.3" height="3.3" fill="#ed2427"/>
<rect x="343.6" y="306.6" width="3.3" height="3.3" fill="#ed2a2d"/>
<rect x="346.6" y="306.6" width="3.3" height="3.3" fill="#ed3033"/>
<rect x="349.6" y="306.6" width="3.3" height="3.3" fill="#ed3639"/>
<rect x="352.6" y="306.6" width="3.3" height="3.3" fill="#f03c3f"/>
<rect x="355.6" y="306.6" width="3.3" height="3.3" fill="#f04245"/>
<rect x="358.6" y="306.6" width="3.3" height="3.3" fill="#f04848"/>
<rect x="361.6" y="306.6" width="3.3" height="3.3" fill="#f04b4e"/>
<rect x="364.6" y="306.6" width="3.3" height="3.3" fill="#f04e51"/>
<rect x="367.6" y="306.6" width="3.3" height="3.3" fill="#f05151"/>
<rect x="370.6" y="306.6" width="3.3" height="3.3" fill="#f05154"/>
<rect x="373.6" y="306.6" width="3.3" height="3.3" fill="#f05454"/>
<rect x="376.6" y="306.6" width="12.3" height="3.3" fill="#f05457"/>
<rect x="292.6" y="309.6" width="6.3" height="3.3" fill="#fff9f9"/>
<rect x="298.6" y="309.6" width="3.3" height="3.3" fill="#fff6f6"/>
<rect x="301.6" y="309.6" width="3.3" height="3.3" fill="#fceded"/>
<rect x="304.6" y="309.6" width="3.3" height="3.3" fill="#fcdede"/>
<rect x="307.6" y="309.6" width="3.3" height="3.3" fill="#f9c3c6"/>
<rect x="310.6" y="309.6" width="3.3" height="3.3" fill="#f6a2a2"/>
<rect x="313.6" y="309.6" width="3.3" height="3.3" fill="#f37b7b"/>
<rect x="316.6" y="309.6" width="3.3" height="3.3" fill="#f05757"/>
<rect x="319.6" y="309.6" width="3.3" height="3.3" fill="#f03c3f"/>
<rect x="322.6" y="309.6" width="3.3" height="3.3" fill="#ed2d2d"/>
<rect x="325.6" y="309.6" width="3.3" height="3.3" fill="#ed2424"/>
<rect x="328.6" y="309.6" width="3.3" height="3.3" fill="#ed1e21"/>
<rect x="331.6" y="309.6" width="6.3" height="3.3" fill="#ed1b1e"/>
<rect x="337.6" y="309.6" width="3.3" height="3.3" fill="#ed1e21"/>
<rect x="340.6" y="309.6" width="3.3" height="3.3" fill="#ed2424"/>
<rect x="343.6" y="309.6" width="3.3" height="3.3" fill="#ed272a"/>
<rect x="346.6" y="309.6" width="3.3" height="3.3" fill="#ed3030"/>
<rect x="349.6" y="309.6" width="3.3" height="3.3" fill="#ed3636"/>
<rect x="352.6" y="309.6" width="3.3" height="3.3" fill="#f03c3c"/>
<rect x="355.6" y="309.6" width="3.3" height="3.3" fill="#f04242"/>
<rect x="358.6" y="309.6" width="3.3" height="3.3" fill="#f04548"/>
<rect x="361.6" y="309.6" width="3.3" height="3.3" fill="#f04b4b"/>
<rect x="364.6" y="309.6" width="3.3" height="3.3" fill="#f04e4e"/>
<rect x="367.6" y="309.6" width="3.3" height="3.3" fill="#f04e51"/>
<rect x="370.6" y="309.6" width="6.3" height="3.3" fill="#f05154"/>
<rect x="376.6" y="309.6" width="12.3" height="3.3" fill="#f05454"/>
<rect x="292.6" y="312.6" width="6.3" height="3.3" fill="#fff9f9"/>
<rect x="298.6" y="312.6" width="3.3" height="3.3" fill="#fff6f6"/>
<rect x="301.6" y="312.6" width="3.3" height="3.3" fill="#fceded"/>
<rect x="304.6" y="312.6" width="3.3" height="3.3" fill="#fcdede"/>
<rect x="307.6" y="312.6" width="3.3" height="3.3" fill="#f9c6c6"/>
<rect x="310.6" y="312.6" width="3.3" height="3.3" fill="#f6a2a2"/>
<rect x="313.6" y="312.6" width="3.3" height="3.3" fill="#f37b7b"/>
<rect x="316.6" y="312.6" width="3.3" height="3.3" fill="#f05757"/>
<rect x="319.6" y="312.6" width="3.3" height="3.3" fill="#f03c3f"/>
<rect x="322.6" y="312.6" width="3.3" height="3.3" fill="#ed2d30"/>
<rect x="325.6" y="312.6" width="3.3" height="3.3" fill="#ed2427"/>
<rect x="328.6" y="312.6" width="3.3" height="3.3" fill="#ed1e21"/>
<rect x="331.6" y="312.6" width="6.3" height="3.3" fill="#ed1e1e"/>
<rect x="337.6" y="312.6" width="3.3" height="3.3" fill="#ed2121"/>
<rect x="340.6" y="312.6" width="3.3" height="3.3" fill="#ed2427"/>
<rect x="343.6" y="312.6" width="3.3" height="3.3" fill="#ed2a2a"/>
<rect x="346.6" y="312.6" width="3.3" height="3.3" fill="#ed3030"/>
<rect x="349.6" y="312.6" width="3.3" height="3.3" fill="#ed3639"/>
<rect x="352.6" y="312.6" width="3.3" height="3.3" fill="#f03c3f"/>
<rect x="355.6" y="312.6" width="3.3" height="3.3" fill="#f04242"/>
<rect x="358.6" y="312.6" width="3.3" height="3.3" fill="#f04548"/>
<rect x="361.6" y="312.6" width="3.3" height="3.3" fill="#f04b4b"/>
<rect x="364.6" y="312.6" width="3.3" height="3.3" fill="#f04e4e"/>
<rect x="367.6" y="312.6" width="3.3" height="3.3" fill="#f05151"/>
<rect x="370.6" y="312.6" width="3.3" height="3.3" fill="#f05154"/>
<rect x="373.6" y="312.6" width="6.3" height="3.3" fill="#f05454"/>
<rect x="379.6" y="312.6" width="9.3" height="3.3" fill="#f05457"/>
<rect x="292.6" y="315.6" width="6.3" height="3.3" fill="#fff9f9"/>
<rect x="298.6" y="315.6" width="3.3" height="3.3" fill="#fff6f6"/>
<rect x="301.6" y="315.6" width="3.3" height="3.3" fill="#fceded"/>
<rect x="304.6" y="315.6" width="3.3" height="3.3" fill="#fcdede"/>
<rect x="307.6" y="315.6" width="3.3" height="3.3" fill="#f9c6c6"/>
<rect x="310.6" y="315.6" width="3.3" height="3.3" fill="#f6a2a5"/>
<rect x="313.6" y="315.6" width="3.3" height="3.3" fill="#f37b7e"/>
<rect x="316.6" y="315.6" width="3.3" height="3.3" fill="#f05a5a"/>
<rect x="319.6" y="315.6" width="3.3" height="3.3" fill="#f03f42"/>
<rect x="322.6" y="315.6" width="3.3" height="3.3" fill="#ed3030"/>
<rect x="325.6" y="315.6" width="3.3" height="3.3" fill="#ed272a"/>
<rect x="328.6" y="315.6" width="3.3" height="3.3" fill="#ed2124"/>
<rect x="331.6" y="315.6" width="6.3" height="3.3" fill="#ed2121"/>
<rect x="337.6" y="315.6" width="3.3" height="3.3" fill="#ed2124"/>
<rect x="340.6" y="315.6" width="3.3" height="3.3" fill="#ed2727"/>
<rect x="343.6" y="315.6" width="3.3" height="3.3" fill="#ed2d2d"/>
<rect x="346.6" y="315.6" width="3.3" height="3.3" fill="#ed3333"/>
<rect x="349.6" y="315.6" width="3.3" height="3.3" fill="#f03939"/>
<rect x="352.6" y="315.6" width="3.3" height="3.3" fill="#f03f3f"/>
<rect x="355.6" y="315.6" width="3.3" height="3.3" fill="#f04545"/>
<rect x="358.6" y="315.6" width="3.3" height="3.3" fill="#f0484b"/>
<rect x="361.6" y="315.6" width="3.3" height="3.3" fill="#f04e4e"/>
<rect x="364.6" y="315.6" width="3.3" height="3.3" fill="#f05151"/>
<rect x="367.6" y="315.6" width="3.3" height="3.3" fill="#f05154"/>
<rect x="370.6" y="315.6" width="3.3" height="3.3" fill="#f05454"/>
<rect x="373.6" y="315.6" width="3.3" height="3.3" fill="#f05457"/>
<rect x="376.6" y="315.6" width="12.3" height="3.3" fill="#f05757"/>
<rect x="292.6" y="318.6" width="6.3" height="3.3" fill="#fff9f9"/>
<rect x="298.6" y="318.6" width="3.3" height="3.3" fill="#fff6f6"/>
<rect x="301.6" y="318.6" width="3.3" height="3.3" fill="#fceded"/>
<rect x="304.6" y="318.6" width="3.3" height="3.3" fill="#fcdede"/>
<rect x="307.6" y="318.6" width="3.3" height="3.3" fill="#f9c6c6"/>
<rect x="310.6" y="318.6" width="3.3" height="3.3" fill="#f9a5a5"/>
<rect x="313.6" y="318.6" width="3.3" height="3.3" fill="#f37e81"/>
<rect x="316.6" y="318.6" width="3.3" height="3.3" fill="#f35d5d"/>
<rect x="319.6" y="318.6" width="3.3" height="3.3" fill="#f04245"/>
<rect x="322.6" y="318.6" width="3.3" height="3.3" fill="#ed3336"/>
<rect x="325.6" y="318.6" width="3.3" height="3.3" fill="#ed2a2d"/>
<rect x="328.6" y="318.6" width="3.3" height="3.3" fill="#ed272a"/>
<rect x="331.6" y="318.6" width="6.3" height="3.3" fill="#ed2427"/>
<rect x="337.6" y="318.6" width="3.3" height="3.3" fill="#ed272a"/>
<rect x="340.6" y="318.6" width="3.3" height="3.3" fill="#ed2a2d"/>
<rect x="343.6" y="318.6" width="3.3" height="3.3" fill="#ed3033"/>
<rect x="346.6" y="318.6" width="3.3" height="3.3" fill="#ed3639"/>
<rect x="349.6" y="318.6" width="3.3" height="3.3" fill="#f03c3f"/>
<rect x="352.6" y="318.6" width="3.3" height="3.3" fill="#f04245"/>
<rect x="355.6" y="318.6" width="3.3" height="3.3" fill="#f04848"/>
<rect x="358.6" y="318.6" width="3.3" height="3.3" fill="#f04b4e"/>
<rect x="361.6" y="318.6" width="3.3" height="3.3" fill="#f05151"/>
<rect x="364.6" y="318.6" width="3.3" height="3.3" fill="#f05454"/>
<rect x="367.6" y="318.6" width="3.3" height="3.3" fill="#f05757"/>
<rect x="370.6" y="318.6" width="3.3" height="3.3" fill="#f0575a"/>
<rect x="373.6" y="318.6" width="15.3" height="3.3" fill="#f05a5a"/>
<rect x="292.6" y="321.6" width="6.3" height="3.3" fill="#fff9f9"/>
<rect x="298.6" y="321.6" width="3.3" height="3.3" fill="#fff6f6"/>
<rect x="301.6" y="321.6" width="3.3" height="3.3" fill="#ffeded"/>
<rect x="304.6" y="321.6" width="3.3" height="3.3" fill="#fcdede"/>
<rect x="307.6" y="321.6" width="3.3" height="3.3" fill="#f9c9c9"/>
<rect x="310.6" y="321.6" width="3.3" height="3.3" fill="#f9a8a8"/>
<rect x="313.6" y="321.6" width="3.3" height="3.3" fill="#f68484"/>
<rect x="316.6" y="321.6" width="3.3" height="3.3" fill="#f36063"/>
<rect x="319.6" y="321.6" width="3.3" height="3.3" fill="#f0484b"/>
<rect x="322.6" y="321.6" width="3.3" height="3.3" fill="#f0393c"/>
<rect x="325.6" y="321.6" width="3.3" height="3.3" fill="#ed3033"/>
<rect x="328.6" y="321.6" width="3.3" height="3.3" fill="#ed2d30"/>
<rect x="331.6" y="321.6" width="6.3" height="3.3" fill="#ed2a2d"/>
<rect x="337.6" y="321.6" width="3.3" height="3.3" fill="#ed2d30"/>
<rect x="340.6" y="321.6" width="3.3" height="3.3" fill="#ed3033"/>
<rect x="343.6" y="321.6" width="3.3" height="3.3" fill="#ed3639"/>
<rect x="346.6" y="321.6" width="3.3" height="3.3" fill="#f03c3f"/>
<rect x="349.6" y="321.6" width="3.3" height="3.3" fill="#f04245"/>
<rect x="352.6" y="321.6" width="3.3" height="3.3" fill="#f04848"/>
<rect x="355.6" y="321.6" width="3.3" height="3.3" fill="#f04e4e"/>
<rect x="358.6" y="321.6" width="3.3" height="3.3" fill="#f05154"/>
<rect x="361.6" y="321.6" width="3.3" height="3.3" fill="#f05457"/>
<rect x="364.6" y="321.6" width="3.3" height="3.3" fill="#f0575a"/>
<rect x="367.6" y="321.6" width="3.3" height="3.3" fill="#f05a5d"/>
<rect x="370.6" y="321.6" width="3.3" height="3.3" fill="#f05d5d"/>
<rect x="373.6" y="321.6" width="6.3" height="3.3" fill="#f35d60"/>
<rect x="379.6" y="321.6" width="9.3" height="3.3" fill="#f36060"/>
<rect x="292.6" y="324.6" width="6.3" height="3.3" fill="#fff9f9"/>
<rect x="298.6" y="324.6" width="3.3" height="3.3" fill="#fff6f6"/>
<rect x="301.6" y="324.6" width="3.3" height="3.3" fill="#fff0f0"/>
<rect x="304.6" y="324.6" width="3.3" height="3.3" fill="#fce1e1"/>
<rect x="307.6" y="324.6" width="3.3" height="3.3" fill="#fccccc"/>
<rect x="310.6" y="324.6" width="3.3" height="3.3" fill="#f9aeae"/>
<rect x="313.6" y="324.6" width="3.3" height="3.3" fill="#f68a8d"/>
<rect x="316.6" y="324.6" width="3.3" height="3.3" fill="#f3696c"/>
<rect x="319.6" y="324.6" width="3.3" height="3.3" fill="#f05154"/>
<rect x="322.6" y="324.6" width="3.3" height="3.3" fill="#f04242"/>
<rect x="325.6" y="324.6" width="3.3" height="3.3" fill="#f0393c"/>
<rect x="328.6" y="324.6" width="3.3" height="3.3" fill="#ed3636"/>
<rect x="331.6" y="324.6" width="3.3" height="3.3" fill="#ed3333"/>
<rect x="334.6" y="324.6" width="3.3" height="3.3" fill="#ed3336"/>
<rect x="337.6" y="324.6" width="3.3" height="3.3" fill="#ed3636"/>
<rect x="340.6" y="324.6" width="3.3" height="3.3" fill="#f03939"/>
<rect x="343.6" y="324.6" width="3.3" height="3.3" fill="#f03f3f"/>
<rect x="346.6" y="324.6" width="3.3" height="3.3" fill="#f04245"/>
<rect x="349.6" y="324.6" width="3.3" height="3.3" fill="#f0484b"/>
<rect x="352.6" y="324.6" width="3.3" height="3.3" fill="#f04e51"/>
<rect x="355.6" y="324.6" width="3.3" height="3.3" fill="#f05454"/>
<rect x="358.6" y="324.6" width="3.3" height="3.3" fill="#f0575a"/>
<rect x="361.6" y="324.6" width="3.3" height="3.3" fill="#f05d5d"/>
<rect x="364.6" y="324.6" width="3.3" height="3.3" fill="#f35d60"/>
<rect x="367.6" y="324.6" width="3.3" height="3.3" fill="#f36063"/>
<rect x="370.6" y="324.6" width="3.3" height="3.3" fill="#f36363"/>
<rect x="373.6" y="324.6" width="6.3" height="3.3" fill="#f36366"/>
<rect x="379.6" y="324.6" width="9.3" height="3.3" fill="#f36666"/>
<rect x="292.6" y="327.6" width="9.3" height="3.3" fill="#fff9f9"/>
<rect x="301.6" y="327.6" width="3.3" height="3.3" fill="#fff0f0"/>
<rect x="304.6" y="327.6" width="3.3" height="3.3" fill="#fce7e7"/>
<rect x="307.6" y="327.6" width="3.3" height="3.3" fill="#fcd2d2"/>
<rect x="310.6" y="327.6" width="3.3" height="3.3" fill="#f9b7b7"/>
<rect x="313.6" y="327.6" width="3.3" height="3.3" fill="#f69696"/>
<rect x="316.6" y="327.6" width="3.3" height="3.3" fill="#f37575"/>
<rect x="319.6" y="327.6" width="3.3" height="3.3" fill="#f05d5d"/>
<rect x="322.6" y="327.6" width="3.3" height="3.3" fill="#f04b4e"/>
<rect x="325.6" y="327.6" width="3.3" height="3.3" fill="#f04245"/>
<rect x="328.6" y="327.6" width="3.3" height="3.3" fill="#f03f3f"/>
<rect x="331.6" y="327.6" width="6.3" height="3.3" fill="#f03c3f"/>
<rect x="337.6" y="327.6" width="3.3" height="3.3" fill="#f03f3f"/>
<rect x="340.6" y="327.6" width="3.3" height="3.3" fill="#f04242"/>
<rect x="343.6" y="327.6" width="3.3" height="3.3" fill="#f04548"/>
<rect x="346.6" y="327.6" width="3.3" height="3.3" fill="#f04b4e"/>
<rect x="349.6" y="327.6" width="3.3" height="3.3" fill="#f05154"/>
<rect x="352.6" y="327.6" width="3.3" height="3.3" fill="#f05757"/>
<rect x="355.6" y="327.6" width="3.3" height="3.3" fill="#f05a5d"/>
<rect x="358.6" y="327.6" width="3.3" height="3.3" fill="#f36060"/>
<rect x="361.6" y="327.6" width="3.3" height="3.3" fill="#f36363"/>
<rect x="364.6" y="327.6" width="3.3" height="3.3" fill="#f36666"/>
<rect x="367.6" y="327.6" width="3.3" height="3.3" fill="#f36969"/>
<rect x="370.6" y="327.6" width="6.3" height="3.3" fill="#f3696c"/>
<rect x="376.6" y="327.6" width="12.3" height="3.3" fill="#f36c6c"/>
<rect x="292.6" y="330.6" width="9.3" height="3.3" fill="#fff9f9"/>
<rect x="301.6" y="330.6" width="3.3" height="3.3" fill="#fff3f3"/>
<rect x="304.6" y="330.6" width="3.3" height="3.3" fill="#fceaea"/>
<rect x="307.6" y="330.6" width="3.3" height="3.3" fill="#fcd8d8"/>
<rect x="310.6" y="330.6" width="3.3" height="3.3" fill="#f9c0c0"/>
<rect x="313.6" y="330.6" width="3.3" height="3.3" fill="#f69f9f"/>
<rect x="316.6" y="330.6" width="3.3" height="3.3" fill="#f38181"/>
<rect x="319.6" y="330.6" width="3.3" height="3.3" fill="#f36669"/>
<rect x="322.6" y="330.6" width="3.3" height="3.3" fill="#f0575a"/>
<rect x="325.6" y="330.6" width="3.3" height="3.3" fill="#f04e51"/>
<rect x="328.6" y="330.6" width="3.3" height="3.3" fill="#f0484b"/>
<rect x="331.6" y="330.6" width="6.3" height="3.3" fill="#f04848"/>
<rect x="337.6" y="330.6" width="3.3" height="3.3" fill="#f0484b"/>
<rect x="340.6" y="330.6" width="3.3" height="3.3" fill="#f04b4e"/>
<rect x="343.6" y="330.6" width="3.3" height="3.3" fill="#f05151"/>
<rect x="346.6" y="330.6" width="3.3" height="3.3" fill="#f05457"/>
<rect x="349.6" y="330.6" width="3.3" height="3.3" fill="#f05a5d"/>
<rect x="352.6" y="330.6" width="3.3" height="3.3" fill="#f36060"/>
<rect x="355.6" y="330.6" width="3.3" height="3.3" fill="#f36366"/>
<rect x="358.6" y="330.6" width="3.3" height="3.3" fill="#f36969"/>
<rect x="361.6" y="330.6" width="3.3" height="3.3" fill="#f36c6c"/>
<rect x="364.6" y="330.6" width="3.3" height="3.3" fill="#f36f6f"/>
<rect x="367.6" y="330.6" width="3.3" height="3.3" fill="#f36f72"/>
<rect x="370.6" y="330.6" width="3.3" height="3.3" fill="#f37272"/>
<rect x="373.6" y="330.6" width="15.3" height="3.3" fill="#f37275"/>
<rect x="292.6" y="333.6" width="6.3" height="3.3" fill="#fffcfc"/>
<rect x="298.6" y="333.6" width="3.3" height="3.3" fill="#fff9f9"/>
<rect x="301.6" y="333.6" width="3.3" height="3.3" fill="#fff6f6"/>
<rect x="304.6" y="333.6" width="3.3" height="3.3" fill="#fceded"/>
<rect x="307.6" y="333.6" width="3.3" height="3.3" fill="#fcdede"/>
<rect x="310.6" y="333.6" width="3.3" height="3.3" fill="#f9c6c6"/>
<rect x="313.6" y="333.6" width="3.3" height="3.3" fill="#f9abab"/>
<rect x="316.6" y="333.6" width="3.3" height="3.3" fill="#f68d8d"/>
<rect x="319.6" y="333.6" width="3.3" height="3.3" fill="#f37575"/>
<rect x="322.6" y="333.6" width="3.3" height="3.3" fill="#f36366"/>
<rect x="325.6" y="333.6" width="3.3" height="3.3" fill="#f05a5a"/>
<rect x="328.6" y="333.6" width="3.3" height="3.3" fill="#f05457"/>
<rect x="331.6" y="333.6" width="6.3" height="3.3" fill="#f05154"/>
<rect x="337.6" y="333.6" width="3.3" height="3.3" fill="#f05454"/>
<rect x="340.6" y="333.6" width="3.3" height="3.3" fill="#f05757"/>
<rect x="343.6" y="333.6" width="3.3" height="3.3" fill="#f05a5d"/>
<rect x="346.6" y="333.6" width="3.3" height="3.3" fill="#f36060"/>
<rect x="349.6" y="333.6" width="3.3" height="3.3" fill="#f36366"/>
<rect x="352.6" y="333.6" width="3.3" height="3.3" fill="#f36969"/>
<rect x="355.6" y="333.6" width="3.3" height="3.3" fill="#f36c6f"/>
<rect x="358.6" y="333.6" width="3.3" height="3.3" fill="#f37272"/>
<rect x="361.6" y="333.6" width="3.3" height="3.3" fill="#f37575"/>
<rect x="364.6" y="333.6" width="3.3" height="3.3" fill="#f37878"/>
<rect x="367.6" y="333.6" width="3.3" height="3.3" fill="#f3787b"/>
<rect x="370.6" y="333.6" width="6.3" height="3.3" fill="#f37b7b"/>
<rect x="376.6" y="333.6" width="12.3" height="3.3" fill="#f37b7e"/>
<rect x="292.6" y="336.6" width="6.3" height="3.3" fill="#fffcfc"/>
<rect x="298.6" y="336.6" width="3.3" height="3.3" fill="#fff9f9"/>
<rect x="301.6" y="336.6" width="3.3" height="3.3" fill="#fff6f6"/>
<rect x="304.6" y="336.6" width="3.3" height="3.3" fill="#fff0f0"/>
<rect x="307.6" y="336.6" width="3.3" height="3.3" fill="#fce1e1"/>
<rect x="310.6" y="336.6" width="3.3" height="3.3" fill="#fccfcf"/>
<rect x="313.6" y="336.6" width="3.3" height="3.3" fill="#f9b4b4"/>
<rect x="316.6" y="336.6" width="3.3" height="3.3" fill="#f69999"/>
<rect x="319.6" y="336.6" width="3.3" height="3.3" fill="#f38181"/>
<rect x="322.6" y="336.6" width="3.3" height="3.3" fill="#f36f72"/>
<rect x="325.6" y="336.6" width="3.3" height="3.3" fill="#f36666"/>
<rect x="328.6" y="336.6" width="3.3" height="3.3" fill="#f36063"/>
<rect x="331.6" y="336.6" width="6.3" height="3.3" fill="#f35d60"/>
<rect x="337.6" y="336.6" width="3.3" height="3.3" fill="#f36060"/>
<rect x="340.6" y="336.6" width="3.3" height="3.3" fill="#f36363"/>
<rect x="343.6" y="336.6" width="3.3" height="3.3" fill="#f36666"/>
<rect x="346.6" y="336.6" width="3.3" height="3.3" fill="#f36c6c"/>
<rect x="349.6" y="336.6" width="3.3" height="3.3" fill="#f36f6f"/>
<rect x="352.6" y="336.6" width="3.3" height="3.3" fill="#f37275"/>
<rect x="355.6" y="336.6" width="3.3" height="3.3" fill="#f37878"/>
<rect x="358.6" y="336.6" width="3.3" height="3.3" fill="#f37b7b"/>
<rect x="361.6" y="336.6" width="3.3" height="3.3" fill="#f37e7e"/>
<rect x="364.6" y="336.6" width="3.3" height="3.3" fill="#f38181"/>
<rect x="367.6" y="336.6" width="3.3" height="3.3" fill="#f68184"/>
<rect x="370.6" y="336.6" width="6.3" height="3.3" fill="#f68484"/>
<rect x="376.6" y="336.6" width="12.3" height="3.3" fill="#f68487"/>
<rect x="292.6" y="339.6" width="9.3" height="3.3" fill="#fffcfc"/>
<rect x="301.6" y="339.6" width="3.3" height="3.3" fill="#fff9f9"/>
<rect x="304.6" y="339.6" width="3.3" height="3.3" fill="#fff0f0"/>
<rect x="307.6" y="339.6" width="3.3" height="3.3" fill="#fce7e7"/>
<rect x="310.6" y="339.6" width="3.3" height="3.3" fill="#fcd5d5"/>
<rect x="313.6" y="339.6" width="3.3" height="3.3" fill="#f9bdbd"/>
<rect x="316.6" y="339.6" width="3.3" height="3.3" fill="#f6a2a5"/>
<rect x="319.6" y="339.6" width="3.3" height="3.3" fill="#f68d8d"/>
<rect x="322.6" y="339.6" width="3.3" height="3.3" fill="#f37e7e"/>
<rect x="325.6" y="339.6" width="3.3" height="3.3" fill="#f37275"/>
<rect x="328.6" y="339.6" width="3.3" height="3.3" fill="#f36f6f"/>
<rect x="331.6" y="339.6" width="3.3" height="3.3" fill="#f36c6c"/>
<rect x="334.6" y="339.6" width="3.3" height="3.3" fill="#f3696c"/>
<rect x="337.6" y="339.6" width="3.3" height="3.3" fill="#f36c6c"/>
<rect x="340.6" y="339.6" width="3.3" height="3.3" fill="#f36f6f"/>
<rect x="343.6" y="339.6" width="3.3" height="3.3" fill="#f37272"/>
<rect x="346.6" y="339.6" width="3.3" height="3.3" fill="#f37578"/>
<rect x="349.6" y="339.6" width="3.3" height="3.3" fill="#f37b7b"/>
<rect x="352.6" y="339.6" width="3.3" height="3.3" fill="#f37e7e"/>
<rect x="355.6" y="339.6" width="3.3" height="3.3" fill="#f68184"/>
<rect x="358.6" y="339.6" width="3.3" height="3.3" fill="#f68487"/>
<rect x="361.6" y="339.6" width="3.3" height="3.3" fill="#f6878a"/>
<rect x="364.6" y="339.6" width="3.3" height="3.3" fill="#f68a8a"/>
<rect x="367.6" y="339.6" width="3.3" height="3.3" fill="#f68a8d"/>
<rect x="370.6" y="339.6" width="6.3" height="3.3" fill="#f68d8d"/>
<rect x="376.6" y="339.6" width="12.3" height="3.3" fill="#f68d90"/>
<rect x="292.6" y="342.6" width="9.3" height="3.3" fill="#fffcfc"/>
<rect x="301.6" y="342.6" width="3.3" height="3.3" fill="#fff9f9"/>
<rect x="304.6" y="342.6" width="3.3" height="3.3" fill="#fff3f3"/>
<rect x="307.6" y="342.6" width="3.3" height="3.3" fill="#fceaea"/>
<rect x="310.6" y="342.6" width="3.3" height="3.3" fill="#fcdbdb"/>
<rect x="313.6" y="342.6" width="3.3" height="3.3" fill="#f9c6c6"/>
<rect x="316.6" y="342.6" width="3.3" height="3.3" fill="#f9aeae"/>
<rect x="319.6" y="342.6" width="3.3" height="3.3" fill="#f69999"/>
<rect x="322.6" y="342.6" width="3.3" height="3.3" fill="#f68a8a"/>
<rect x="325.6" y="342.6" width="3.3" height="3.3" fill="#f38181"/>
<rect x="328.6" y="342.6" width="3.3" height="3.3" fill="#f37b7b"/>
<rect x="331.6" y="342.6" width="9.3" height="3.3" fill="#f37878"/>
<rect x="340.6" y="342.6" width="3.3" height="3.3" fill="#f37b7b"/>
<rect x="343.6" y="342.6" width="3.3" height="3.3" fill="#f37e7e"/>
<rect x="346.6" y="342.6" width="3.3" height="3.3" fill="#f68184"/>
<rect x="349.6" y="342.6" width="3.3" height="3.3" fill="#f68487"/>
<rect x="352.6" y="342.6" width="3.3" height="3.3" fill="#f68a8a"/>
<rect x="355.6" y="342.6" width="3.3" height="3.3" fill="#f68d8d"/>
<rect x="358.6" y="342.6" width="3.3" height="3.3" fill="#f69090"/>
<rect x="361.6" y="342.6" width="3.3" height="3.3" fill="#f69393"/>
<rect x="364.6" y="342.6" width="3.3" height="3.3" fill="#f69396"/>
<rect x="367.6" y="342.6" width="6.3" height="3.3" fill="#f69696"/>
<rect x="373.6" y="342.6" width="3.3" height="3.3" fill="#f69699"/>
<rect x="376.6" y="342.6" width="12.3" height="3.3" fill="#f69999"/>
<rect x="292.6" y="345.6" width="9.3" height="3.3" fill="#fffcfc"/>
<rect x="301.6" y="345.6" width="3.3" height="3.3" fill="#fff9f9"/>
<rect x="304.6" y="345.6" width="3.3" height="3.3" fill="#fff6f6"/>
<rect x="307.6" y="345.6" width="3.3" height="3.3" fill="#ffeded"/>
<rect x="310.6" y="345.6" width="3.3" height="3.3" fill="#fce1e1"/>
<rect x="313.6" y="345.6" width="3.3" height="3.3" fill="#fccfcf"/>
<rect x="316.6" y="345.6" width="3.3" height="3.3" fill="#f9baba"/>
<rect x="319.6" y="345.6" width="3.3" height="3.3" fill="#f9a5a5"/>
<rect x="322.6" y="345.6" width="3.3" height="3.3" fill="#f69696"/>
<rect x="325.6" y="345.6" width="3.3" height="3.3" fill="#f68d8d"/>
<rect x="328.6" y="345.6" width="3.3" height="3.3" fill="#f68787"/>
<rect x="331.6" y="345.6" width="3.3" height="3.3" fill="#f68487"/>
<rect x="334.6" y="345.6" width="3.3" height="3.3" fill="#f68484"/>
<rect x="337.6" y="345.6" width="3.3" height="3.3" fill="#f68487"/>
<rect x="340.6" y="345.6" width="3.3" height="3.3" fill="#f68787"/>
<rect x="343.6" y="345.6" width="3.3" height="3.3" fill="#f68a8a"/>
<rect x="346.6" y="345.6" width="3.3" height="3.3" fill="#f68d8d"/>
<rect x="349.6" y="345.6" width="3.3" height="3.3" fill="#f69093"/>
<rect x="352.6" y="345.6" width="3.3" height="3.3" fill="#f69396"/>
<rect x="355.6" y="345.6" width="3.3" height="3.3" fill="#f69699"/>
<rect x="358.6" y="345.6" width="3.3" height="3.3" fill="#f6999c"/>
<rect x="361.6" y="345.6" width="3.3" height="3.3" fill="#f69c9c"/>
<rect x="364.6" y="345.6" width="6.3" height="3.3" fill="#f69f9f"/>
<rect x="370.6" y="345.6" width="3.3" height="3.3" fill="#f69fa2"/>
<rect x="373.6" y="345.6" width="15.3" height="3.3" fill="#f6a2a2"/>
<rect x="292.6" y="348.6" width="12.3" height="3.3" fill="#fffcfc"/>
<rect x="304.6" y="348.6" width="3.3" height="3.3" fill="#fff6f6"/>
<rect x="307.6" y="348.6" width="3.3" height="3.3" fill="#fff0f0"/>
<rect x="310.6" y="348.6" width="3.3" height="3.3" fill="#fce7e7"/>
<rect x="313.6" y="348.6" width="3.3" height="3.3" fill="#fcd5d8"/>
<rect x="316.6" y="348.6" width="3.3" height="3.3" fill="#f9c3c3"/>
<rect x="319.6" y="348.6" width="3.3" height="3.3" fill="#f9b1b1"/>
<rect x="322.6" y="348.6" width="3.3" height="3.3" fill="#f6a2a2"/>
<rect x="325.6" y="348.6" width="3.3" height="3.3" fill="#f69999"/>
<rect x="328.6" y="348.6" width="3.3" height="3.3" fill="#f69396"/>
<rect x="331.6" y="348.6" width="3.3" height="3.3" fill="#f69093"/>
<rect x="334.6" y="348.6" width="3.3" height="3.3" fill="#f69090"/>
<rect x="337.6" y="348.6" width="3.3" height="3.3" fill="#f69093"/>
<rect x="340.6" y="348.6" width="3.3" height="3.3" fill="#f69393"/>
<rect x="343.6" y="348.6" width="3.3" height="3.3" fill="#f69696"/>
<rect x="346.6" y="348.6" width="3.3" height="3.3" fill="#f69999"/>
<rect x="349.6" y="348.6" width="3.3" height="3.3" fill="#f69c9c"/>
<rect x="352.6" y="348.6" width="3.3" height="3.3" fill="#f69f9f"/>
<rect x="355.6" y="348.6" width="3.3" height="3.3" fill="#f6a2a2"/>
<rect x="358.6" y="348.6" width="3.3" height="3.3" fill="#f6a5a5"/>
<rect x="361.6" y="348.6" width="3.3" height="3.3" fill="#f9a5a8"/>
<rect x="364.6" y="348.6" width="6.3" height="3.3" fill="#f9a8a8"/>
<rect x="370.6" y="348.6" width="3.3" height="3.3" fill="#f9a8ab"/>
<rect x="373.6" y="348.6" width="15.3" height="3.3" fill="#f9abab"/>
<rect x="292.6" y="351.6" width="6.3" height="3.3" fill="#ffffff"/>
<rect x="298.6" y="351.6" width="6.3" height="3.3" fill="#fffcfc"/>
<rect x="304.6" y="351.6" width="3.3" height="3.3" fill="#fff9f9"/>
<rect x="307.6" y="351.6" width="3.3" height="3.3" fill="#fff3f3"/>
<rect x="310.6" y="351.6" width="3.3" height="3.3" fill="#fceaea"/>
<rect x="313.6" y="351.6" width="3.3" height="3.3" fill="#fcdede"/>
<rect x="316.6" y="351.6" width="3.3" height="3.3" fill="#fccccc"/>
<rect x="319.6" y="351.6" width="3.3" height="3.3" fill="#f9babd"/>
<rect x="322.6" y="351.6" width="3.3" height="3.3" fill="#f9aeae"/>
<rect x="325.6" y="351.6" width="3.3" height="3.3" fill="#f9a5a5"/>
<rect x="328.6" y="351.6" width="3.3" height="3.3" fill="#f69fa2"/>
<rect x="331.6" y="351.6" width="3.3" height="3.3" fill="#f69c9f"/>
<rect x="334.6" y="351.6" width="3.3" height="3.3" fill="#f69c9c"/>
<rect x="337.6" y="351.6" width="3.3" height="3.3" fill="#f69c9f"/>
<rect x="340.6" y="351.6" width="3.3" height="3.3" fill="#f69f9f"/>
<rect x="343.6" y="351.6" width="3.3" height="3.3" fill="#f6a2a2"/>
<rect x="346.6" y="351.6" width="3.3" height="3.3" fill="#f6a5a5"/>
<rect x="349.6" y="351.6" width="3.3" height="3.3" fill="#f9a5a8"/>
<rect x="352.6" y="351.6" width="3.3" height="3.3" fill="#f9a8ab"/>
<rect x="355.6" y="351.6" width="3.3" height="3.3" fill="#f9abab"/>
<rect x="358.6" y="351.6" width="3.3" height="3.3" fill="#f9aeae"/>
<rect x="361.6" y="351.6" width="3.3" height="3.3" fill="#f9aeb1"/>
<rect x="364.6" y="351.6" width="3.3" height="3.3" fill="#f9b1b1"/>
<rect x="367.6" y="351.6" width="3.3" height="3.3" fill="#f9b1b4"/>
<rect x="370.6" y="351.6" width="18.3" height="3.3" fill="#f9b4b4"/>
<rect x="292.6" y="354.6" width="9.3" height="3.3" fill="#ffffff"/>
<rect x="301.6" y="354.6" width="3.3" height="3.3" fill="#fffcfc"/>
<rect x="304.6" y="354.6" width="3.3" height="3.3" fill="#fff9f9"/>
<rect x="307.6" y="354.6" width="3.3" height="3.3" fill="#fff6f6"/>
<rect x="310.6" y="354.6" width="3.3" height="3.3" fill="#ffeded"/>
<rect x="313.6" y="354.6" width="3.3" height="3.3" fill="#fce4e4"/>
<rect x="316.6" y="354.6" width="3.3" height="3.3" fill="#fcd5d5"/>
<rect x="319.6" y="354.6" width="3.3" height="3.3" fill="#f9c6c6"/>
<rect x="322.6" y="354.6" width="3.3" height="3.3" fill="#f9b7ba"/>
<rect x="325.6" y="354.6" width="3.3" height="3.3" fill="#f9b1b1"/>
<rect x="328.6" y="354.6" width="3.3" height="3.3" fill="#f9abab"/>
<rect x="331.6" y="354.6" width="9.3" height="3.3" fill="#f9a8a8"/>
<rect x="340.6" y="354.6" width="6.3" height="3.3" fill="#f9abab"/>
<rect x="346.6" y="354.6" width="3.3" height="3.3" fill="#f9aeae"/>
<rect x="349.6" y="354.6" width="3.3" height="3.3" fill="#f9b1b1"/>
<rect x="352.6" y="354.6" width="3.3" height="3.3" fill="#f9b4b4"/>
<rect x="355.6" y="354.6" width="3.3" height="3.3" fill="#f9b4b7"/>
<rect x="358.6" y="354.6" width="3.3" height="3.3" fill="#f9b7b7"/>
<rect x="361.6" y="354.6" width="9.3" height="3.3" fill="#f9baba"/>
<rect x="370.6" y="354.6" width="3.3" height="3.3" fill="#f9babd"/>
<rect x="373.6" y="354.6" width="15.3" height="3.3" fill="#f9bdbd"/>
<rect x="292.6" y="357.6" width="9.3" height="3.3" fill="#ffffff"/>
<rect x="301.6" y="357.6" width="6.3" height="3.3" fill="#fffcfc"/>
<rect x="307.6" y="357.6" width="3.3" height="3.3" fill="#fff6f6"/>
<rect x="310.6" y="357.6" width="3.3" height="3.3" fill="#fff0f0"/>
<rect x="313.6" y="357.6" width="3.3" height="3.3" fill="#fce7e7"/>
<rect x="316.6" y="357.6" width="3.3" height="3.3" fill="#fcdbdb"/>
<rect x="319.6" y="357.6" width="3.3" height="3.3" fill="#fccfcf"/>
<rect x="322.6" y="357.6" width="3.3" height="3.3" fill="#f9c3c3"/>
<rect x="325.6" y="357.6" width="3.3" height="3.3" fill="#f9baba"/>
<rect x="328.6" y="357.6" width="3.3" height="3.3" fill="#f9b7b7"/>
<rect x="331.6" y="357.6" width="12.3" height="3.3" fill="#f9b4b4"/>
<rect x="343.6" y="357.6" width="3.3" height="3.3" fill="#f9b7b7"/>
<rect x="346.6" y="357.6" width="3.3" height="3.3" fill="#f9b7ba"/>
<rect x="349.6" y="357.6" width="3.3" height="3.3" fill="#f9baba"/>
<rect x="352.6" y="357.6" width="3.3" height="3.3" fill="#f9bdbd"/>
<rect x="355.6" y="357.6" width="3.3" height="3.3" fill="#f9bdc0"/>
<rect x="358.6" y="357.6" width="3.3" height="3.3" fill="#f9c0c0"/>
<rect x="361.6" y="357.6" width="3.3" height="3.3" fill="#f9c0c3"/>
<rect x="364.6" y="357.6" width="9.3" height="3.3" fill="#f9c3c3"/>
<rect x="373.6" y="357.6" width="6.3" height="3.3" fill="#f9c3c6"/>
<rect x="379.6" y="357.6" width="9.3" height="3.3" fill="#f9c6c6"/>
<rect x="292.6" y="360.6" width="9.3" height="3.3" fill="#ffffff"/>
<rect x="301.6" y="360.6" width="6.3" height="3.3" fill="#fffcfc"/>
<rect x="307.6" y="360.6" width="3.3" height="3.3" fill="#fff9f9"/>
<rect x="310.6" y="360.6" width="3.3" height="3.3" fill="#fff3f3"/>
<rect x="313.6" y="360.6" width="3.3" height="3.3" fill="#fceded"/>
<rect x="316.6" y="360.6" width="3.3" height="3.3" fill="#fce1e1"/>
<rect x="319.6" y="360.6" width="3.3" height="3.3" fill="#fcd8d8"/>
<rect x="322.6" y="360.6" width="3.3" height="3.3" fill="#fccccc"/>
<rect x="325.6" y="360.6" width="3.3" height="3.3" fill="#f9c6c6"/>
<rect x="328.6" y="360.6" width="6.3" height="3.3" fill="#f9c0c0"/>
<rect x="334.6" y="360.6" width="6.3" height="3.3" fill="#f9bdbd"/>
<rect x="340.6" y="360.6" width="6.3" height="3.3" fill="#f9c0c0"/>
<rect x="346.6" y="360.6" width="3.3" height="3.3" fill="#f9c3c3"/>
<rect x="349.6" y="360.6" width="3.3" height="3.3" fill="#f9c3c6"/>
<rect x="352.6" y="360.6" width="3.3" height="3.3" fill="#f9c6c6"/>
<rect x="355.6" y="360.6" width="3.3" height="3.3" fill="#f9c6c9"/>
<rect x="358.6" y="360.6" width="6.3" height="3.3" fill="#fcc9c9"/>
<rect x="364.6" y="360.6" width="24.3" height="3.3" fill="#fccccc"/>
<rect x="292.6" y="363.6" width="12.3" height="3.3" fill="#ffffff"/>
<rect x="304.6" y="363.6" width="6.3" height="3.3" fill="#fffcfc"/>
<rect x="310.6" y="363.6" width="3.3" height="3.3" fill="#fff6f6"/>
<rect x="313.6" y="363.6" width="3.3" height="3.3" fill="#fff0f0"/>
<rect x="316.6" y="363.6" width="3.3" height="3.3" fill="#fceaea"/>
<rect x="319.6" y="363.6" width="3.3" height="3.3" fill="#fcdee1"/>
<rect x="322.6" y="363.6" width="3.3" height="3.3" fill="#fcd8d8"/>
<rect x="325.6" y="363.6" width="3.3" height="3.3" fill="#fccfd2"/>
<rect x="328.6" y="363.6" width="3.3" height="3.3" fill="#fccccc"/>
<rect x="331.6" y="363.6" width="3.3" height="3.3" fill="#fcc9cc"/>
<rect x="334.6" y="363.6" width="6.3" height="3.3" fill="#fcc9c9"/>
<rect x="340.6" y="363.6" width="3.3" height="3.3" fill="#fcc9cc"/>
<rect x="343.6" y="363.6" width="3.3" height="3.3" fill="#fccccc"/>
<rect x="346.6" y="363.6" width="3.3" height="3.3" fill="#fccccf"/>
<rect x="349.6" y="363.6" width="6.3" height="3.3" fill="#fccfcf"/>
<rect x="355.6" y="363.6" width="6.3" height="3.3" fill="#fcd2d2"/>
<rect x="361.6" y="363.6" width="27.3" height="3.3" fill="#fcd5d5"/>
<rect x="292.6" y="366.6" width="12.3" height="3.3" fill="#ffffff"/>
<rect x="304.6" y="366.6" width="6.3" height="3.3" fill="#fffcfc"/>
<rect x="310.6" y="366.6" width="3.3" height="3.3" fill="#fff9f9"/>
<rect x="313.6" y="366.6" width="3.3" height="3.3" fill="#fff3f6"/>
<rect x="316.6" y="366.6" width="3.3" height="3.3" fill="#ffeded"/>
<rect x="319.6" y="366.6" width="3.3" height="3.3" fill="#fce7e7"/>
<rect x="322.6" y="366.6" width="3.3" height="3.3" fill="#fcdede"/>
<rect x="325.6" y="366.6" width="3.3" height="3.3" fill="#fcdbdb"/>
<rect x="328.6" y="366.6" width="3.3" height="3.3" fill="#fcd5d8"/>
<rect x="331.6" y="366.6" width="15.3" height="3.3" fill="#fcd5d5"/>
<rect x="346.6" y="366.6" width="9.3" height="3.3" fill="#fcd8d8"/>
<rect x="355.6" y="366.6" width="9.3" height="3.3" fill="#fcdbdb"/>
<rect x="364.6" y="366.6" width="3.3" height="3.3" fill="#fcdbde"/>
<rect x="367.6" y="366.6" width="21.3" height="3.3" fill="#fcdede"/>
<rect x="292.6" y="369.6" width="15.3" height="3.3" fill="#ffffff"/>
<rect x="307.6" y="369.6" width="6.3" height="3.3" fill="#fffcfc"/>
<rect x="313.6" y="369.6" width="3.3" height="3.3" fill="#fff6f6"/>
<rect x="316.6" y="369.6" width="3.3" height="3.3" fill="#fff3f3"/>
<rect x="319.6" y="369.6" width="3.3" height="3.3" fill="#fceded"/>
<rect x="322.6" y="369.6" width="3.3" height="3.3" fill="#fce7e7"/>
<rect x="325.6" y="369.6" width="3.3" height="3.3" fill="#fce1e1"/>
<rect x="328.6" y="369.6" width="6.3" height="3.3" fill="#fcdede"/>
<rect x="334.6" y="369.6" width="6.3" height="3.3" fill="#fcdbde"/>
<rect x="340.6" y="369.6" width="9.3" height="3.3" fill="#fcdede"/>
<rect x="349.6" y="369.6" width="12.3" height="3.3" fill="#fce1e1"/>
<rect x="361.6" y="369.6" width="27.3" height="3.3" fill="#fce4e4"/>
<rect x="292.6" y="372.6" width="15.3" height="3.3" fill="#ffffff"/>
<rect x="307.6" y="372.6" width="6.3" height="3.3" fill="#fffcfc"/>
<rect x="313.6" y="372.6" width="3.3" height="3.3" fill="#fff9f9"/>
<rect x="316.6" y="372.6" width="3.3" height="3.3" fill="#fff6f6"/>
<rect x="319.6" y="372.6" width="3.3" height="3.3" fill="#fff0f0"/>
<rect x="322.6" y="372.6" width="3.3" height="3.3" fill="#fceded"/>
<rect x="325.6" y="372.6" width="6.3" height="3.3" fill="#fce7e7"/>
<rect x="331.6" y="372.6" width="15.3" height="3.3" fill="#fce4e4"/>
<rect x="346.6" y="372.6" width="3.3" height="3.3" fill="#fce4e7"/>
<rect x="349.6" y="372.6" width="12.3" height="3.3" fill="#fce7e7"/>
<rect x="361.6" y="372.6" width="27.3" height="3.3" fill="#fceaea"/>
<rect x="292.6" y="375.6" width="15.3" height="3.3" fill="#ffffff"/>
<rect x="307.6" y="375.6" width="6.3" height="3.3" fill="#fffcfc"/>
<rect x="313.6" y="375.6" width="3.3" height="3.3" fill="#fff9f9"/>
<rect x="316.6" y="375.6" width="3.3" height="3.3" fill="#fff6f6"/>
<rect x="319.6" y="375.6" width="3.3" height="3.3" fill="#fff3f3"/>
<rect x="322.6" y="375.6" width="3.3" height="3.3" fill="#ffeded"/>
<rect x="325.6" y="375.6" width="3.3" height="3.3" fill="#fceaea"/>
<rect x="328.6" y="375.6" width="24.3" height="3.3" fill="#fce7e7"/>
<rect x="352.6" y="375.6" width="24.3" height="3.3" fill="#fceaea"/>
<rect x="376.6" y="375.6" width="12.3" height="3.3" fill="#fceaed"/>
<rect x="292.6" y="378.6" width="15.3" height="3.3" fill="#ffffff"/>
<rect x="307.6" y="378.6" width="6.3" height="3.3" fill="#fffcfc"/>
<rect x="313.6" y="378.6" width="3.3" height="3.3" fill="#fff9f9"/>
<rect x="316.6" y="378.6" width="3.3" height="3.3" fill="#fff6f6"/>
<rect x="319.6" y="378.6" width="3.3" height="3.3" fill="#fff3f3"/>
<rect x="322.6" y="378.6" width="3.3" height="3.3" fill="#ffeded"/>
<rect x="325.6" y="378.6" width="3.3" height="3.3" fill="#fceaea"/>
<rect x="328.6" y="378.6" width="24.3" height="3.3" fill="#fce7e7"/>
<rect x="352.6" y="378.6" width="24.3" height="3.3" fill="#fceaea"/>
<rect x="376.6" y="378.6" width="12.3" height="3.3" fill="#fceaed"/>
</g>
<polyline points="380.6,366.8 378.6,366.8 376.6,366.9 374.6,366.9 372.6,367.0 370.6,367.1 368.6,367.2 366.6,367.3 364.6,367.5 363.0,367.6 361.6,367.7 359.6,368.0 357.6,368.2 355.6,368.5 354.6,368.6 352.6,368.9 350.6,369.2 348.6,369.4 347.3,369.6 345.6,369.8 343.6,370.0 341.6,370.2 339.6,370.4 337.6,370.4 335.6,370.4 333.6,370.2 331.6,369.9 330.5,369.6 328.6,369.0 327.6,368.6 325.8,367.6 324.6,366.8 323.6,366.0 322.6,365.0 321.6,364.0 320.6,362.8 319.7,361.6 319.1,360.6 318.6,359.6 317.6,357.7 317.1,356.6 316.6,355.5 315.8,353.6 315.3,352.6 314.6,350.7 314.2,349.6 313.6,348.1 313.1,346.6 312.6,345.2 312.0,343.6 311.6,342.2 311.1,340.6 310.6,338.9 310.2,337.6 309.7,335.6 309.4,334.6 308.8,332.6 308.6,331.6 308.1,329.6 307.6,327.6 307.4,326.6 307.0,324.6 306.8,322.6 306.7,320.6 306.6,318.6 306.6,317.6 306.5,315.6 306.5,313.6 306.5,311.6 306.5,309.6 306.5,307.6 306.6,305.6 306.6,304.6 306.7,302.6 306.8,300.6 306.9,298.6 307.0,296.6 307.2,294.6 307.2,292.6 307.3,290.6 307.4,288.6 307.4,286.6 307.5,284.6 307.5,282.6" fill="none" stroke="#fff" stroke-opacity="0.6" stroke-width="0.6"/>
<polyline points="380.6,360.9 378.6,360.9 376.6,361.0 374.6,361.0 372.6,361.1 370.6,361.2 368.6,361.4 366.6,361.5 365.6,361.6 363.6,361.8 361.6,362.0 359.6,362.3 357.6,362.5 356.6,362.7 354.6,363.0 352.6,363.3 350.6,363.6 349.6,363.8 347.6,364.1 345.6,364.3 343.6,364.6 342.6,364.7 340.6,364.9 338.6,365.0 336.6,365.0 334.6,364.9 332.6,364.7 331.6,364.6 329.6,364.1 328.2,363.6 326.6,362.9 325.6,362.3 324.6,361.6 323.5,360.6 322.6,359.6 321.6,358.2 320.6,356.7 319.9,355.6 319.4,354.6 318.6,353.1 317.8,351.6 317.4,350.6 316.6,348.8 316.1,347.6 315.6,346.4 314.9,344.6 314.5,343.6 313.8,341.6 313.5,340.6 312.9,338.6 312.6,337.6 311.9,335.6 311.6,334.4 311.1,332.6 310.6,330.6 310.3,329.6 309.8,327.6 309.6,326.6 309.1,324.6 308.9,322.6 308.8,320.6 308.7,318.6 308.7,316.6 308.6,314.6 308.6,312.6 308.6,310.6 308.6,308.6 308.7,306.6 308.8,304.6 308.9,302.6 309.0,300.6 309.1,298.6 309.2,296.6 309.4,294.6 309.5,292.6 309.6,290.6 309.6,289.5 309.7,287.6 309.7,285.6 309.7,283.6" fill="none" stroke="#fff" stroke-opacity="0.6" stroke-width="0.6"/>
<polyline points="380.6,354.7 378.6,354.8 376.6,354.9 374.6,354.9 372.6,355.1 370.6,355.2 368.6,355.4 366.7,355.6 365.6,355.7 363.6,356.0 361.6,356.3 360.2,356.6 358.6,356.9 356.6,357.3 355.4,357.6 353.6,358.0 351.6,358.5 350.6,358.7 348.6,359.2 346.6,359.6 345.6,359.8 343.6,360.2 341.6,360.5 340.6,360.6 338.6,360.8 336.6,360.8 334.6,360.8 333.2,360.6 331.6,360.3 329.6,359.7 328.6,359.3 327.3,358.6 325.8,357.6 324.6,356.6 323.6,355.6 322.7,354.6 322.0,353.6 321.3,352.6 320.6,351.6 319.6,349.9 318.9,348.6 318.4,347.6 317.6,345.8 317.1,344.6 316.6,343.5 315.9,341.6 315.5,340.6 314.8,338.6 314.4,337.6 313.8,335.6 313.5,334.6 312.9,332.6 312.6,331.6 312.0,329.6 311.6,327.8 311.3,326.6 310.8,324.6 310.6,322.6 310.5,321.6 310.4,319.6 310.3,317.6 310.3,315.6 310.2,313.6 310.2,311.6 310.2,309.6 310.3,307.6 310.4,305.6 310.5,303.6 310.6,301.6 310.7,300.6 310.8,298.6 310.9,296.6 311.1,294.6 311.2,292.6 311.3,290.6 311.4,288.6 311.4,286.6 311.5,284.6 311.5,282.6" fill="none" stroke="#fff" stroke-opacity="0.6" stroke-width="0.6"/>
<polyline points="380.6,349.3 378.6,349.4 376.6,349.5 374.6,349.6 373.6,349.6 371.6,349.8 369.6,350.0 367.6,350.2 365.6,350.5 364.6,350.6 362.6,351.0 360.6,351.4 359.4,351.6 357.6,352.0 355.6,352.5 354.6,352.8 352.6,353.3 351.4,353.6 349.6,354.1 347.6,354.6 346.6,354.8 344.6,355.2 342.7,355.6 341.6,355.8 339.6,356.1 337.6,356.2 335.6,356.2 333.6,356.1 331.6,355.7 330.6,355.5 328.6,354.8 327.6,354.3 326.5,353.6 325.1,352.6 324.0,351.6 323.1,350.6 322.3,349.6 321.5,348.6 320.6,347.2 319.7,345.6 319.2,344.6 318.6,343.5 317.7,341.6 317.3,340.6 316.6,338.8 316.1,337.6 315.6,336.1 315.1,334.6 314.6,333.1 314.1,331.6 313.6,329.7 313.3,328.6 312.8,326.6 312.5,325.6 312.1,323.6 312.0,321.6 311.8,319.6 311.7,317.6 311.7,315.6 311.6,313.6 311.6,311.6 311.6,309.6 311.7,307.6 311.8,305.6 311.9,303.6 312.0,301.6 312.2,299.6 312.3,297.6 312.5,295.6 312.6,293.9 312.7,292.6 312.8,290.6 312.9,288.6 312.9,286.6 313.0,284.6 313.0,282.6" fill="none" stroke="#fff" stroke-opacity="0.6" stroke-width="0.6"/>
<polyline points="380.6,344.3 378.6,344.3 376.6,344.4 374.6,344.5 373.6,344.6 371.6,344.8 369.6,345.0 367.6,345.3 365.6,345.6 364.6,345.8 362.6,346.2 360.6,346.6 359.6,346.8 357.6,347.4 356.6,347.6 354.6,348.2 353.2,348.6 351.6,349.1 349.7,349.6 348.6,349.9 346.6,350.5 345.6,350.7 343.6,351.2 341.6,351.6 340.6,351.7 338.6,352.0 336.6,352.1 334.6,352.1 332.6,351.8 331.5,351.6 329.6,351.1 328.4,350.6 326.6,349.7 325.6,349.0 324.6,348.2 323.6,347.2 322.6,346.0 321.6,344.7 320.9,343.6 320.3,342.6 319.6,341.4 318.7,339.6 318.3,338.6 317.6,337.1 317.0,335.6 316.6,334.5 315.9,332.6 315.6,331.6 315.0,329.6 314.6,328.4 314.1,326.6 313.6,324.7 313.4,323.6 313.2,321.6 313.1,319.6 313.0,317.6 312.9,315.6 312.9,313.6 312.8,311.6 312.9,309.6 312.9,307.6 313.0,305.6 313.1,303.6 313.3,301.6 313.5,299.6 313.6,298.3 313.8,296.6 313.9,294.6 314.1,292.6 314.2,290.6 314.3,288.6 314.4,286.6 314.4,284.6 314.5,282.6" fill="none" stroke="#fff" stroke-opacity="0.6" stroke-width="0.6"/>
<polyline points="380.6,339.3 378.6,339.4 376.6,339.5 375.3,339.6 373.6,339.7 371.6,339.9 369.6,340.2 367.6,340.5 366.6,340.7 364.6,341.1 362.6,341.5 361.6,341.8 359.6,342.3 358.6,342.6 356.6,343.2 355.4,343.6 353.6,344.2 352.3,344.6 350.6,345.2 349.2,345.6 347.6,346.1 345.9,346.6 344.6,347.0 342.6,347.4 341.6,347.6 339.6,348.0 337.6,348.2 335.6,348.3 333.6,348.2 331.6,347.8 330.6,347.6 328.6,346.9 327.6,346.5 326.1,345.6 324.8,344.6 323.8,343.6 322.9,342.6 322.1,341.6 321.4,340.6 320.6,339.4 319.6,337.6 319.1,336.6 318.6,335.4 317.8,333.6 317.4,332.6 316.7,330.6 316.4,329.6 315.7,327.6 315.4,326.6 314.9,324.6 314.6,322.9 314.5,321.6 314.3,319.6 314.2,317.6 314.1,315.6 314.0,313.6 314.0,311.6 314.0,309.6 314.1,307.6 314.2,305.6 314.4,303.6 314.6,301.6 314.7,300.6 314.9,298.6 315.1,296.6 315.3,294.6 315.4,292.6 315.6,290.6 315.7,289.6 315.8,287.6 315.9,285.6 315.9,283.6" fill="none" stroke="#fff" stroke-opacity="0.6" stroke-width="0.6"/>
<polyline points="380.6,334.2 378.6,334.3 376.6,334.4 374.7,334.6 373.6,334.7 371.6,335.0 369.6,335.3 367.8,335.6 366.6,335.8 364.6,336.3 363.5,336.6 361.6,337.1 360.2,337.6 358.6,338.1 357.2,338.6 355.6,339.2 354.5,339.6 352.6,340.3 351.6,340.7 349.6,341.4 348.6,341.8 346.6,342.5 345.6,342.8 343.6,343.4 342.6,343.6 340.6,344.1 338.6,344.4 336.6,344.6 335.6,344.6 334.6,344.6 332.6,344.4 330.6,344.0 329.4,343.6 327.6,342.9 326.6,342.3 325.6,341.6 324.4,340.6 323.4,339.6 322.6,338.6 321.6,337.3 320.6,335.7 320.0,334.6 319.5,333.6 318.6,331.6 318.2,330.6 317.6,329.0 317.1,327.6 316.6,326.1 316.2,324.6 315.8,322.6 315.6,320.6 315.5,319.6 315.4,317.6 315.3,315.6 315.2,313.6 315.2,311.6 315.2,309.6 315.3,307.6 315.4,305.6 315.6,303.6 315.7,302.6 315.9,300.6 316.2,298.6 316.4,296.6 316.6,295.1 316.8,293.6 317.0,291.6 317.2,289.6 317.3,287.6 317.4,285.6 317.5,283.6" fill="none" stroke="#fff" stroke-opacity="0.6" stroke-width="0.6"/>
<polyline points="380.6,328.5 379.0,328.6 377.6,328.7 375.6,328.9 373.6,329.2 371.6,329.5 370.6,329.7 368.6,330.1 366.7,330.6 365.6,330.9 363.6,331.5 362.6,331.9 360.7,332.6 359.6,333.0 358.2,333.6 356.6,334.3 355.6,334.7 353.6,335.6 352.6,336.1 351.4,336.6 349.6,337.4 348.6,337.8 346.6,338.6 345.6,338.9 343.6,339.6 342.6,339.9 340.6,340.4 339.6,340.6 337.6,340.9 335.6,341.0 333.6,340.9 331.6,340.6 330.6,340.4 328.6,339.7 327.6,339.3 326.4,338.6 325.0,337.6 324.0,336.6 323.1,335.6 322.3,334.6 321.6,333.6 320.6,331.9 319.9,330.6 319.5,329.6 318.6,327.6 318.3,326.6 317.6,324.8 317.3,323.6 317.0,321.6 316.8,319.6 316.6,317.6 316.5,316.6 316.4,314.6 316.4,312.6 316.4,310.6 316.4,308.6 316.6,306.6 316.7,305.6 316.9,303.6 317.1,301.6 317.4,299.6 317.6,298.5 317.9,296.6 318.2,294.6 318.5,292.6 318.6,291.6 318.9,289.6 319.0,287.6 319.2,285.6 319.3,283.6" fill="none" stroke="#fff" stroke-opacity="0.6" stroke-width="0.6"/>
<polyline points="363.7,282.6 364.4,284.6 364.9,285.6 365.6,286.7 366.6,288.0 367.6,288.9 368.6,289.7 369.9,290.6 371.6,291.4 372.6,291.8 374.6,292.5 375.6,292.7 377.6,293.1 379.6,293.4" fill="none" stroke="#fff" stroke-opacity="0.6" stroke-width="0.6"/>
<polyline points="380.6,320.9 378.6,321.1 376.6,321.4 375.6,321.6 373.6,322.0 371.6,322.5 370.6,322.8 368.6,323.5 367.6,323.9 365.9,324.6 364.6,325.2 363.6,325.6 361.6,326.6 360.6,327.1 359.6,327.7 357.9,328.6 356.6,329.3 355.6,329.9 354.3,330.6 352.6,331.5 351.6,332.1 350.6,332.6 348.6,333.6 347.6,334.1 346.4,334.6 344.6,335.3 343.6,335.7 341.6,336.4 340.6,336.7 338.6,337.1 336.6,337.3 334.6,337.4 332.6,337.2 330.6,336.8 329.6,336.5 327.6,335.7 326.6,335.1 325.6,334.4 324.6,333.6 323.6,332.5 322.6,331.3 321.6,329.8 321.0,328.6 320.4,327.6 319.6,325.8 319.1,324.6 318.6,322.6 318.5,321.6 318.2,319.6 318.0,317.6 317.8,315.6 317.7,313.6 317.7,311.6 317.7,309.6 317.8,307.6 318.0,305.6 318.3,303.6 318.6,301.7 318.8,300.6 319.2,298.6 319.6,296.7 319.8,295.6 320.3,293.6 320.6,291.8 320.8,290.6 321.1,288.6 321.4,286.6 321.6,284.6 321.6,283.6" fill="none" stroke="#fff" stroke-opacity="0.6" stroke-width="0.6"/>
<polyline points="352.6,282.6 353.1,284.6 353.6,286.4 354.1,287.6 354.6,288.7 355.6,290.4 356.4,291.6 357.2,292.6 358.1,293.6 359.1,294.6 360.3,295.6 361.6,296.6 362.6,297.3 363.6,298.0 364.7,298.6 366.6,299.6 367.6,300.0 369.0,300.6 370.6,301.2 372.1,301.6 373.6,302.0 375.6,302.4 376.7,302.6 378.6,302.9 380.6,303.1" fill="none" stroke="#fff" stroke-opacity="0.6" stroke-width="0.6"/>
<polyline points="343.8,282.6 344.4,284.6 344.7,285.6 345.5,287.6 346.0,288.6 346.6,289.7 347.6,291.2 348.6,292.6 349.4,293.6 350.2,294.6 351.1,295.6 352.1,296.6 353.1,297.6 354.1,298.6 355.2,299.6 356.3,300.6 357.4,301.6 358.6,302.6 359.6,303.5 360.6,304.4 361.6,305.4 362.6,306.4 363.6,307.5 364.4,308.6 365.0,309.6 365.3,311.6 364.9,313.6 364.4,314.6 363.6,315.9 362.6,317.2 361.6,318.4 360.6,319.4 359.6,320.4 358.6,321.4 357.6,322.3 356.6,323.1 355.6,323.9 354.6,324.8 353.5,325.6 352.2,326.6 350.7,327.6 349.6,328.3 348.6,329.0 347.5,329.6 345.7,330.6 344.6,331.1 343.6,331.6 341.6,332.4 340.6,332.7 338.6,333.2 336.6,333.6 335.6,333.6 333.8,333.6 332.6,333.5 330.6,333.0 329.3,332.6 327.6,331.9 326.6,331.3 325.6,330.6 324.5,329.6 323.6,328.6 322.6,327.2 321.6,325.6 321.1,324.6 320.6,323.2 320.2,321.6 319.8,319.6 319.6,318.3 319.4,316.6 319.2,314.6 319.2,312.6 319.2,310.6 319.2,308.6 319.4,306.6 319.6,305.4 319.9,303.6 320.4,301.6 320.7,300.6 321.3,298.6 321.6,297.4 322.2,295.6 322.6,294.5 323.3,292.6 323.6,291.6 324.3,289.6 324.6,288.4 325.1,286.6 325.5,284.6 325.7,283.6" fill="none" stroke="#fff" stroke-opacity="0.6" stroke-width="0.6"/>
<polyline points="339.6,328.7 337.6,329.3 335.6,329.5 333.6,329.5 331.6,329.2 329.6,328.6 328.6,328.2 327.5,327.6 326.0,326.6 325.0,325.6 324.1,324.6 323.4,323.6 322.6,321.8 322.2,320.6 321.7,318.6 321.5,317.6 321.2,315.6 321.0,313.6 320.9,311.6 321.0,309.6 321.2,307.6 321.6,305.6 321.8,304.6 322.5,302.6 322.9,301.6 323.6,300.0 324.4,298.6 325.0,297.6 325.7,296.6 326.6,295.5 327.6,294.5 328.7,293.6 330.1,292.6 331.6,291.8 332.6,291.4 334.6,291.0 336.6,291.4 337.6,291.9 338.8,292.6 340.3,293.6 341.6,294.5 342.6,295.3 343.6,296.2 344.6,297.0 345.6,297.9 346.6,298.8 347.6,299.7 348.6,300.7 349.6,301.7 350.6,302.7 351.6,303.8 352.6,305.0 353.6,306.4 354.3,307.6 354.7,308.6 355.2,310.6 355.2,312.6 354.7,314.6 354.4,315.6 353.6,317.2 352.7,318.6 352.0,319.6 351.2,320.6 350.3,321.6 349.4,322.6 348.3,323.6 347.1,324.6 345.7,325.6 344.6,326.3 343.6,326.9 342.3,327.6 340.6,328.4 339.6,328.7" fill="none" stroke="#fff" stroke-opacity="0.6" stroke-width="0.6"/>
<polyline points="335.6,324.7 333.6,324.7 332.6,324.6 330.6,324.0 329.5,323.6 327.8,322.6 326.7,321.6 325.9,320.6 325.3,319.6 324.6,318.1 324.2,316.6 323.7,314.6 323.6,313.6 323.5,311.6 323.6,309.6 323.7,308.6 324.2,306.6 324.6,305.6 325.6,303.8 326.5,302.6 327.6,301.6 328.6,300.9 329.6,300.3 331.3,299.6 332.6,299.2 334.6,299.0 336.6,299.3 337.7,299.6 339.6,300.4 340.6,301.0 341.6,301.6 342.9,302.6 344.0,303.6 345.0,304.6 345.9,305.6 346.6,306.6 347.6,308.5 348.0,309.6 348.1,311.6 347.9,313.6 347.6,314.7 346.8,316.6 346.2,317.6 345.5,318.6 344.6,319.8 343.6,320.8 342.6,321.6 341.3,322.6 339.6,323.5 338.6,324.0 336.6,324.6 335.6,324.7" fill="none" stroke="#fff" stroke-opacity="0.6" stroke-width="0.6"/>
</g>
<line x1="300.60" y1="282.60" x2="300.60" y2="375.00" stroke="#222" stroke-width="0.7" stroke-dasharray="0.7 1.1"/>
<line x1="319.80" y1="282.60" x2="319.80" y2="375.00" stroke="#222" stroke-width="0.7" stroke-dasharray="0.7 1.1"/>
<line x1="339.60" y1="282.60" x2="339.60" y2="375.00" stroke="#222" stroke-width="0.7" stroke-dasharray="0.7 1.1"/>
<line x1="359.60" y1="282.60" x2="359.60" y2="375.00" stroke="#222" stroke-width="0.7" stroke-dasharray="0.7 1.1"/>
<line x1="379.40" y1="282.60" x2="379.40" y2="375.00" stroke="#222" stroke-width="0.7" stroke-dasharray="0.7 1.1"/>
<line x1="298.60" y1="283.70" x2="381.50" y2="283.70" stroke="#222" stroke-width="0.7" stroke-dasharray="0.7 1.1"/>
<line x1="298.60" y1="306.30" x2="381.50" y2="306.30" stroke="#222" stroke-width="0.7" stroke-dasharray="0.7 1.1"/>
<line x1="298.60" y1="328.80" x2="381.50" y2="328.80" stroke="#222" stroke-width="0.7" stroke-dasharray="0.7 1.1"/>
<line x1="298.60" y1="351.50" x2="381.50" y2="351.50" stroke="#222" stroke-width="0.7" stroke-dasharray="0.7 1.1"/>
<line x1="298.60" y1="374.00" x2="381.50" y2="374.00" stroke="#222" stroke-width="0.7" stroke-dasharray="0.7 1.1"/>
<rect x="319.8" y="283.7" width="39.80000000000001" height="45.10000000000002" fill="none" stroke="#3a3a8a" stroke-width="0.8" stroke-dasharray="1.2 0.8"/>
<line x1="298.60" y1="282.60" x2="381.50" y2="282.60" stroke="#000" stroke-width="1.2"/>
<line x1="381.50" y1="282.60" x2="381.50" y2="375.50" stroke="#000" stroke-width="1.2"/>
<line x1="298.60" y1="282.10" x2="298.60" y2="375.50" stroke="#000" stroke-width="1.1"/>
<line x1="298.60" y1="375.00" x2="381.50" y2="375.00" stroke="#000" stroke-width="1.0"/>
<line x1="296.00" y1="283.70" x2="298.60" y2="283.70" stroke="#000" stroke-width="0.9"/>
<line x1="296.00" y1="306.30" x2="298.60" y2="306.30" stroke="#000" stroke-width="0.9"/>
<line x1="296.00" y1="328.80" x2="298.60" y2="328.80" stroke="#000" stroke-width="0.9"/>
<line x1="296.00" y1="351.50" x2="298.60" y2="351.50" stroke="#000" stroke-width="0.9"/>
<line x1="296.00" y1="374.00" x2="298.60" y2="374.00" stroke="#000" stroke-width="0.9"/>
<line x1="300.00" y1="375.00" x2="300.00" y2="377.80" stroke="#000" stroke-width="0.9"/>
<line x1="319.60" y1="375.00" x2="319.60" y2="377.80" stroke="#000" stroke-width="0.9"/>
<line x1="339.60" y1="375.00" x2="339.60" y2="377.80" stroke="#000" stroke-width="0.9"/>
<line x1="359.60" y1="375.00" x2="359.60" y2="377.80" stroke="#000" stroke-width="0.9"/>
<line x1="379.60" y1="375.00" x2="379.60" y2="377.80" stroke="#000" stroke-width="0.9"/>
<text x="292.60" y="287.00" font-size="6.4" text-anchor="end" textLength="13.80" lengthAdjust="spacingAndGlyphs" fill="#231f20" stroke="#231f20" stroke-width="0.12">2000</text>
<text x="292.60" y="331.20" font-size="6.4" text-anchor="end" textLength="9.50" lengthAdjust="spacingAndGlyphs" fill="#231f20" stroke="#231f20" stroke-width="0.12">125</text>
<text x="292.60" y="375.60" font-size="6.4" text-anchor="end" fill="#231f20" stroke="#231f20" stroke-width="0.12">0</text>
<text x="320.00" y="388.20" font-size="6.4" text-anchor="middle" textLength="10.50" lengthAdjust="spacingAndGlyphs" fill="#231f20" stroke="#231f20" stroke-width="0.12">156</text>
<text x="340.00" y="388.20" font-size="6.4" text-anchor="middle" textLength="10.50" lengthAdjust="spacingAndGlyphs" fill="#231f20" stroke="#231f20" stroke-width="0.12">625</text>
<text x="360.00" y="388.20" font-size="6.4" text-anchor="middle" textLength="13.50" lengthAdjust="spacingAndGlyphs" fill="#231f20" stroke="#231f20" stroke-width="0.12">2500</text>
<text x="379.60" y="388.20" font-size="6.4" text-anchor="middle" textLength="15.50" lengthAdjust="spacingAndGlyphs" fill="#231f20" stroke="#231f20" stroke-width="0.12">10000</text>
<text x="340.80" y="400.50" font-size="7.0" text-anchor="middle" textLength="50.70" lengthAdjust="spacingAndGlyphs" fill="#231f20" stroke="#231f20" stroke-width="0.12">KDM5-inh1 (nM)</text>
<text x="273.90" y="328.90" font-size="7.0" text-anchor="middle" textLength="40.50" lengthAdjust="spacingAndGlyphs" fill="#231f20" stroke="#231f20" stroke-width="0.12" transform="rotate(-90 273.90 328.90)">S63845 (nM)</text>
<text x="340.2" y="268" font-size="7" stroke="#231f20" stroke-width="0.2" text-anchor="middle" textLength="65.5" lengthAdjust="spacingAndGlyphs">OCI-LY-1 (<tspan font-style="italic">KMT2D</tspan><tspan font-size="4.5" dy="-2.6">-/-</tspan><tspan dy="2.6">)</tspan></text>
<text x="340.00" y="278.20" font-size="6.2" text-anchor="middle" textLength="75.00" lengthAdjust="spacingAndGlyphs" fill="#231f20" stroke="#231f20" stroke-width="0.05">Loewe synergy score: 37.1</text>
<g clip-path="url(#c2)"><g filter="url(#hb)">
<rect x="394.6" y="276.6" width="6.3" height="3.3" fill="#fce1e1"/>
<rect x="400.6" y="276.6" width="3.3" height="3.3" fill="#fcdbdb"/>
<rect x="403.6" y="276.6" width="3.3" height="3.3" fill="#fccfcf"/>
<rect x="406.6" y="276.6" width="3.3" height="3.3" fill="#f9c3c3"/>
<rect x="409.6" y="276.6" width="3.3" height="3.3" fill="#f9baba"/>
<rect x="412.6" y="276.6" width="3.3" height="3.3" fill="#f9b1b1"/>
<rect x="415.6" y="276.6" width="3.3" height="3.3" fill="#f9a8ab"/>
<rect x="418.6" y="276.6" width="3.3" height="3.3" fill="#f6a2a2"/>
<rect x="421.6" y="276.6" width="3.3" height="3.3" fill="#f69999"/>
<rect x="424.6" y="276.6" width="3.3" height="3.3" fill="#f69093"/>
<rect x="427.6" y="276.6" width="3.3" height="3.3" fill="#f68a8a"/>
<rect x="430.6" y="276.6" width="3.3" height="3.3" fill="#f68184"/>
<rect x="433.6" y="276.6" width="3.3" height="3.3" fill="#f37b7b"/>
<rect x="436.6" y="276.6" width="3.3" height="3.3" fill="#f37275"/>
<rect x="439.6" y="276.6" width="3.3" height="3.3" fill="#f36c6f"/>
<rect x="442.6" y="276.6" width="3.3" height="3.3" fill="#f36666"/>
<rect x="445.6" y="276.6" width="3.3" height="3.3" fill="#f36060"/>
<rect x="448.6" y="276.6" width="3.3" height="3.3" fill="#f05a5a"/>
<rect x="451.6" y="276.6" width="3.3" height="3.3" fill="#f05454"/>
<rect x="454.6" y="276.6" width="3.3" height="3.3" fill="#f04e51"/>
<rect x="457.6" y="276.6" width="3.3" height="3.3" fill="#f0484b"/>
<rect x="460.6" y="276.6" width="3.3" height="3.3" fill="#f04545"/>
<rect x="463.6" y="276.6" width="3.3" height="3.3" fill="#f04242"/>
<rect x="466.6" y="276.6" width="3.3" height="3.3" fill="#f03c3f"/>
<rect x="469.6" y="276.6" width="3.3" height="3.3" fill="#f0393c"/>
<rect x="472.6" y="276.6" width="3.3" height="3.3" fill="#ed3639"/>
<rect x="475.6" y="276.6" width="3.3" height="3.3" fill="#ed3336"/>
<rect x="478.6" y="276.6" width="3.3" height="3.3" fill="#ed3033"/>
<rect x="481.6" y="276.6" width="9.3" height="3.3" fill="#ed2d30"/>
<rect x="394.6" y="279.6" width="6.3" height="3.3" fill="#fce1e1"/>
<rect x="400.6" y="279.6" width="3.3" height="3.3" fill="#fcdbdb"/>
<rect x="403.6" y="279.6" width="3.3" height="3.3" fill="#fccfcf"/>
<rect x="406.6" y="279.6" width="3.3" height="3.3" fill="#f9c3c3"/>
<rect x="409.6" y="279.6" width="3.3" height="3.3" fill="#f9baba"/>
<rect x="412.6" y="279.6" width="3.3" height="3.3" fill="#f9b1b1"/>
<rect x="415.6" y="279.6" width="3.3" height="3.3" fill="#f9a8ab"/>
<rect x="418.6" y="279.6" width="3.3" height="3.3" fill="#f6a2a2"/>
<rect x="421.6" y="279.6" width="3.3" height="3.3" fill="#f69999"/>
<rect x="424.6" y="279.6" width="3.3" height="3.3" fill="#f69093"/>
<rect x="427.6" y="279.6" width="3.3" height="3.3" fill="#f68a8a"/>
<rect x="430.6" y="279.6" width="3.3" height="3.3" fill="#f68184"/>
<rect x="433.6" y="279.6" width="3.3" height="3.3" fill="#f37b7b"/>
<rect x="436.6" y="279.6" width="3.3" height="3.3" fill="#f37275"/>
<rect x="439.6" y="279.6" width="3.3" height="3.3" fill="#f36c6f"/>
<rect x="442.6" y="279.6" width="3.3" height="3.3" fill="#f36666"/>
<rect x="445.6" y="279.6" width="3.3" height="3.3" fill="#f36060"/>
<rect x="448.6" y="279.6" width="3.3" height="3.3" fill="#f05a5a"/>
<rect x="451.6" y="279.6" width="3.3" height="3.3" fill="#f05454"/>
<rect x="454.6" y="279.6" width="3.3" height="3.3" fill="#f04e51"/>
<rect x="457.6" y="279.6" width="3.3" height="3.3" fill="#f0484b"/>
<rect x="460.6" y="279.6" width="3.3" height="3.3" fill="#f04545"/>
<rect x="463.6" y="279.6" width="3.3" height="3.3" fill="#f04242"/>
<rect x="466.6" y="279.6" width="3.3" height="3.3" fill="#f03c3f"/>
<rect x="469.6" y="279.6" width="3.3" height="3.3" fill="#f0393c"/>
<rect x="472.6" y="279.6" width="3.3" height="3.3" fill="#ed3639"/>
<rect x="475.6" y="279.6" width="3.3" height="3.3" fill="#ed3336"/>
<rect x="478.6" y="279.6" width="3.3" height="3.3" fill="#ed3033"/>
<rect x="481.6" y="279.6" width="9.3" height="3.3" fill="#ed2d30"/>
<rect x="394.6" y="282.6" width="6.3" height="3.3" fill="#fcdee1"/>
<rect x="400.6" y="282.6" width="3.3" height="3.3" fill="#fcd8d8"/>
<rect x="403.6" y="282.6" width="3.3" height="3.3" fill="#fccccc"/>
<rect x="406.6" y="282.6" width="3.3" height="3.3" fill="#f9c0c0"/>
<rect x="409.6" y="282.6" width="3.3" height="3.3" fill="#f9b4b7"/>
<rect x="412.6" y="282.6" width="3.3" height="3.3" fill="#f9abae"/>
<rect x="415.6" y="282.6" width="3.3" height="3.3" fill="#f6a2a5"/>
<rect x="418.6" y="282.6" width="3.3" height="3.3" fill="#f69c9c"/>
<rect x="421.6" y="282.6" width="3.3" height="3.3" fill="#f69393"/>
<rect x="424.6" y="282.6" width="3.3" height="3.3" fill="#f68a8d"/>
<rect x="427.6" y="282.6" width="3.3" height="3.3" fill="#f68484"/>
<rect x="430.6" y="282.6" width="3.3" height="3.3" fill="#f37b7e"/>
<rect x="433.6" y="282.6" width="3.3" height="3.3" fill="#f37575"/>
<rect x="436.6" y="282.6" width="3.3" height="3.3" fill="#f36c6f"/>
<rect x="439.6" y="282.6" width="3.3" height="3.3" fill="#f36669"/>
<rect x="442.6" y="282.6" width="3.3" height="3.3" fill="#f36063"/>
<rect x="445.6" y="282.6" width="3.3" height="3.3" fill="#f05a5a"/>
<rect x="448.6" y="282.6" width="3.3" height="3.3" fill="#f05457"/>
<rect x="451.6" y="282.6" width="3.3" height="3.3" fill="#f04e51"/>
<rect x="454.6" y="282.6" width="3.3" height="3.3" fill="#f04b4b"/>
<rect x="457.6" y="282.6" width="3.3" height="3.3" fill="#f04548"/>
<rect x="460.6" y="282.6" width="3.3" height="3.3" fill="#f04242"/>
<rect x="463.6" y="282.6" width="3.3" height="3.3" fill="#f03c3f"/>
<rect x="466.6" y="282.6" width="3.3" height="3.3" fill="#f0393c"/>
<rect x="469.6" y="282.6" width="3.3" height="3.3" fill="#ed3639"/>
<rect x="472.6" y="282.6" width="3.3" height="3.3" fill="#ed3336"/>
<rect x="475.6" y="282.6" width="3.3" height="3.3" fill="#ed3033"/>
<rect x="478.6" y="282.6" width="3.3" height="3.3" fill="#ed2d30"/>
<rect x="481.6" y="282.6" width="9.3" height="3.3" fill="#ed2d2d"/>
<rect x="394.6" y="285.6" width="6.3" height="3.3" fill="#fcdbde"/>
<rect x="400.6" y="285.6" width="3.3" height="3.3" fill="#fcd5d5"/>
<rect x="403.6" y="285.6" width="3.3" height="3.3" fill="#f9c3c6"/>
<rect x="406.6" y="285.6" width="3.3" height="3.3" fill="#f9b7b7"/>
<rect x="409.6" y="285.6" width="3.3" height="3.3" fill="#f9abab"/>
<rect x="412.6" y="285.6" width="3.3" height="3.3" fill="#f6a2a2"/>
<rect x="415.6" y="285.6" width="3.3" height="3.3" fill="#f69999"/>
<rect x="418.6" y="285.6" width="3.3" height="3.3" fill="#f69090"/>
<rect x="421.6" y="285.6" width="3.3" height="3.3" fill="#f68787"/>
<rect x="424.6" y="285.6" width="3.3" height="3.3" fill="#f37e7e"/>
<rect x="427.6" y="285.6" width="3.3" height="3.3" fill="#f37878"/>
<rect x="430.6" y="285.6" width="3.3" height="3.3" fill="#f36f72"/>
<rect x="433.6" y="285.6" width="3.3" height="3.3" fill="#f36969"/>
<rect x="436.6" y="285.6" width="3.3" height="3.3" fill="#f36363"/>
<rect x="439.6" y="285.6" width="3.3" height="3.3" fill="#f05d5d"/>
<rect x="442.6" y="285.6" width="3.3" height="3.3" fill="#f05757"/>
<rect x="445.6" y="285.6" width="3.3" height="3.3" fill="#f05151"/>
<rect x="448.6" y="285.6" width="3.3" height="3.3" fill="#f04b4e"/>
<rect x="451.6" y="285.6" width="3.3" height="3.3" fill="#f04548"/>
<rect x="454.6" y="285.6" width="3.3" height="3.3" fill="#f04245"/>
<rect x="457.6" y="285.6" width="3.3" height="3.3" fill="#f03f3f"/>
<rect x="460.6" y="285.6" width="3.3" height="3.3" fill="#f0393c"/>
<rect x="463.6" y="285.6" width="3.3" height="3.3" fill="#ed3639"/>
<rect x="466.6" y="285.6" width="3.3" height="3.3" fill="#ed3336"/>
<rect x="469.6" y="285.6" width="3.3" height="3.3" fill="#ed3033"/>
<rect x="472.6" y="285.6" width="3.3" height="3.3" fill="#ed3030"/>
<rect x="475.6" y="285.6" width="3.3" height="3.3" fill="#ed2d2d"/>
<rect x="478.6" y="285.6" width="3.3" height="3.3" fill="#ed2a2d"/>
<rect x="481.6" y="285.6" width="9.3" height="3.3" fill="#ed272a"/>
<rect x="394.6" y="288.6" width="6.3" height="3.3" fill="#fcdbdb"/>
<rect x="400.6" y="288.6" width="3.3" height="3.3" fill="#fccfcf"/>
<rect x="403.6" y="288.6" width="3.3" height="3.3" fill="#f9bdc0"/>
<rect x="406.6" y="288.6" width="3.3" height="3.3" fill="#f9aeb1"/>
<rect x="409.6" y="288.6" width="3.3" height="3.3" fill="#f6a2a2"/>
<rect x="412.6" y="288.6" width="3.3" height="3.3" fill="#f69699"/>
<rect x="415.6" y="288.6" width="3.3" height="3.3" fill="#f68d8d"/>
<rect x="418.6" y="288.6" width="3.3" height="3.3" fill="#f68484"/>
<rect x="421.6" y="288.6" width="3.3" height="3.3" fill="#f37b7b"/>
<rect x="424.6" y="288.6" width="3.3" height="3.3" fill="#f37275"/>
<rect x="427.6" y="288.6" width="3.3" height="3.3" fill="#f36c6c"/>
<rect x="430.6" y="288.6" width="3.3" height="3.3" fill="#f36366"/>
<rect x="433.6" y="288.6" width="3.3" height="3.3" fill="#f35d60"/>
<rect x="436.6" y="288.6" width="3.3" height="3.3" fill="#f0575a"/>
<rect x="439.6" y="288.6" width="3.3" height="3.3" fill="#f05154"/>
<rect x="442.6" y="288.6" width="3.3" height="3.3" fill="#f04b4e"/>
<rect x="445.6" y="288.6" width="3.3" height="3.3" fill="#f04848"/>
<rect x="448.6" y="288.6" width="3.3" height="3.3" fill="#f04245"/>
<rect x="451.6" y="288.6" width="3.3" height="3.3" fill="#f03f42"/>
<rect x="454.6" y="288.6" width="3.3" height="3.3" fill="#f03c3c"/>
<rect x="457.6" y="288.6" width="3.3" height="3.3" fill="#ed3939"/>
<rect x="460.6" y="288.6" width="3.3" height="3.3" fill="#ed3336"/>
<rect x="463.6" y="288.6" width="3.3" height="3.3" fill="#ed3033"/>
<rect x="466.6" y="288.6" width="3.3" height="3.3" fill="#ed3030"/>
<rect x="469.6" y="288.6" width="3.3" height="3.3" fill="#ed2d2d"/>
<rect x="472.6" y="288.6" width="3.3" height="3.3" fill="#ed2a2d"/>
<rect x="475.6" y="288.6" width="3.3" height="3.3" fill="#ed272a"/>
<rect x="478.6" y="288.6" width="3.3" height="3.3" fill="#ed2727"/>
<rect x="481.6" y="288.6" width="9.3" height="3.3" fill="#ed2427"/>
<rect x="394.6" y="291.6" width="6.3" height="3.3" fill="#fcd8d8"/>
<rect x="400.6" y="291.6" width="3.3" height="3.3" fill="#fccccc"/>
<rect x="403.6" y="291.6" width="3.3" height="3.3" fill="#f9baba"/>
<rect x="406.6" y="291.6" width="3.3" height="3.3" fill="#f9a8a8"/>
<rect x="409.6" y="291.6" width="3.3" height="3.3" fill="#f6999c"/>
<rect x="412.6" y="291.6" width="3.3" height="3.3" fill="#f68d90"/>
<rect x="415.6" y="291.6" width="3.3" height="3.3" fill="#f68484"/>
<rect x="418.6" y="291.6" width="3.3" height="3.3" fill="#f3787b"/>
<rect x="421.6" y="291.6" width="3.3" height="3.3" fill="#f36f72"/>
<rect x="424.6" y="291.6" width="3.3" height="3.3" fill="#f36969"/>
<rect x="427.6" y="291.6" width="3.3" height="3.3" fill="#f36063"/>
<rect x="430.6" y="291.6" width="3.3" height="3.3" fill="#f05a5a"/>
<rect x="433.6" y="291.6" width="3.3" height="3.3" fill="#f05454"/>
<rect x="436.6" y="291.6" width="3.3" height="3.3" fill="#f04e51"/>
<rect x="439.6" y="291.6" width="3.3" height="3.3" fill="#f0484b"/>
<rect x="442.6" y="291.6" width="3.3" height="3.3" fill="#f04545"/>
<rect x="445.6" y="291.6" width="3.3" height="3.3" fill="#f03f42"/>
<rect x="448.6" y="291.6" width="3.3" height="3.3" fill="#f03c3f"/>
<rect x="451.6" y="291.6" width="3.3" height="3.3" fill="#f03939"/>
<rect x="454.6" y="291.6" width="3.3" height="3.3" fill="#ed3636"/>
<rect x="457.6" y="291.6" width="3.3" height="3.3" fill="#ed3333"/>
<rect x="460.6" y="291.6" width="3.3" height="3.3" fill="#ed3030"/>
<rect x="463.6" y="291.6" width="3.3" height="3.3" fill="#ed2d2d"/>
<rect x="466.6" y="291.6" width="3.3" height="3.3" fill="#ed2a2d"/>
<rect x="469.6" y="291.6" width="3.3" height="3.3" fill="#ed272a"/>
<rect x="472.6" y="291.6" width="3.3" height="3.3" fill="#ed2727"/>
<rect x="475.6" y="291.6" width="3.3" height="3.3" fill="#ed2427"/>
<rect x="478.6" y="291.6" width="3.3" height="3.3" fill="#ed2424"/>
<rect x="481.6" y="291.6" width="9.3" height="3.3" fill="#ed2124"/>
<rect x="394.6" y="294.6" width="6.3" height="3.3" fill="#fcd5d5"/>
<rect x="400.6" y="294.6" width="3.3" height="3.3" fill="#fcc9c9"/>
<rect x="403.6" y="294.6" width="3.3" height="3.3" fill="#f9b4b7"/>
<rect x="406.6" y="294.6" width="3.3" height="3.3" fill="#f6a2a5"/>
<rect x="409.6" y="294.6" width="3.3" height="3.3" fill="#f69396"/>
<rect x="412.6" y="294.6" width="3.3" height="3.3" fill="#f68787"/>
<rect x="415.6" y="294.6" width="3.3" height="3.3" fill="#f37b7b"/>
<rect x="418.6" y="294.6" width="3.3" height="3.3" fill="#f36f72"/>
<rect x="421.6" y="294.6" width="3.3" height="3.3" fill="#f36669"/>
<rect x="424.6" y="294.6" width="3.3" height="3.3" fill="#f36060"/>
<rect x="427.6" y="294.6" width="3.3" height="3.3" fill="#f0575a"/>
<rect x="430.6" y="294.6" width="3.3" height="3.3" fill="#f05154"/>
<rect x="433.6" y="294.6" width="3.3" height="3.3" fill="#f04b4e"/>
<rect x="436.6" y="294.6" width="3.3" height="3.3" fill="#f04548"/>
<rect x="439.6" y="294.6" width="3.3" height="3.3" fill="#f04242"/>
<rect x="442.6" y="294.6" width="3.3" height="3.3" fill="#f03c3f"/>
<rect x="445.6" y="294.6" width="3.3" height="3.3" fill="#f0393c"/>
<rect x="448.6" y="294.6" width="3.3" height="3.3" fill="#ed3639"/>
<rect x="451.6" y="294.6" width="3.3" height="3.3" fill="#ed3333"/>
<rect x="454.6" y="294.6" width="3.3" height="3.3" fill="#ed3033"/>
<rect x="457.6" y="294.6" width="3.3" height="3.3" fill="#ed2d30"/>
<rect x="460.6" y="294.6" width="3.3" height="3.3" fill="#ed2a2d"/>
<rect x="463.6" y="294.6" width="3.3" height="3.3" fill="#ed2a2a"/>
<rect x="466.6" y="294.6" width="3.3" height="3.3" fill="#ed272a"/>
<rect x="469.6" y="294.6" width="3.3" height="3.3" fill="#ed2427"/>
<rect x="472.6" y="294.6" width="3.3" height="3.3" fill="#ed2424"/>
<rect x="475.6" y="294.6" width="6.3" height="3.3" fill="#ed2124"/>
<rect x="481.6" y="294.6" width="9.3" height="3.3" fill="#ed1e21"/>
<rect x="394.6" y="297.6" width="6.3" height="3.3" fill="#fcd5d5"/>
<rect x="400.6" y="297.6" width="3.3" height="3.3" fill="#f9c9c9"/>
<rect x="403.6" y="297.6" width="3.3" height="3.3" fill="#f9b4b4"/>
<rect x="406.6" y="297.6" width="3.3" height="3.3" fill="#f69fa2"/>
<rect x="409.6" y="297.6" width="3.3" height="3.3" fill="#f69090"/>
<rect x="412.6" y="297.6" width="3.3" height="3.3" fill="#f68184"/>
<rect x="415.6" y="297.6" width="3.3" height="3.3" fill="#f37578"/>
<rect x="418.6" y="297.6" width="3.3" height="3.3" fill="#f36c6c"/>
<rect x="421.6" y="297.6" width="3.3" height="3.3" fill="#f36063"/>
<rect x="424.6" y="297.6" width="3.3" height="3.3" fill="#f05a5a"/>
<rect x="427.6" y="297.6" width="3.3" height="3.3" fill="#f05154"/>
<rect x="430.6" y="297.6" width="3.3" height="3.3" fill="#f04b4e"/>
<rect x="433.6" y="297.6" width="3.3" height="3.3" fill="#f04548"/>
<rect x="436.6" y="297.6" width="3.3" height="3.3" fill="#f04242"/>
<rect x="439.6" y="297.6" width="3.3" height="3.3" fill="#f03c3f"/>
<rect x="442.6" y="297.6" width="3.3" height="3.3" fill="#f03939"/>
<rect x="445.6" y="297.6" width="3.3" height="3.3" fill="#ed3636"/>
<rect x="448.6" y="297.6" width="3.3" height="3.3" fill="#ed3033"/>
<rect x="451.6" y="297.6" width="3.3" height="3.3" fill="#ed2d30"/>
<rect x="454.6" y="297.6" width="3.3" height="3.3" fill="#ed2d2d"/>
<rect x="457.6" y="297.6" width="3.3" height="3.3" fill="#ed2a2a"/>
<rect x="460.6" y="297.6" width="3.3" height="3.3" fill="#ed272a"/>
<rect x="463.6" y="297.6" width="6.3" height="3.3" fill="#ed2427"/>
<rect x="469.6" y="297.6" width="6.3" height="3.3" fill="#ed2124"/>
<rect x="475.6" y="297.6" width="3.3" height="3.3" fill="#ed2121"/>
<rect x="478.6" y="297.6" width="6.3" height="3.3" fill="#ed1e21"/>
<rect x="484.6" y="297.6" width="6.3" height="3.3" fill="#ed1e1e"/>
<rect x="394.6" y="300.6" width="6.3" height="3.3" fill="#fcd5d5"/>
<rect x="400.6" y="300.6" width="3.3" height="3.3" fill="#f9c9c9"/>
<rect x="403.6" y="300.6" width="3.3" height="3.3" fill="#f9b1b4"/>
<rect x="406.6" y="300.6" width="3.3" height="3.3" fill="#f69f9f"/>
<rect x="409.6" y="300.6" width="3.3" height="3.3" fill="#f68d90"/>
<rect x="412.6" y="300.6" width="3.3" height="3.3" fill="#f38181"/>
<rect x="415.6" y="300.6" width="3.3" height="3.3" fill="#f37275"/>
<rect x="418.6" y="300.6" width="3.3" height="3.3" fill="#f36969"/>
<rect x="421.6" y="300.6" width="3.3" height="3.3" fill="#f35d60"/>
<rect x="424.6" y="300.6" width="3.3" height="3.3" fill="#f05757"/>
<rect x="427.6" y="300.6" width="3.3" height="3.3" fill="#f04e51"/>
<rect x="430.6" y="300.6" width="3.3" height="3.3" fill="#f0484b"/>
<rect x="433.6" y="300.6" width="3.3" height="3.3" fill="#f04245"/>
<rect x="436.6" y="300.6" width="3.3" height="3.3" fill="#f03c3f"/>
<rect x="439.6" y="300.6" width="3.3" height="3.3" fill="#f0393c"/>
<rect x="442.6" y="300.6" width="3.3" height="3.3" fill="#ed3636"/>
<rect x="445.6" y="300.6" width="3.3" height="3.3" fill="#ed3033"/>
<rect x="448.6" y="300.6" width="3.3" height="3.3" fill="#ed2d30"/>
<rect x="451.6" y="300.6" width="3.3" height="3.3" fill="#ed2d2d"/>
<rect x="454.6" y="300.6" width="3.3" height="3.3" fill="#ed2a2a"/>
<rect x="457.6" y="300.6" width="3.3" height="3.3" fill="#ed272a"/>
<rect x="460.6" y="300.6" width="3.3" height="3.3" fill="#ed2427"/>
<rect x="463.6" y="300.6" width="3.3" height="3.3" fill="#ed2424"/>
<rect x="466.6" y="300.6" width="3.3" height="3.3" fill="#ed2124"/>
<rect x="469.6" y="300.6" width="3.3" height="3.3" fill="#ed2121"/>
<rect x="472.6" y="300.6" width="6.3" height="3.3" fill="#ed1e21"/>
<rect x="478.6" y="300.6" width="3.3" height="3.3" fill="#ed1e1e"/>
<rect x="481.6" y="300.6" width="9.3" height="3.3" fill="#ed1b1e"/>
<rect x="394.6" y="303.6" width="6.3" height="3.3" fill="#fcd8d8"/>
<rect x="400.6" y="303.6" width="3.3" height="3.3" fill="#fccccc"/>
<rect x="403.6" y="303.6" width="3.3" height="3.3" fill="#f9b7b7"/>
<rect x="406.6" y="303.6" width="3.3" height="3.3" fill="#f6a2a5"/>
<rect x="409.6" y="303.6" width="3.3" height="3.3" fill="#f69393"/>
<rect x="412.6" y="303.6" width="3.3" height="3.3" fill="#f68184"/>
<rect x="415.6" y="303.6" width="3.3" height="3.3" fill="#f37575"/>
<rect x="418.6" y="303.6" width="3.3" height="3.3" fill="#f3696c"/>
<rect x="421.6" y="303.6" width="3.3" height="3.3" fill="#f36060"/>
<rect x="424.6" y="303.6" width="3.3" height="3.3" fill="#f05757"/>
<rect x="427.6" y="303.6" width="3.3" height="3.3" fill="#f04e51"/>
<rect x="430.6" y="303.6" width="3.3" height="3.3" fill="#f04848"/>
<rect x="433.6" y="303.6" width="3.3" height="3.3" fill="#f04242"/>
<rect x="436.6" y="303.6" width="3.3" height="3.3" fill="#f03c3f"/>
<rect x="439.6" y="303.6" width="3.3" height="3.3" fill="#ed3639"/>
<rect x="442.6" y="303.6" width="3.3" height="3.3" fill="#ed3336"/>
<rect x="445.6" y="303.6" width="3.3" height="3.3" fill="#ed3033"/>
<rect x="448.6" y="303.6" width="3.3" height="3.3" fill="#ed2d30"/>
<rect x="451.6" y="303.6" width="3.3" height="3.3" fill="#ed2a2d"/>
<rect x="454.6" y="303.6" width="3.3" height="3.3" fill="#ed272a"/>
<rect x="457.6" y="303.6" width="3.3" height="3.3" fill="#ed2427"/>
<rect x="460.6" y="303.6" width="3.3" height="3.3" fill="#ed2424"/>
<rect x="463.6" y="303.6" width="3.3" height="3.3" fill="#ed2124"/>
<rect x="466.6" y="303.6" width="3.3" height="3.3" fill="#ed2121"/>
<rect x="469.6" y="303.6" width="6.3" height="3.3" fill="#ed1e21"/>
<rect x="475.6" y="303.6" width="3.3" height="3.3" fill="#ed1e1e"/>
<rect x="478.6" y="303.6" width="12.3" height="3.3" fill="#ed1b1e"/>
<rect x="394.6" y="306.6" width="6.3" height="3.3" fill="#fcdede"/>
<rect x="400.6" y="306.6" width="3.3" height="3.3" fill="#fcd5d5"/>
<rect x="403.6" y="306.6" width="3.3" height="3.3" fill="#f9c0c0"/>
<rect x="406.6" y="306.6" width="3.3" height="3.3" fill="#f9aeae"/>
<rect x="409.6" y="306.6" width="3.3" height="3.3" fill="#f69c9f"/>
<rect x="412.6" y="306.6" width="3.3" height="3.3" fill="#f68d8d"/>
<rect x="415.6" y="306.6" width="3.3" height="3.3" fill="#f37e81"/>
<rect x="418.6" y="306.6" width="3.3" height="3.3" fill="#f37272"/>
<rect x="421.6" y="306.6" width="3.3" height="3.3" fill="#f36669"/>
<rect x="424.6" y="306.6" width="3.3" height="3.3" fill="#f35d5d"/>
<rect x="427.6" y="306.6" width="3.3" height="3.3" fill="#f05454"/>
<rect x="430.6" y="306.6" width="3.3" height="3.3" fill="#f04b4e"/>
<rect x="433.6" y="306.6" width="3.3" height="3.3" fill="#f04548"/>
<rect x="436.6" y="306.6" width="3.3" height="3.3" fill="#f03f3f"/>
<rect x="439.6" y="306.6" width="3.3" height="3.3" fill="#f0393c"/>
<rect x="442.6" y="306.6" width="3.3" height="3.3" fill="#ed3636"/>
<rect x="445.6" y="306.6" width="3.3" height="3.3" fill="#ed3033"/>
<rect x="448.6" y="306.6" width="3.3" height="3.3" fill="#ed2d30"/>
<rect x="451.6" y="306.6" width="3.3" height="3.3" fill="#ed2a2d"/>
<rect x="454.6" y="306.6" width="3.3" height="3.3" fill="#ed272a"/>
<rect x="457.6" y="306.6" width="3.3" height="3.3" fill="#ed2427"/>
<rect x="460.6" y="306.6" width="3.3" height="3.3" fill="#ed2424"/>
<rect x="463.6" y="306.6" width="3.3" height="3.3" fill="#ed2124"/>
<rect x="466.6" y="306.6" width="3.3" height="3.3" fill="#ed2121"/>
<rect x="469.6" y="306.6" width="3.3" height="3.3" fill="#ed1e21"/>
<rect x="472.6" y="306.6" width="3.3" height="3.3" fill="#ed1e1e"/>
<rect x="475.6" y="306.6" width="15.3" height="3.3" fill="#ed1b1e"/>
<rect x="394.6" y="309.6" width="6.3" height="3.3" fill="#fce7e7"/>
<rect x="400.6" y="309.6" width="3.3" height="3.3" fill="#fcdede"/>
<rect x="403.6" y="309.6" width="3.3" height="3.3" fill="#fccfcf"/>
<rect x="406.6" y="309.6" width="3.3" height="3.3" fill="#f9bdbd"/>
<rect x="409.6" y="309.6" width="3.3" height="3.3" fill="#f9aeae"/>
<rect x="412.6" y="309.6" width="3.3" height="3.3" fill="#f69f9f"/>
<rect x="415.6" y="309.6" width="3.3" height="3.3" fill="#f69090"/>
<rect x="418.6" y="309.6" width="3.3" height="3.3" fill="#f68184"/>
<rect x="421.6" y="309.6" width="3.3" height="3.3" fill="#f37578"/>
<rect x="424.6" y="309.6" width="3.3" height="3.3" fill="#f3696c"/>
<rect x="427.6" y="309.6" width="3.3" height="3.3" fill="#f36063"/>
<rect x="430.6" y="309.6" width="3.3" height="3.3" fill="#f0575a"/>
<rect x="433.6" y="309.6" width="3.3" height="3.3" fill="#f04e51"/>
<rect x="436.6" y="309.6" width="3.3" height="3.3" fill="#f0484b"/>
<rect x="439.6" y="309.6" width="3.3" height="3.3" fill="#f04242"/>
<rect x="442.6" y="309.6" width="3.3" height="3.3" fill="#f03c3f"/>
<rect x="445.6" y="309.6" width="3.3" height="3.3" fill="#ed3639"/>
<rect x="448.6" y="309.6" width="3.3" height="3.3" fill="#ed3333"/>
<rect x="451.6" y="309.6" width="3.3" height="3.3" fill="#ed3030"/>
<rect x="454.6" y="309.6" width="3.3" height="3.3" fill="#ed2a2d"/>
<rect x="457.6" y="309.6" width="3.3" height="3.3" fill="#ed272a"/>
<rect x="460.6" y="309.6" width="3.3" height="3.3" fill="#ed2727"/>
<rect x="463.6" y="309.6" width="3.3" height="3.3" fill="#ed2424"/>
<rect x="466.6" y="309.6" width="3.3" height="3.3" fill="#ed2124"/>
<rect x="469.6" y="309.6" width="3.3" height="3.3" fill="#ed2121"/>
<rect x="472.6" y="309.6" width="3.3" height="3.3" fill="#ed1e21"/>
<rect x="475.6" y="309.6" width="3.3" height="3.3" fill="#ed1e1e"/>
<rect x="478.6" y="309.6" width="12.3" height="3.3" fill="#ed1b1e"/>
<rect x="394.6" y="312.6" width="6.3" height="3.3" fill="#fceded"/>
<rect x="400.6" y="312.6" width="3.3" height="3.3" fill="#fce7e7"/>
<rect x="403.6" y="312.6" width="3.3" height="3.3" fill="#fcdbdb"/>
<rect x="406.6" y="312.6" width="3.3" height="3.3" fill="#fccfcf"/>
<rect x="409.6" y="312.6" width="3.3" height="3.3" fill="#f9c0c0"/>
<rect x="412.6" y="312.6" width="3.3" height="3.3" fill="#f9b1b1"/>
<rect x="415.6" y="312.6" width="3.3" height="3.3" fill="#f6a2a5"/>
<rect x="418.6" y="312.6" width="3.3" height="3.3" fill="#f69696"/>
<rect x="421.6" y="312.6" width="3.3" height="3.3" fill="#f68a8a"/>
<rect x="424.6" y="312.6" width="3.3" height="3.3" fill="#f37e7e"/>
<rect x="427.6" y="312.6" width="3.3" height="3.3" fill="#f37272"/>
<rect x="430.6" y="312.6" width="3.3" height="3.3" fill="#f36969"/>
<rect x="433.6" y="312.6" width="3.3" height="3.3" fill="#f36060"/>
<rect x="436.6" y="312.6" width="3.3" height="3.3" fill="#f05757"/>
<rect x="439.6" y="312.6" width="3.3" height="3.3" fill="#f04e51"/>
<rect x="442.6" y="312.6" width="3.3" height="3.3" fill="#f0484b"/>
<rect x="445.6" y="312.6" width="3.3" height="3.3" fill="#f04245"/>
<rect x="448.6" y="312.6" width="3.3" height="3.3" fill="#f03c3f"/>
<rect x="451.6" y="312.6" width="3.3" height="3.3" fill="#ed3939"/>
<rect x="454.6" y="312.6" width="3.3" height="3.3" fill="#ed3336"/>
<rect x="457.6" y="312.6" width="3.3" height="3.3" fill="#ed3033"/>
<rect x="460.6" y="312.6" width="3.3" height="3.3" fill="#ed2d2d"/>
<rect x="463.6" y="312.6" width="3.3" height="3.3" fill="#ed2a2a"/>
<rect x="466.6" y="312.6" width="3.3" height="3.3" fill="#ed272a"/>
<rect x="469.6" y="312.6" width="3.3" height="3.3" fill="#ed2427"/>
<rect x="472.6" y="312.6" width="3.3" height="3.3" fill="#ed2124"/>
<rect x="475.6" y="312.6" width="3.3" height="3.3" fill="#ed2121"/>
<rect x="478.6" y="312.6" width="3.3" height="3.3" fill="#ed1e21"/>
<rect x="481.6" y="312.6" width="9.3" height="3.3" fill="#ed1e1e"/>
<rect x="394.6" y="315.6" width="6.3" height="3.3" fill="#fff0f3"/>
<rect x="400.6" y="315.6" width="3.3" height="3.3" fill="#ffeded"/>
<rect x="403.6" y="315.6" width="3.3" height="3.3" fill="#fce7e7"/>
<rect x="406.6" y="315.6" width="3.3" height="3.3" fill="#fcdbdb"/>
<rect x="409.6" y="315.6" width="3.3" height="3.3" fill="#fccfcf"/>
<rect x="412.6" y="315.6" width="3.3" height="3.3" fill="#f9c3c3"/>
<rect x="415.6" y="315.6" width="3.3" height="3.3" fill="#f9b7b7"/>
<rect x="418.6" y="315.6" width="3.3" height="3.3" fill="#f9abab"/>
<rect x="421.6" y="315.6" width="3.3" height="3.3" fill="#f69f9f"/>
<rect x="424.6" y="315.6" width="3.3" height="3.3" fill="#f69393"/>
<rect x="427.6" y="315.6" width="3.3" height="3.3" fill="#f68787"/>
<rect x="430.6" y="315.6" width="3.3" height="3.3" fill="#f37b7e"/>
<rect x="433.6" y="315.6" width="3.3" height="3.3" fill="#f37275"/>
<rect x="436.6" y="315.6" width="3.3" height="3.3" fill="#f3696c"/>
<rect x="439.6" y="315.6" width="3.3" height="3.3" fill="#f36063"/>
<rect x="442.6" y="315.6" width="3.3" height="3.3" fill="#f05a5a"/>
<rect x="445.6" y="315.6" width="3.3" height="3.3" fill="#f05154"/>
<rect x="448.6" y="315.6" width="3.3" height="3.3" fill="#f04b4e"/>
<rect x="451.6" y="315.6" width="3.3" height="3.3" fill="#f04548"/>
<rect x="454.6" y="315.6" width="3.3" height="3.3" fill="#f03f42"/>
<rect x="457.6" y="315.6" width="3.3" height="3.3" fill="#f03c3c"/>
<rect x="460.6" y="315.6" width="3.3" height="3.3" fill="#ed3639"/>
<rect x="463.6" y="315.6" width="3.3" height="3.3" fill="#ed3336"/>
<rect x="466.6" y="315.6" width="3.3" height="3.3" fill="#ed3033"/>
<rect x="469.6" y="315.6" width="3.3" height="3.3" fill="#ed2d2d"/>
<rect x="472.6" y="315.6" width="3.3" height="3.3" fill="#ed2a2d"/>
<rect x="475.6" y="315.6" width="3.3" height="3.3" fill="#ed272a"/>
<rect x="478.6" y="315.6" width="3.3" height="3.3" fill="#ed2427"/>
<rect x="481.6" y="315.6" width="9.3" height="3.3" fill="#ed2424"/>
<rect x="394.6" y="318.6" width="9.3" height="3.3" fill="#fff3f3"/>
<rect x="403.6" y="318.6" width="3.3" height="3.3" fill="#fceded"/>
<rect x="406.6" y="318.6" width="3.3" height="3.3" fill="#fce7e7"/>
<rect x="409.6" y="318.6" width="3.3" height="3.3" fill="#fcdede"/>
<rect x="412.6" y="318.6" width="3.3" height="3.3" fill="#fcd2d5"/>
<rect x="415.6" y="318.6" width="3.3" height="3.3" fill="#f9c9c9"/>
<rect x="418.6" y="318.6" width="3.3" height="3.3" fill="#f9bdbd"/>
<rect x="421.6" y="318.6" width="3.3" height="3.3" fill="#f9b1b4"/>
<rect x="424.6" y="318.6" width="3.3" height="3.3" fill="#f9a8a8"/>
<rect x="427.6" y="318.6" width="3.3" height="3.3" fill="#f69c9c"/>
<rect x="430.6" y="318.6" width="3.3" height="3.3" fill="#f69393"/>
<rect x="433.6" y="318.6" width="3.3" height="3.3" fill="#f6878a"/>
<rect x="436.6" y="318.6" width="3.3" height="3.3" fill="#f37e7e"/>
<rect x="439.6" y="318.6" width="3.3" height="3.3" fill="#f37578"/>
<rect x="442.6" y="318.6" width="3.3" height="3.3" fill="#f36c6f"/>
<rect x="445.6" y="318.6" width="3.3" height="3.3" fill="#f36666"/>
<rect x="448.6" y="318.6" width="3.3" height="3.3" fill="#f35d60"/>
<rect x="451.6" y="318.6" width="3.3" height="3.3" fill="#f05757"/>
<rect x="454.6" y="318.6" width="3.3" height="3.3" fill="#f05151"/>
<rect x="457.6" y="318.6" width="3.3" height="3.3" fill="#f04b4b"/>
<rect x="460.6" y="318.6" width="3.3" height="3.3" fill="#f04548"/>
<rect x="463.6" y="318.6" width="3.3" height="3.3" fill="#f04242"/>
<rect x="466.6" y="318.6" width="3.3" height="3.3" fill="#f03c3f"/>
<rect x="469.6" y="318.6" width="3.3" height="3.3" fill="#f03939"/>
<rect x="472.6" y="318.6" width="3.3" height="3.3" fill="#ed3636"/>
<rect x="475.6" y="318.6" width="3.3" height="3.3" fill="#ed3033"/>
<rect x="478.6" y="318.6" width="3.3" height="3.3" fill="#ed2d30"/>
<rect x="481.6" y="318.6" width="3.3" height="3.3" fill="#ed2d2d"/>
<rect x="484.6" y="318.6" width="6.3" height="3.3" fill="#ed2a2d"/>
<rect x="394.6" y="321.6" width="6.3" height="3.3" fill="#fff6f6"/>
<rect x="400.6" y="321.6" width="3.3" height="3.3" fill="#fff3f3"/>
<rect x="403.6" y="321.6" width="3.3" height="3.3" fill="#fff0f0"/>
<rect x="406.6" y="321.6" width="3.3" height="3.3" fill="#fceded"/>
<rect x="409.6" y="321.6" width="3.3" height="3.3" fill="#fce4e7"/>
<rect x="412.6" y="321.6" width="3.3" height="3.3" fill="#fcdede"/>
<rect x="415.6" y="321.6" width="3.3" height="3.3" fill="#fcd5d5"/>
<rect x="418.6" y="321.6" width="3.3" height="3.3" fill="#fccccc"/>
<rect x="421.6" y="321.6" width="3.3" height="3.3" fill="#f9c3c3"/>
<rect x="424.6" y="321.6" width="3.3" height="3.3" fill="#f9baba"/>
<rect x="427.6" y="321.6" width="3.3" height="3.3" fill="#f9b1b1"/>
<rect x="430.6" y="321.6" width="3.3" height="3.3" fill="#f9a8a8"/>
<rect x="433.6" y="321.6" width="3.3" height="3.3" fill="#f69c9f"/>
<rect x="436.6" y="321.6" width="3.3" height="3.3" fill="#f69396"/>
<rect x="439.6" y="321.6" width="3.3" height="3.3" fill="#f68a8d"/>
<rect x="442.6" y="321.6" width="3.3" height="3.3" fill="#f68184"/>
<rect x="445.6" y="321.6" width="3.3" height="3.3" fill="#f3787b"/>
<rect x="448.6" y="321.6" width="3.3" height="3.3" fill="#f37272"/>
<rect x="451.6" y="321.6" width="3.3" height="3.3" fill="#f3696c"/>
<rect x="454.6" y="321.6" width="3.3" height="3.3" fill="#f36363"/>
<rect x="457.6" y="321.6" width="3.3" height="3.3" fill="#f05d5d"/>
<rect x="460.6" y="321.6" width="3.3" height="3.3" fill="#f05757"/>
<rect x="463.6" y="321.6" width="3.3" height="3.3" fill="#f05151"/>
<rect x="466.6" y="321.6" width="3.3" height="3.3" fill="#f04b4e"/>
<rect x="469.6" y="321.6" width="3.3" height="3.3" fill="#f04548"/>
<rect x="472.6" y="321.6" width="3.3" height="3.3" fill="#f04245"/>
<rect x="475.6" y="321.6" width="3.3" height="3.3" fill="#f03f3f"/>
<rect x="478.6" y="321.6" width="3.3" height="3.3" fill="#f0393c"/>
<rect x="481.6" y="321.6" width="9.3" height="3.3" fill="#ed3639"/>
<rect x="394.6" y="324.6" width="6.3" height="3.3" fill="#fff6f6"/>
<rect x="400.6" y="324.6" width="3.3" height="3.3" fill="#fff3f3"/>
<rect x="403.6" y="324.6" width="3.3" height="3.3" fill="#fff0f0"/>
<rect x="406.6" y="324.6" width="3.3" height="3.3" fill="#ffeded"/>
<rect x="409.6" y="324.6" width="3.3" height="3.3" fill="#fceaea"/>
<rect x="412.6" y="324.6" width="3.3" height="3.3" fill="#fce4e4"/>
<rect x="415.6" y="324.6" width="3.3" height="3.3" fill="#fcdede"/>
<rect x="418.6" y="324.6" width="3.3" height="3.3" fill="#fcd8d8"/>
<rect x="421.6" y="324.6" width="3.3" height="3.3" fill="#fccfcf"/>
<rect x="424.6" y="324.6" width="3.3" height="3.3" fill="#f9c9c9"/>
<rect x="427.6" y="324.6" width="3.3" height="3.3" fill="#f9c0c0"/>
<rect x="430.6" y="324.6" width="3.3" height="3.3" fill="#f9baba"/>
<rect x="433.6" y="324.6" width="3.3" height="3.3" fill="#f9b1b1"/>
<rect x="436.6" y="324.6" width="3.3" height="3.3" fill="#f9a8a8"/>
<rect x="439.6" y="324.6" width="3.3" height="3.3" fill="#f69f9f"/>
<rect x="442.6" y="324.6" width="3.3" height="3.3" fill="#f69699"/>
<rect x="445.6" y="324.6" width="3.3" height="3.3" fill="#f68d90"/>
<rect x="448.6" y="324.6" width="3.3" height="3.3" fill="#f68787"/>
<rect x="451.6" y="324.6" width="3.3" height="3.3" fill="#f37e7e"/>
<rect x="454.6" y="324.6" width="3.3" height="3.3" fill="#f37578"/>
<rect x="457.6" y="324.6" width="3.3" height="3.3" fill="#f36f72"/>
<rect x="460.6" y="324.6" width="3.3" height="3.3" fill="#f36969"/>
<rect x="463.6" y="324.6" width="3.3" height="3.3" fill="#f36363"/>
<rect x="466.6" y="324.6" width="3.3" height="3.3" fill="#f05d5d"/>
<rect x="469.6" y="324.6" width="3.3" height="3.3" fill="#f05757"/>
<rect x="472.6" y="324.6" width="3.3" height="3.3" fill="#f05154"/>
<rect x="475.6" y="324.6" width="3.3" height="3.3" fill="#f04e4e"/>
<rect x="478.6" y="324.6" width="3.3" height="3.3" fill="#f0484b"/>
<rect x="481.6" y="324.6" width="9.3" height="3.3" fill="#f04545"/>
<rect x="394.6" y="327.6" width="9.3" height="3.3" fill="#fff3f3"/>
<rect x="403.6" y="327.6" width="3.3" height="3.3" fill="#fff0f0"/>
<rect x="406.6" y="327.6" width="3.3" height="3.3" fill="#fceded"/>
<rect x="409.6" y="327.6" width="3.3" height="3.3" fill="#fceaea"/>
<rect x="412.6" y="327.6" width="3.3" height="3.3" fill="#fce4e4"/>
<rect x="415.6" y="327.6" width="3.3" height="3.3" fill="#fce1e1"/>
<rect x="418.6" y="327.6" width="3.3" height="3.3" fill="#fcdbdb"/>
<rect x="421.6" y="327.6" width="3.3" height="3.3" fill="#fcd8d8"/>
<rect x="424.6" y="327.6" width="3.3" height="3.3" fill="#fcd2d2"/>
<rect x="427.6" y="327.6" width="3.3" height="3.3" fill="#fccccc"/>
<rect x="430.6" y="327.6" width="3.3" height="3.3" fill="#f9c6c9"/>
<rect x="433.6" y="327.6" width="3.3" height="3.3" fill="#f9c0c0"/>
<rect x="436.6" y="327.6" width="3.3" height="3.3" fill="#f9baba"/>
<rect x="439.6" y="327.6" width="3.3" height="3.3" fill="#f9b1b4"/>
<rect x="442.6" y="327.6" width="3.3" height="3.3" fill="#f9abab"/>
<rect x="445.6" y="327.6" width="3.3" height="3.3" fill="#f6a2a2"/>
<rect x="448.6" y="327.6" width="3.3" height="3.3" fill="#f6999c"/>
<rect x="451.6" y="327.6" width="3.3" height="3.3" fill="#f69393"/>
<rect x="454.6" y="327.6" width="3.3" height="3.3" fill="#f68a8a"/>
<rect x="457.6" y="327.6" width="3.3" height="3.3" fill="#f68484"/>
<rect x="460.6" y="327.6" width="3.3" height="3.3" fill="#f37b7e"/>
<rect x="463.6" y="327.6" width="3.3" height="3.3" fill="#f37575"/>
<rect x="466.6" y="327.6" width="3.3" height="3.3" fill="#f36f6f"/>
<rect x="469.6" y="327.6" width="3.3" height="3.3" fill="#f36969"/>
<rect x="472.6" y="327.6" width="3.3" height="3.3" fill="#f36363"/>
<rect x="475.6" y="327.6" width="3.3" height="3.3" fill="#f35d5d"/>
<rect x="478.6" y="327.6" width="3.3" height="3.3" fill="#f0575a"/>
<rect x="481.6" y="327.6" width="9.3" height="3.3" fill="#f05454"/>
<rect x="394.6" y="330.6" width="6.3" height="3.3" fill="#fff3f3"/>
<rect x="400.6" y="330.6" width="3.3" height="3.3" fill="#fff0f0"/>
<rect x="403.6" y="330.6" width="3.3" height="3.3" fill="#ffeded"/>
<rect x="406.6" y="330.6" width="3.3" height="3.3" fill="#fceaea"/>
<rect x="409.6" y="330.6" width="3.3" height="3.3" fill="#fce7e7"/>
<rect x="412.6" y="330.6" width="3.3" height="3.3" fill="#fce1e1"/>
<rect x="415.6" y="330.6" width="3.3" height="3.3" fill="#fcdede"/>
<rect x="418.6" y="330.6" width="3.3" height="3.3" fill="#fcdbdb"/>
<rect x="421.6" y="330.6" width="3.3" height="3.3" fill="#fcd8db"/>
<rect x="424.6" y="330.6" width="3.3" height="3.3" fill="#fcd8d8"/>
<rect x="427.6" y="330.6" width="3.3" height="3.3" fill="#fcd5d5"/>
<rect x="430.6" y="330.6" width="3.3" height="3.3" fill="#fcd2d2"/>
<rect x="433.6" y="330.6" width="3.3" height="3.3" fill="#fccccf"/>
<rect x="436.6" y="330.6" width="3.3" height="3.3" fill="#f9c9c9"/>
<rect x="439.6" y="330.6" width="3.3" height="3.3" fill="#f9c3c3"/>
<rect x="442.6" y="330.6" width="3.3" height="3.3" fill="#f9bdbd"/>
<rect x="445.6" y="330.6" width="3.3" height="3.3" fill="#f9b4b4"/>
<rect x="448.6" y="330.6" width="3.3" height="3.3" fill="#f9aeae"/>
<rect x="451.6" y="330.6" width="3.3" height="3.3" fill="#f9a5a5"/>
<rect x="454.6" y="330.6" width="3.3" height="3.3" fill="#f69f9f"/>
<rect x="457.6" y="330.6" width="3.3" height="3.3" fill="#f69696"/>
<rect x="460.6" y="330.6" width="3.3" height="3.3" fill="#f69090"/>
<rect x="463.6" y="330.6" width="3.3" height="3.3" fill="#f6878a"/>
<rect x="466.6" y="330.6" width="3.3" height="3.3" fill="#f68181"/>
<rect x="469.6" y="330.6" width="3.3" height="3.3" fill="#f37b7b"/>
<rect x="472.6" y="330.6" width="3.3" height="3.3" fill="#f37575"/>
<rect x="475.6" y="330.6" width="3.3" height="3.3" fill="#f36f6f"/>
<rect x="478.6" y="330.6" width="3.3" height="3.3" fill="#f36969"/>
<rect x="481.6" y="330.6" width="3.3" height="3.3" fill="#f36366"/>
<rect x="484.6" y="330.6" width="6.3" height="3.3" fill="#f36363"/>
<rect x="394.6" y="333.6" width="6.3" height="3.3" fill="#fff0f0"/>
<rect x="400.6" y="333.6" width="3.3" height="3.3" fill="#ffeded"/>
<rect x="403.6" y="333.6" width="3.3" height="3.3" fill="#fceaea"/>
<rect x="406.6" y="333.6" width="3.3" height="3.3" fill="#fce7e7"/>
<rect x="409.6" y="333.6" width="3.3" height="3.3" fill="#fce1e1"/>
<rect x="412.6" y="333.6" width="3.3" height="3.3" fill="#fcdede"/>
<rect x="415.6" y="333.6" width="3.3" height="3.3" fill="#fcdbdb"/>
<rect x="418.6" y="333.6" width="18.3" height="3.3" fill="#fcd8d8"/>
<rect x="436.6" y="333.6" width="3.3" height="3.3" fill="#fcd5d5"/>
<rect x="439.6" y="333.6" width="3.3" height="3.3" fill="#fccfcf"/>
<rect x="442.6" y="333.6" width="3.3" height="3.3" fill="#fccccc"/>
<rect x="445.6" y="333.6" width="3.3" height="3.3" fill="#f9c3c6"/>
<rect x="448.6" y="333.6" width="3.3" height="3.3" fill="#f9bdbd"/>
<rect x="451.6" y="333.6" width="3.3" height="3.3" fill="#f9b7b7"/>
<rect x="454.6" y="333.6" width="3.3" height="3.3" fill="#f9aeb1"/>
<rect x="457.6" y="333.6" width="3.3" height="3.3" fill="#f9a8a8"/>
<rect x="460.6" y="333.6" width="3.3" height="3.3" fill="#f6a2a2"/>
<rect x="463.6" y="333.6" width="3.3" height="3.3" fill="#f6999c"/>
<rect x="466.6" y="333.6" width="3.3" height="3.3" fill="#f69393"/>
<rect x="469.6" y="333.6" width="3.3" height="3.3" fill="#f68d8d"/>
<rect x="472.6" y="333.6" width="3.3" height="3.3" fill="#f68787"/>
<rect x="475.6" y="333.6" width="3.3" height="3.3" fill="#f37e81"/>
<rect x="478.6" y="333.6" width="3.3" height="3.3" fill="#f37b7b"/>
<rect x="481.6" y="333.6" width="3.3" height="3.3" fill="#f37575"/>
<rect x="484.6" y="333.6" width="6.3" height="3.3" fill="#f37275"/>
<rect x="394.6" y="336.6" width="6.3" height="3.3" fill="#ffeded"/>
<rect x="400.6" y="336.6" width="3.3" height="3.3" fill="#fceded"/>
<rect x="403.6" y="336.6" width="3.3" height="3.3" fill="#fce7e7"/>
<rect x="406.6" y="336.6" width="3.3" height="3.3" fill="#fce1e1"/>
<rect x="409.6" y="336.6" width="3.3" height="3.3" fill="#fcdbde"/>
<rect x="412.6" y="336.6" width="3.3" height="3.3" fill="#fcd8d8"/>
<rect x="415.6" y="336.6" width="9.3" height="3.3" fill="#fcd5d5"/>
<rect x="424.6" y="336.6" width="3.3" height="3.3" fill="#fcd8d8"/>
<rect x="427.6" y="336.6" width="6.3" height="3.3" fill="#fcdbdb"/>
<rect x="433.6" y="336.6" width="3.3" height="3.3" fill="#fcdede"/>
<rect x="436.6" y="336.6" width="6.3" height="3.3" fill="#fcdbdb"/>
<rect x="442.6" y="336.6" width="3.3" height="3.3" fill="#fcd8d8"/>
<rect x="445.6" y="336.6" width="3.3" height="3.3" fill="#fcd2d2"/>
<rect x="448.6" y="336.6" width="3.3" height="3.3" fill="#fccccc"/>
<rect x="451.6" y="336.6" width="3.3" height="3.3" fill="#f9c6c6"/>
<rect x="454.6" y="336.6" width="3.3" height="3.3" fill="#f9c0c0"/>
<rect x="457.6" y="336.6" width="3.3" height="3.3" fill="#f9baba"/>
<rect x="460.6" y="336.6" width="3.3" height="3.3" fill="#f9b1b1"/>
<rect x="463.6" y="336.6" width="3.3" height="3.3" fill="#f9abab"/>
<rect x="466.6" y="336.6" width="3.3" height="3.3" fill="#f6a5a5"/>
<rect x="469.6" y="336.6" width="3.3" height="3.3" fill="#f69c9f"/>
<rect x="472.6" y="336.6" width="3.3" height="3.3" fill="#f69699"/>
<rect x="475.6" y="336.6" width="3.3" height="3.3" fill="#f69090"/>
<rect x="478.6" y="336.6" width="3.3" height="3.3" fill="#f68a8a"/>
<rect x="481.6" y="336.6" width="3.3" height="3.3" fill="#f68487"/>
<rect x="484.6" y="336.6" width="6.3" height="3.3" fill="#f68484"/>
<rect x="394.6" y="339.6" width="6.3" height="3.3" fill="#fceded"/>
<rect x="400.6" y="339.6" width="3.3" height="3.3" fill="#fceaea"/>
<rect x="403.6" y="339.6" width="3.3" height="3.3" fill="#fce4e4"/>
<rect x="406.6" y="339.6" width="3.3" height="3.3" fill="#fcdede"/>
<rect x="409.6" y="339.6" width="3.3" height="3.3" fill="#fcd8d8"/>
<rect x="412.6" y="339.6" width="3.3" height="3.3" fill="#fcd5d5"/>
<rect x="415.6" y="339.6" width="3.3" height="3.3" fill="#fcd2d2"/>
<rect x="418.6" y="339.6" width="3.3" height="3.3" fill="#fccfd2"/>
<rect x="421.6" y="339.6" width="3.3" height="3.3" fill="#fcd2d2"/>
<rect x="424.6" y="339.6" width="3.3" height="3.3" fill="#fcd5d5"/>
<rect x="427.6" y="339.6" width="3.3" height="3.3" fill="#fcd8db"/>
<rect x="430.6" y="339.6" width="3.3" height="3.3" fill="#fcdede"/>
<rect x="433.6" y="339.6" width="12.3" height="3.3" fill="#fce1e1"/>
<rect x="445.6" y="339.6" width="3.3" height="3.3" fill="#fcdede"/>
<rect x="448.6" y="339.6" width="3.3" height="3.3" fill="#fcd8d8"/>
<rect x="451.6" y="339.6" width="3.3" height="3.3" fill="#fcd2d2"/>
<rect x="454.6" y="339.6" width="3.3" height="3.3" fill="#fccccf"/>
<rect x="457.6" y="339.6" width="3.3" height="3.3" fill="#f9c6c6"/>
<rect x="460.6" y="339.6" width="3.3" height="3.3" fill="#f9c0c0"/>
<rect x="463.6" y="339.6" width="3.3" height="3.3" fill="#f9baba"/>
<rect x="466.6" y="339.6" width="3.3" height="3.3" fill="#f9b4b4"/>
<rect x="469.6" y="339.6" width="3.3" height="3.3" fill="#f9aeae"/>
<rect x="472.6" y="339.6" width="3.3" height="3.3" fill="#f9a8a8"/>
<rect x="475.6" y="339.6" width="3.3" height="3.3" fill="#f6a2a2"/>
<rect x="478.6" y="339.6" width="3.3" height="3.3" fill="#f69c9c"/>
<rect x="481.6" y="339.6" width="3.3" height="3.3" fill="#f69696"/>
<rect x="484.6" y="339.6" width="6.3" height="3.3" fill="#f69396"/>
<rect x="394.6" y="342.6" width="6.3" height="3.3" fill="#fceded"/>
<rect x="400.6" y="342.6" width="3.3" height="3.3" fill="#fceaea"/>
<rect x="403.6" y="342.6" width="3.3" height="3.3" fill="#fce4e4"/>
<rect x="406.6" y="342.6" width="3.3" height="3.3" fill="#fcdbde"/>
<rect x="409.6" y="342.6" width="3.3" height="3.3" fill="#fcd5d5"/>
<rect x="412.6" y="342.6" width="3.3" height="3.3" fill="#fcd2d2"/>
<rect x="415.6" y="342.6" width="9.3" height="3.3" fill="#fccfcf"/>
<rect x="424.6" y="342.6" width="3.3" height="3.3" fill="#fcd5d5"/>
<rect x="427.6" y="342.6" width="3.3" height="3.3" fill="#fcd8db"/>
<rect x="430.6" y="342.6" width="3.3" height="3.3" fill="#fcdede"/>
<rect x="433.6" y="342.6" width="3.3" height="3.3" fill="#fce4e4"/>
<rect x="436.6" y="342.6" width="9.3" height="3.3" fill="#fce7e7"/>
<rect x="445.6" y="342.6" width="3.3" height="3.3" fill="#fce4e4"/>
<rect x="448.6" y="342.6" width="3.3" height="3.3" fill="#fce1e1"/>
<rect x="451.6" y="342.6" width="3.3" height="3.3" fill="#fcdede"/>
<rect x="454.6" y="342.6" width="3.3" height="3.3" fill="#fcd8d8"/>
<rect x="457.6" y="342.6" width="3.3" height="3.3" fill="#fcd2d5"/>
<rect x="460.6" y="342.6" width="3.3" height="3.3" fill="#fccfcf"/>
<rect x="463.6" y="342.6" width="3.3" height="3.3" fill="#f9c9c9"/>
<rect x="466.6" y="342.6" width="3.3" height="3.3" fill="#f9c3c3"/>
<rect x="469.6" y="342.6" width="3.3" height="3.3" fill="#f9bdbd"/>
<rect x="472.6" y="342.6" width="3.3" height="3.3" fill="#f9b7b7"/>
<rect x="475.6" y="342.6" width="3.3" height="3.3" fill="#f9b1b1"/>
<rect x="478.6" y="342.6" width="3.3" height="3.3" fill="#f9abab"/>
<rect x="481.6" y="342.6" width="9.3" height="3.3" fill="#f6a5a5"/>
<rect x="394.6" y="345.6" width="6.3" height="3.3" fill="#fceded"/>
<rect x="400.6" y="345.6" width="3.3" height="3.3" fill="#fceaea"/>
<rect x="403.6" y="345.6" width="3.3" height="3.3" fill="#fce4e4"/>
<rect x="406.6" y="345.6" width="3.3" height="3.3" fill="#fcdbde"/>
<rect x="409.6" y="345.6" width="3.3" height="3.3" fill="#fcd5d5"/>
<rect x="412.6" y="345.6" width="3.3" height="3.3" fill="#fcd2d2"/>
<rect x="415.6" y="345.6" width="6.3" height="3.3" fill="#fccfcf"/>
<rect x="421.6" y="345.6" width="3.3" height="3.3" fill="#fccfd2"/>
<rect x="424.6" y="345.6" width="3.3" height="3.3" fill="#fcd5d5"/>
<rect x="427.6" y="345.6" width="3.3" height="3.3" fill="#fcdbdb"/>
<rect x="430.6" y="345.6" width="3.3" height="3.3" fill="#fce1e1"/>
<rect x="433.6" y="345.6" width="3.3" height="3.3" fill="#fce7e7"/>
<rect x="436.6" y="345.6" width="3.3" height="3.3" fill="#fceaea"/>
<rect x="439.6" y="345.6" width="9.3" height="3.3" fill="#fceded"/>
<rect x="448.6" y="345.6" width="3.3" height="3.3" fill="#fceaea"/>
<rect x="451.6" y="345.6" width="3.3" height="3.3" fill="#fce7e7"/>
<rect x="454.6" y="345.6" width="3.3" height="3.3" fill="#fce1e1"/>
<rect x="457.6" y="345.6" width="3.3" height="3.3" fill="#fcdede"/>
<rect x="460.6" y="345.6" width="3.3" height="3.3" fill="#fcd8d8"/>
<rect x="463.6" y="345.6" width="3.3" height="3.3" fill="#fcd5d5"/>
<rect x="466.6" y="345.6" width="3.3" height="3.3" fill="#fccfcf"/>
<rect x="469.6" y="345.6" width="3.3" height="3.3" fill="#fcc9c9"/>
<rect x="472.6" y="345.6" width="3.3" height="3.3" fill="#f9c3c3"/>
<rect x="475.6" y="345.6" width="3.3" height="3.3" fill="#f9bdbd"/>
<rect x="478.6" y="345.6" width="3.3" height="3.3" fill="#f9b7ba"/>
<rect x="481.6" y="345.6" width="9.3" height="3.3" fill="#f9b1b4"/>
<rect x="394.6" y="348.6" width="6.3" height="3.3" fill="#ffeded"/>
<rect x="400.6" y="348.6" width="3.3" height="3.3" fill="#fceaea"/>
<rect x="403.6" y="348.6" width="3.3" height="3.3" fill="#fce4e4"/>
<rect x="406.6" y="348.6" width="3.3" height="3.3" fill="#fcdede"/>
<rect x="409.6" y="348.6" width="3.3" height="3.3" fill="#fcd8d8"/>
<rect x="412.6" y="348.6" width="3.3" height="3.3" fill="#fcd2d5"/>
<rect x="415.6" y="348.6" width="9.3" height="3.3" fill="#fcd2d2"/>
<rect x="424.6" y="348.6" width="3.3" height="3.3" fill="#fcd8d8"/>
<rect x="427.6" y="348.6" width="3.3" height="3.3" fill="#fcdede"/>
<rect x="430.6" y="348.6" width="3.3" height="3.3" fill="#fce4e4"/>
<rect x="433.6" y="348.6" width="3.3" height="3.3" fill="#fce7ea"/>
<rect x="436.6" y="348.6" width="3.3" height="3.3" fill="#fceded"/>
<rect x="439.6" y="348.6" width="12.3" height="3.3" fill="#fff0f0"/>
<rect x="451.6" y="348.6" width="3.3" height="3.3" fill="#fceded"/>
<rect x="454.6" y="348.6" width="3.3" height="3.3" fill="#fceaea"/>
<rect x="457.6" y="348.6" width="3.3" height="3.3" fill="#fce7e7"/>
<rect x="460.6" y="348.6" width="3.3" height="3.3" fill="#fce1e1"/>
<rect x="463.6" y="348.6" width="3.3" height="3.3" fill="#fcdede"/>
<rect x="466.6" y="348.6" width="3.3" height="3.3" fill="#fcd8d8"/>
<rect x="469.6" y="348.6" width="3.3" height="3.3" fill="#fcd5d5"/>
<rect x="472.6" y="348.6" width="3.3" height="3.3" fill="#fccfcf"/>
<rect x="475.6" y="348.6" width="3.3" height="3.3" fill="#fcc9c9"/>
<rect x="478.6" y="348.6" width="3.3" height="3.3" fill="#f9c6c6"/>
<rect x="481.6" y="348.6" width="9.3" height="3.3" fill="#f9c0c0"/>
<rect x="394.6" y="351.6" width="6.3" height="3.3" fill="#fff0f0"/>
<rect x="400.6" y="351.6" width="3.3" height="3.3" fill="#ffeded"/>
<rect x="403.6" y="351.6" width="3.3" height="3.3" fill="#fce7e7"/>
<rect x="406.6" y="351.6" width="3.3" height="3.3" fill="#fce1e1"/>
<rect x="409.6" y="351.6" width="3.3" height="3.3" fill="#fcdede"/>
<rect x="412.6" y="351.6" width="3.3" height="3.3" fill="#fcd8d8"/>
<rect x="415.6" y="351.6" width="6.3" height="3.3" fill="#fcd5d5"/>
<rect x="421.6" y="351.6" width="3.3" height="3.3" fill="#fcd8d8"/>
<rect x="424.6" y="351.6" width="3.3" height="3.3" fill="#fcdbdb"/>
<rect x="427.6" y="351.6" width="3.3" height="3.3" fill="#fce1e1"/>
<rect x="430.6" y="351.6" width="3.3" height="3.3" fill="#fce7e7"/>
<rect x="433.6" y="351.6" width="3.3" height="3.3" fill="#fceded"/>
<rect x="436.6" y="351.6" width="3.3" height="3.3" fill="#fff0f0"/>
<rect x="439.6" y="351.6" width="15.3" height="3.3" fill="#fff3f3"/>
<rect x="454.6" y="351.6" width="3.3" height="3.3" fill="#fff0f0"/>
<rect x="457.6" y="351.6" width="3.3" height="3.3" fill="#fceded"/>
<rect x="460.6" y="351.6" width="3.3" height="3.3" fill="#fceaea"/>
<rect x="463.6" y="351.6" width="3.3" height="3.3" fill="#fce4e7"/>
<rect x="466.6" y="351.6" width="3.3" height="3.3" fill="#fce1e1"/>
<rect x="469.6" y="351.6" width="3.3" height="3.3" fill="#fcdede"/>
<rect x="472.6" y="351.6" width="3.3" height="3.3" fill="#fcd8d8"/>
<rect x="475.6" y="351.6" width="3.3" height="3.3" fill="#fcd5d5"/>
<rect x="478.6" y="351.6" width="3.3" height="3.3" fill="#fccfcf"/>
<rect x="481.6" y="351.6" width="3.3" height="3.3" fill="#fccccc"/>
<rect x="484.6" y="351.6" width="6.3" height="3.3" fill="#fcc9cc"/>
<rect x="394.6" y="354.6" width="6.3" height="3.3" fill="#fff3f3"/>
<rect x="400.6" y="354.6" width="3.3" height="3.3" fill="#fff0f0"/>
<rect x="403.6" y="354.6" width="3.3" height="3.3" fill="#fceaed"/>
<rect x="406.6" y="354.6" width="3.3" height="3.3" fill="#fce7e7"/>
<rect x="409.6" y="354.6" width="3.3" height="3.3" fill="#fce1e1"/>
<rect x="412.6" y="354.6" width="6.3" height="3.3" fill="#fcdede"/>
<rect x="418.6" y="354.6" width="3.3" height="3.3" fill="#fcdbde"/>
<rect x="421.6" y="354.6" width="3.3" height="3.3" fill="#fcdede"/>
<rect x="424.6" y="354.6" width="3.3" height="3.3" fill="#fce1e1"/>
<rect x="427.6" y="354.6" width="3.3" height="3.3" fill="#fce7e7"/>
<rect x="430.6" y="354.6" width="3.3" height="3.3" fill="#fceaea"/>
<rect x="433.6" y="354.6" width="3.3" height="3.3" fill="#fff0f0"/>
<rect x="436.6" y="354.6" width="3.3" height="3.3" fill="#fff3f3"/>
<rect x="439.6" y="354.6" width="15.3" height="3.3" fill="#fff6f6"/>
<rect x="454.6" y="354.6" width="3.3" height="3.3" fill="#fff3f3"/>
<rect x="457.6" y="354.6" width="6.3" height="3.3" fill="#fff0f0"/>
<rect x="463.6" y="354.6" width="3.3" height="3.3" fill="#fceded"/>
<rect x="466.6" y="354.6" width="3.3" height="3.3" fill="#fceaea"/>
<rect x="469.6" y="354.6" width="3.3" height="3.3" fill="#fce4e4"/>
<rect x="472.6" y="354.6" width="3.3" height="3.3" fill="#fce1e1"/>
<rect x="475.6" y="354.6" width="3.3" height="3.3" fill="#fcdede"/>
<rect x="478.6" y="354.6" width="3.3" height="3.3" fill="#fcd8db"/>
<rect x="481.6" y="354.6" width="9.3" height="3.3" fill="#fcd5d5"/>
<rect x="394.6" y="357.6" width="6.3" height="3.3" fill="#fff6f6"/>
<rect x="400.6" y="357.6" width="3.3" height="3.3" fill="#fff3f3"/>
<rect x="403.6" y="357.6" width="3.3" height="3.3" fill="#fff0f0"/>
<rect x="406.6" y="357.6" width="3.3" height="3.3" fill="#fceded"/>
<rect x="409.6" y="357.6" width="6.3" height="3.3" fill="#fce7e7"/>
<rect x="415.6" y="357.6" width="9.3" height="3.3" fill="#fce4e4"/>
<rect x="424.6" y="357.6" width="3.3" height="3.3" fill="#fce7e7"/>
<rect x="427.6" y="357.6" width="3.3" height="3.3" fill="#fceaea"/>
<rect x="430.6" y="357.6" width="3.3" height="3.3" fill="#fff0f0"/>
<rect x="433.6" y="357.6" width="3.3" height="3.3" fill="#fff3f3"/>
<rect x="436.6" y="357.6" width="6.3" height="3.3" fill="#fff6f6"/>
<rect x="442.6" y="357.6" width="12.3" height="3.3" fill="#fff9f9"/>
<rect x="454.6" y="357.6" width="6.3" height="3.3" fill="#fff6f6"/>
<rect x="460.6" y="357.6" width="3.3" height="3.3" fill="#fff3f3"/>
<rect x="463.6" y="357.6" width="3.3" height="3.3" fill="#fff0f0"/>
<rect x="466.6" y="357.6" width="3.3" height="3.3" fill="#ffeded"/>
<rect x="469.6" y="357.6" width="3.3" height="3.3" fill="#fceaed"/>
<rect x="472.6" y="357.6" width="3.3" height="3.3" fill="#fce7e7"/>
<rect x="475.6" y="357.6" width="3.3" height="3.3" fill="#fce4e4"/>
<rect x="478.6" y="357.6" width="3.3" height="3.3" fill="#fce1e1"/>
<rect x="481.6" y="357.6" width="9.3" height="3.3" fill="#fcdede"/>
<rect x="394.6" y="360.6" width="9.3" height="3.3" fill="#fff6f6"/>
<rect x="403.6" y="360.6" width="3.3" height="3.3" fill="#fff3f3"/>
<rect x="406.6" y="360.6" width="3.3" height="3.3" fill="#fff0f0"/>
<rect x="409.6" y="360.6" width="3.3" height="3.3" fill="#ffeded"/>
<rect x="412.6" y="360.6" width="3.3" height="3.3" fill="#fceded"/>
<rect x="415.6" y="360.6" width="6.3" height="3.3" fill="#fceaea"/>
<rect x="421.6" y="360.6" width="3.3" height="3.3" fill="#fceded"/>
<rect x="424.6" y="360.6" width="3.3" height="3.3" fill="#ffeded"/>
<rect x="427.6" y="360.6" width="3.3" height="3.3" fill="#fff0f0"/>
<rect x="430.6" y="360.6" width="3.3" height="3.3" fill="#fff3f3"/>
<rect x="433.6" y="360.6" width="3.3" height="3.3" fill="#fff6f6"/>
<rect x="436.6" y="360.6" width="9.3" height="3.3" fill="#fff9f9"/>
<rect x="445.6" y="360.6" width="6.3" height="3.3" fill="#fffcfc"/>
<rect x="451.6" y="360.6" width="9.3" height="3.3" fill="#fff9f9"/>
<rect x="460.6" y="360.6" width="6.3" height="3.3" fill="#fff6f6"/>
<rect x="466.6" y="360.6" width="3.3" height="3.3" fill="#fff3f3"/>
<rect x="469.6" y="360.6" width="3.3" height="3.3" fill="#fff0f0"/>
<rect x="472.6" y="360.6" width="3.3" height="3.3" fill="#ffeded"/>
<rect x="475.6" y="360.6" width="3.3" height="3.3" fill="#fceaea"/>
<rect x="478.6" y="360.6" width="3.3" height="3.3" fill="#fce7e7"/>
<rect x="481.6" y="360.6" width="9.3" height="3.3" fill="#fce4e4"/>
<rect x="394.6" y="363.6" width="9.3" height="3.3" fill="#fff9f9"/>
<rect x="403.6" y="363.6" width="6.3" height="3.3" fill="#fff6f6"/>
<rect x="409.6" y="363.6" width="6.3" height="3.3" fill="#fff3f3"/>
<rect x="415.6" y="363.6" width="6.3" height="3.3" fill="#fff0f0"/>
<rect x="421.6" y="363.6" width="6.3" height="3.3" fill="#fff3f3"/>
<rect x="427.6" y="363.6" width="6.3" height="3.3" fill="#fff6f6"/>
<rect x="433.6" y="363.6" width="6.3" height="3.3" fill="#fff9f9"/>
<rect x="439.6" y="363.6" width="18.3" height="3.3" fill="#fffcfc"/>
<rect x="457.6" y="363.6" width="9.3" height="3.3" fill="#fff9f9"/>
<rect x="466.6" y="363.6" width="3.3" height="3.3" fill="#fff6f6"/>
<rect x="469.6" y="363.6" width="6.3" height="3.3" fill="#fff3f3"/>
<rect x="475.6" y="363.6" width="3.3" height="3.3" fill="#fff0f0"/>
<rect x="478.6" y="363.6" width="3.3" height="3.3" fill="#ffeded"/>
<rect x="481.6" y="363.6" width="9.3" height="3.3" fill="#fceaea"/>
<rect x="394.6" y="366.6" width="9.3" height="3.3" fill="#fffcfc"/>
<rect x="403.6" y="366.6" width="6.3" height="3.3" fill="#fff9f9"/>
<rect x="409.6" y="366.6" width="18.3" height="3.3" fill="#fff6f6"/>
<rect x="427.6" y="366.6" width="6.3" height="3.3" fill="#fff9f9"/>
<rect x="433.6" y="366.6" width="30.3" height="3.3" fill="#fffcfc"/>
<rect x="463.6" y="366.6" width="6.3" height="3.3" fill="#fff9f9"/>
<rect x="469.6" y="366.6" width="3.3" height="3.3" fill="#fff6f9"/>
<rect x="472.6" y="366.6" width="3.3" height="3.3" fill="#fff6f6"/>
<rect x="475.6" y="366.6" width="6.3" height="3.3" fill="#fff3f3"/>
<rect x="481.6" y="366.6" width="9.3" height="3.3" fill="#fff0f0"/>
<rect x="394.6" y="369.6" width="15.3" height="3.3" fill="#fffcfc"/>
<rect x="409.6" y="369.6" width="18.3" height="3.3" fill="#fff9f9"/>
<rect x="427.6" y="369.6" width="15.3" height="3.3" fill="#fffcfc"/>
<rect x="442.6" y="369.6" width="12.3" height="3.3" fill="#ffffff"/>
<rect x="454.6" y="369.6" width="15.3" height="3.3" fill="#fffcfc"/>
<rect x="469.6" y="369.6" width="6.3" height="3.3" fill="#fff9f9"/>
<rect x="475.6" y="369.6" width="6.3" height="3.3" fill="#fff6f6"/>
<rect x="481.6" y="369.6" width="9.3" height="3.3" fill="#fff3f3"/>
<rect x="394.6" y="372.6" width="9.3" height="3.3" fill="#ffffff"/>
<rect x="403.6" y="372.6" width="30.3" height="3.3" fill="#fffcfc"/>
<rect x="433.6" y="372.6" width="30.3" height="3.3" fill="#ffffff"/>
<rect x="463.6" y="372.6" width="12.3" height="3.3" fill="#fffcfc"/>
<rect x="475.6" y="372.6" width="6.3" height="3.3" fill="#fff9f9"/>
<rect x="481.6" y="372.6" width="9.3" height="3.3" fill="#fff6f6"/>
<rect x="394.6" y="375.6" width="15.3" height="3.3" fill="#ffffff"/>
<rect x="409.6" y="375.6" width="18.3" height="3.3" fill="#fffcfc"/>
<rect x="427.6" y="375.6" width="39.3" height="3.3" fill="#ffffff"/>
<rect x="466.6" y="375.6" width="12.3" height="3.3" fill="#fffcfc"/>
<rect x="478.6" y="375.6" width="12.3" height="3.3" fill="#fff9f9"/>
<rect x="394.6" y="378.6" width="15.3" height="3.3" fill="#ffffff"/>
<rect x="409.6" y="378.6" width="18.3" height="3.3" fill="#fffcfc"/>
<rect x="427.6" y="378.6" width="39.3" height="3.3" fill="#ffffff"/>
<rect x="466.6" y="378.6" width="12.3" height="3.3" fill="#fffcfc"/>
<rect x="478.6" y="378.6" width="12.3" height="3.3" fill="#fff9f9"/>
<rect x="394.6" y="381.6" width="15.3" height="3.3" fill="#ffffff"/>
<rect x="409.6" y="381.6" width="18.3" height="3.3" fill="#fffcfc"/>
<rect x="427.6" y="381.6" width="39.3" height="3.3" fill="#ffffff"/>
<rect x="466.6" y="381.6" width="12.3" height="3.3" fill="#fffcfc"/>
<rect x="478.6" y="381.6" width="12.3" height="3.3" fill="#fff9f9"/>
</g>
<polyline points="400.6,289.2 400.8,287.6 401.2,285.6 401.6,284.0 402.0,282.6" fill="none" stroke="#fff" stroke-opacity="0.6" stroke-width="0.6"/>
<polyline points="482.6,357.8 481.6,357.3 480.2,356.6 478.6,355.8 477.6,355.3 476.1,354.6 474.6,353.9 473.6,353.4 472.1,352.6 470.6,351.9 469.6,351.4 468.0,350.6 466.6,349.9 465.6,349.4 464.0,348.6 462.6,347.9 461.6,347.4 460.0,346.6 458.6,345.9 457.6,345.4 456.0,344.6 454.6,343.9 453.6,343.4 451.9,342.6 450.6,342.0 449.6,341.6 447.6,340.7 446.6,340.3 445.0,339.6 443.6,339.1 442.2,338.6 440.6,338.1 438.8,337.6 437.6,337.3 435.6,337.0 433.6,336.8 431.6,337.1 430.6,337.8 430.0,339.6 429.9,341.6 429.8,343.6 429.6,345.0 429.3,346.6 428.6,348.6 428.1,349.6 427.5,350.6 426.6,351.8 425.6,352.8 424.5,353.6 422.6,354.6 421.6,354.9 419.6,355.3 417.6,355.3 415.6,354.8 414.6,354.4 413.1,353.6 411.8,352.6 410.9,351.6 410.2,350.6 409.6,349.4 409.0,347.6 408.8,345.6 409.0,343.6 409.6,341.8 410.2,340.6 410.9,339.6 411.8,338.6 413.0,337.6 414.4,336.6 415.6,335.9 416.6,335.4 418.5,334.6 419.6,334.1 420.6,333.5 421.6,332.6 421.7,330.6 421.2,329.6 420.6,328.6 419.6,327.4 418.6,326.2 417.6,325.2 416.6,324.2 415.6,323.3 414.6,322.4 413.6,321.5 412.5,320.6 411.3,319.6 410.1,318.6 409.0,317.6 407.8,316.6 406.7,315.6 405.7,314.6 404.8,313.6 403.9,312.6 403.2,311.6 402.5,310.6 401.6,308.9 401.1,307.6 400.6,306.1" fill="none" stroke="#fff" stroke-opacity="0.6" stroke-width="0.6"/>
<polyline points="482.6,352.4 480.7,351.6 479.6,351.1 478.5,350.6 476.6,349.7 475.6,349.3 474.2,348.6 472.6,347.9 471.6,347.4 469.8,346.6 468.6,346.0 467.6,345.6 465.6,344.6 464.6,344.2 463.4,343.6 461.6,342.8 460.6,342.3 459.1,341.6 457.6,340.9 456.6,340.4 454.8,339.6 453.6,339.0 452.6,338.6 450.6,337.7 449.6,337.2 448.2,336.6 446.6,335.9 445.6,335.4 443.6,334.6 442.6,334.2 441.3,333.6 439.6,332.9 438.6,332.5 436.6,331.6 435.6,331.2 434.2,330.6 432.6,329.9 431.6,329.4 430.1,328.6 428.6,327.8 427.6,327.2 426.6,326.6 425.0,325.6 423.6,324.7 422.6,324.0 421.6,323.4 420.5,322.6 419.1,321.6 417.6,320.6 416.6,319.9 415.6,319.2 414.6,318.4 413.4,317.6 412.1,316.6 410.8,315.6 409.6,314.6 408.6,313.7 407.6,312.8 406.6,311.8 405.6,310.7 404.8,309.6 404.1,308.6 403.6,307.6 402.7,305.6 402.4,304.6 402.1,302.6 402.0,300.6 402.0,298.6 402.1,296.6 402.3,294.6 402.6,292.8 402.8,291.6 403.3,289.6 403.6,288.5 404.3,286.6 404.7,285.6 405.6,283.9 406.5,282.6" fill="none" stroke="#fff" stroke-opacity="0.6" stroke-width="0.6"/>
<polyline points="482.6,348.3 481.0,347.6 479.6,347.0 478.6,346.6 476.6,345.7 475.6,345.3 474.0,344.6 472.6,344.0 471.6,343.6 469.6,342.7 468.6,342.3 467.1,341.6 465.6,341.0 464.6,340.5 462.6,339.6 461.6,339.2 460.2,338.6 458.6,337.9 457.6,337.4 455.7,336.6 454.6,336.1 453.5,335.6 451.6,334.8 450.6,334.3 448.9,333.6 447.6,333.0 446.6,332.6 444.6,331.7 443.6,331.3 442.0,330.6 440.6,330.0 439.6,329.5 437.6,328.7 436.6,328.2 435.3,327.6 433.6,326.8 432.6,326.3 431.2,325.6 429.6,324.8 428.6,324.3 427.4,323.6 425.6,322.6 424.6,322.0 423.6,321.4 422.2,320.6 420.6,319.6 419.6,319.0 418.6,318.3 417.5,317.6 416.0,316.6 414.6,315.6 413.6,314.9 412.6,314.2 411.6,313.4 410.6,312.5 409.5,311.6 408.5,310.6 407.6,309.6 406.6,308.4 405.6,306.8 405.0,305.6 404.6,304.4 404.2,302.6 404.2,300.6 404.3,298.6 404.5,296.6 404.6,295.6 405.0,293.6 405.6,291.6 406.0,290.6 406.6,289.1 407.4,287.6 408.1,286.6 408.8,285.6 409.7,284.6 410.6,283.6 411.7,282.6" fill="none" stroke="#fff" stroke-opacity="0.6" stroke-width="0.6"/>
<polyline points="482.6,344.8 481.6,344.4 479.7,343.6 478.6,343.2 477.2,342.6 475.6,341.9 474.6,341.5 472.6,340.7 471.6,340.3 469.9,339.6 468.6,339.1 467.4,338.6 465.6,337.8 464.6,337.4 462.6,336.6 461.6,336.2 460.2,335.6 458.6,334.9 457.6,334.5 455.6,333.7 454.6,333.2 453.1,332.6 451.6,332.0 450.6,331.5 448.6,330.7 447.6,330.3 446.0,329.6 444.6,329.0 443.6,328.6 441.6,327.7 440.6,327.3 439.1,326.6 437.6,325.9 436.6,325.5 434.7,324.6 433.6,324.1 432.6,323.6 430.6,322.6 429.6,322.1 428.6,321.6 426.7,320.6 425.6,320.0 424.6,319.4 423.1,318.6 421.6,317.7 420.6,317.1 419.6,316.5 418.2,315.6 416.7,314.6 415.6,313.9 414.6,313.1 413.6,312.4 412.6,311.6 411.5,310.6 410.4,309.6 409.5,308.6 408.6,307.4 407.6,305.8 407.1,304.6 406.6,302.6 406.6,301.6 406.6,300.4 406.7,298.6 407.1,296.6 407.6,294.6 407.9,293.6 408.6,292.0 409.3,290.6 410.0,289.6 410.7,288.6 411.6,287.5 412.6,286.5 413.6,285.6 414.8,284.6 416.1,283.6 417.5,282.6" fill="none" stroke="#fff" stroke-opacity="0.6" stroke-width="0.6"/>
<polyline points="482.6,341.6 481.6,341.2 479.9,340.6 478.6,340.1 477.3,339.6 475.6,338.9 474.6,338.6 472.6,337.8 471.6,337.4 469.6,336.6 468.6,336.2 467.0,335.6 465.6,335.1 464.4,334.6 462.6,333.9 461.6,333.5 459.6,332.7 458.6,332.3 456.9,331.6 455.6,331.1 454.4,330.6 452.6,329.9 451.6,329.4 449.6,328.6 448.6,328.2 447.1,327.6 445.6,327.0 444.6,326.5 442.6,325.7 441.6,325.3 440.0,324.6 438.6,324.0 437.6,323.5 435.6,322.6 434.6,322.2 433.4,321.6 431.6,320.8 430.6,320.3 429.2,319.6 427.6,318.8 426.6,318.2 425.4,317.6 423.6,316.6 422.6,316.0 421.6,315.4 420.3,314.6 418.7,313.6 417.6,312.9 416.6,312.2 415.6,311.4 414.6,310.6 413.4,309.6 412.4,308.6 411.5,307.6 410.6,306.3 409.7,304.6 409.4,303.6 409.2,301.6 409.4,299.6 409.6,298.2 410.0,296.6 410.6,294.9 411.2,293.6 411.8,292.6 412.6,291.4 413.6,290.1 414.6,289.1 415.6,288.1 416.6,287.3 417.6,286.5 418.8,285.6 420.3,284.6 421.6,283.8 422.6,283.1" fill="none" stroke="#fff" stroke-opacity="0.6" stroke-width="0.6"/>
<polyline points="482.6,338.7 481.6,338.3 479.6,337.6 478.6,337.3 476.8,336.6 475.6,336.2 474.1,335.6 472.6,335.1 471.3,334.6 469.6,334.0 468.6,333.6 466.6,332.8 465.6,332.5 463.6,331.7 462.6,331.3 460.7,330.6 459.6,330.2 458.0,329.6 456.6,329.0 455.5,328.6 453.6,327.9 452.6,327.5 450.6,326.7 449.6,326.3 447.9,325.6 446.6,325.1 445.4,324.6 443.6,323.9 442.6,323.5 440.6,322.6 439.6,322.2 438.2,321.6 436.6,320.9 435.6,320.4 433.8,319.6 432.6,319.1 431.6,318.6 429.6,317.6 428.6,317.1 427.6,316.6 425.8,315.6 424.6,314.9 423.6,314.4 422.3,313.6 420.7,312.6 419.6,311.9 418.6,311.2 417.6,310.4 416.6,309.6 415.5,308.6 414.5,307.6 413.6,306.4 412.6,304.6 412.3,303.6 412.2,301.6 412.4,299.6 412.7,298.6 413.3,296.6 413.8,295.6 414.6,294.2 415.6,292.8 416.6,291.7 417.6,290.7 418.6,289.8 419.6,289.0 420.6,288.2 421.6,287.5 422.9,286.6 424.5,285.6 425.6,284.9 426.6,284.3 427.8,283.6 429.5,282.6" fill="none" stroke="#fff" stroke-opacity="0.6" stroke-width="0.6"/>
<polyline points="482.6,335.9 481.6,335.6 479.6,334.9 478.6,334.5 476.6,333.9 475.6,333.5 473.6,332.8 472.6,332.5 470.6,331.8 469.6,331.4 467.6,330.7 466.6,330.4 464.6,329.6 463.6,329.3 461.7,328.6 460.6,328.2 459.0,327.6 457.6,327.1 456.3,326.6 454.6,326.0 453.6,325.6 451.6,324.8 450.6,324.4 448.6,323.7 447.6,323.3 445.9,322.6 444.6,322.1 443.4,321.6 441.6,320.9 440.6,320.4 438.6,319.6 437.6,319.2 436.3,318.6 434.6,317.8 433.6,317.4 432.0,316.6 430.6,315.9 429.6,315.4 428.0,314.6 426.6,313.8 425.6,313.3 424.5,312.6 422.9,311.6 421.6,310.7 420.6,310.0 419.6,309.2 418.6,308.3 417.6,307.3 416.6,305.9 415.9,304.6 415.6,303.2 415.6,301.9 415.8,300.6 416.3,298.6 416.7,297.6 417.6,296.0 418.6,294.6 419.4,293.6 420.4,292.6 421.6,291.6 422.6,290.8 423.6,290.0 424.6,289.3 425.6,288.6 427.2,287.6 428.6,286.7 429.6,286.1 430.6,285.5 432.2,284.6 433.6,283.8 434.6,283.2 435.6,282.6" fill="none" stroke="#fff" stroke-opacity="0.6" stroke-width="0.6"/>
<polyline points="482.6,333.2 480.8,332.6 479.6,332.2 477.7,331.6 476.6,331.2 474.7,330.6 473.6,330.2 471.7,329.6 470.6,329.2 468.7,328.6 467.6,328.2 465.7,327.6 464.6,327.2 462.8,326.6 461.6,326.2 460.0,325.6 458.6,325.1 457.2,324.6 455.6,324.0 454.4,323.6 452.6,322.9 451.6,322.6 449.6,321.8 448.6,321.4 446.6,320.7 445.6,320.3 443.9,319.6 442.6,319.1 441.4,318.6 439.6,317.8 438.6,317.4 436.7,316.6 435.6,316.1 434.6,315.6 432.6,314.7 431.6,314.2 430.5,313.6 428.7,312.6 427.6,312.0 426.6,311.4 425.4,310.6 424.0,309.6 422.7,308.6 421.7,307.6 420.8,306.6 420.1,305.6 419.6,304.2 419.5,302.6 419.6,301.6 420.1,299.6 420.6,298.5 421.6,296.9 422.6,295.6 423.6,294.6 424.6,293.6 425.6,292.8 426.6,292.0 427.6,291.3 428.7,290.6 430.2,289.6 431.6,288.7 432.6,288.1 433.6,287.5 435.2,286.6 436.6,285.8 437.6,285.2 438.7,284.6 440.4,283.6 441.6,282.9" fill="none" stroke="#fff" stroke-opacity="0.6" stroke-width="0.6"/>
<polyline points="482.6,330.4 480.6,329.8 479.6,329.5 477.6,328.9 476.6,328.6 474.6,328.0 473.4,327.6 471.6,327.0 470.3,326.6 468.6,326.1 467.2,325.6 465.6,325.1 464.1,324.6 462.6,324.1 461.1,323.6 459.6,323.1 458.2,322.6 456.6,322.0 455.3,321.6 453.6,321.0 452.5,320.6 450.6,319.9 449.6,319.5 447.6,318.8 446.6,318.4 444.6,317.6 443.6,317.2 442.2,316.6 440.6,315.9 439.6,315.5 437.6,314.6 436.6,314.1 435.5,313.6 433.6,312.7 432.6,312.1 431.6,311.6 430.0,310.6 428.6,309.7 427.6,308.9 426.6,308.1 425.6,307.0 424.6,305.6 424.2,304.6 424.2,302.6 424.6,300.9 425.2,299.6 425.7,298.6 426.6,297.5 427.6,296.4 428.6,295.4 429.6,294.6 430.8,293.6 432.3,292.6 433.6,291.7 434.6,291.1 435.6,290.5 437.1,289.6 438.6,288.7 439.6,288.1 440.6,287.5 442.3,286.6 443.6,285.8 444.6,285.3 445.7,284.6 447.5,283.6 448.6,282.9" fill="none" stroke="#fff" stroke-opacity="0.6" stroke-width="0.6"/>
<polyline points="482.6,327.6 480.6,327.0 479.2,326.6 477.6,326.1 475.8,325.6 474.6,325.2 472.6,324.6 471.6,324.3 469.6,323.7 468.6,323.4 466.6,322.8 465.6,322.5 463.6,321.8 462.6,321.5 460.6,320.9 459.6,320.5 457.6,319.9 456.6,319.5 454.6,318.8 453.6,318.5 451.6,317.7 450.6,317.4 448.6,316.6 447.6,316.2 446.0,315.6 444.6,315.0 443.6,314.6 441.6,313.7 440.6,313.3 439.2,312.6 437.6,311.8 436.6,311.2 435.5,310.6 433.9,309.6 432.6,308.6 431.6,307.7 430.6,306.6 430.1,305.6 429.9,303.6 430.4,301.6 430.8,300.6 431.6,299.4 432.6,298.2 433.6,297.2 434.6,296.3 435.6,295.6 436.9,294.6 438.4,293.6 439.6,292.8 440.6,292.2 441.6,291.6 443.4,290.6 444.6,289.9 445.6,289.3 446.9,288.6 448.6,287.6 449.6,287.1 450.6,286.5 452.2,285.6 453.6,284.8 454.6,284.2 455.7,283.6 457.4,282.6" fill="none" stroke="#fff" stroke-opacity="0.6" stroke-width="0.6"/>
<polyline points="482.6,324.5 480.6,323.9 479.4,323.6 477.6,323.1 475.8,322.6 474.6,322.3 472.6,321.7 471.6,321.4 469.6,320.8 468.6,320.5 466.6,319.9 465.6,319.6 463.6,319.0 462.5,318.6 460.6,318.0 459.4,317.6 457.6,317.0 456.5,316.6 454.6,315.9 453.6,315.6 451.6,314.8 450.6,314.4 448.6,313.6 447.6,313.1 446.4,312.6 444.6,311.8 443.6,311.2 442.4,310.6 440.8,309.6 439.6,308.7 438.6,307.8 437.7,306.6 437.3,305.6 437.5,303.6 437.8,302.6 438.6,301.2 439.6,299.9 440.6,298.9 441.6,298.0 442.6,297.2 443.6,296.4 444.8,295.6 446.4,294.6 447.6,293.9 448.6,293.3 449.8,292.6 451.5,291.6 452.6,291.0 453.6,290.5 455.2,289.6 456.6,288.8 457.6,288.3 458.8,287.6 460.6,286.6 461.6,286.0 462.6,285.5 464.1,284.6 465.6,283.8 466.6,283.2" fill="none" stroke="#fff" stroke-opacity="0.6" stroke-width="0.6"/>
<polyline points="482.6,320.9 481.5,320.6 479.6,320.1 477.8,319.6 476.6,319.3 474.6,318.7 473.6,318.4 471.6,317.9 470.6,317.6 468.6,317.0 467.4,316.6 465.6,316.0 464.3,315.6 462.6,315.0 461.4,314.6 459.6,313.9 458.6,313.6 456.6,312.7 455.6,312.3 454.0,311.6 452.6,310.9 451.6,310.3 450.5,309.6 449.3,308.6 448.4,307.6 448.1,305.6 448.6,303.9 449.3,302.6 450.1,301.6 451.0,300.6 452.1,299.6 453.4,298.6 454.6,297.8 455.6,297.1 456.6,296.5 458.1,295.6 459.6,294.8 460.6,294.2 461.7,293.6 463.5,292.6 464.6,292.0 465.6,291.5 467.3,290.6 468.6,289.9 469.6,289.4 471.1,288.6 472.6,287.8 473.6,287.3 474.8,286.6 476.6,285.6 477.6,285.1 478.6,284.5 480.3,283.6 481.6,282.9" fill="none" stroke="#fff" stroke-opacity="0.6" stroke-width="0.6"/>
</g>
<line x1="402.00" y1="282.60" x2="402.00" y2="376.00" stroke="#222" stroke-width="0.7" stroke-dasharray="0.7 1.1"/>
<line x1="421.70" y1="282.60" x2="421.70" y2="376.00" stroke="#222" stroke-width="0.7" stroke-dasharray="0.7 1.1"/>
<line x1="441.50" y1="282.60" x2="441.50" y2="376.00" stroke="#222" stroke-width="0.7" stroke-dasharray="0.7 1.1"/>
<line x1="461.50" y1="282.60" x2="461.50" y2="376.00" stroke="#222" stroke-width="0.7" stroke-dasharray="0.7 1.1"/>
<line x1="480.80" y1="282.60" x2="480.80" y2="376.00" stroke="#222" stroke-width="0.7" stroke-dasharray="0.7 1.1"/>
<line x1="400.60" y1="283.70" x2="483.30" y2="283.70" stroke="#222" stroke-width="0.7" stroke-dasharray="0.7 1.1"/>
<line x1="400.60" y1="306.70" x2="483.30" y2="306.70" stroke="#222" stroke-width="0.7" stroke-dasharray="0.7 1.1"/>
<line x1="400.60" y1="329.40" x2="483.30" y2="329.40" stroke="#222" stroke-width="0.7" stroke-dasharray="0.7 1.1"/>
<line x1="400.60" y1="352.00" x2="483.30" y2="352.00" stroke="#222" stroke-width="0.7" stroke-dasharray="0.7 1.1"/>
<line x1="400.60" y1="374.60" x2="483.30" y2="374.60" stroke="#222" stroke-width="0.7" stroke-dasharray="0.7 1.1"/>
<rect x="441.5" y="283.7" width="39.30000000000001" height="45.69999999999999" fill="none" stroke="#3a3a8a" stroke-width="0.8" stroke-dasharray="1.2 0.8"/>
<rect x="400.6" y="282.6" width="82.69999999999999" height="93.39999999999998" fill="none" stroke="#000" stroke-width="1.2"/>
<line x1="398.00" y1="283.70" x2="400.60" y2="283.70" stroke="#000" stroke-width="0.9"/>
<line x1="398.00" y1="306.70" x2="400.60" y2="306.70" stroke="#000" stroke-width="0.9"/>
<line x1="398.00" y1="329.40" x2="400.60" y2="329.40" stroke="#000" stroke-width="0.9"/>
<line x1="398.00" y1="352.00" x2="400.60" y2="352.00" stroke="#000" stroke-width="0.9"/>
<line x1="398.00" y1="374.60" x2="400.60" y2="374.60" stroke="#000" stroke-width="0.9"/>
<text x="402.00" y="389.00" font-size="6.4" text-anchor="middle" fill="#231f20" stroke="#231f20" stroke-width="0.12">0</text>
<text x="422.30" y="389.00" font-size="6.4" text-anchor="middle" textLength="10.50" lengthAdjust="spacingAndGlyphs" fill="#231f20" stroke="#231f20" stroke-width="0.12">156</text>
<text x="441.90" y="389.00" font-size="6.4" text-anchor="middle" textLength="10.50" lengthAdjust="spacingAndGlyphs" fill="#231f20" stroke="#231f20" stroke-width="0.12">625</text>
<text x="462.00" y="389.00" font-size="6.4" text-anchor="middle" textLength="13.50" lengthAdjust="spacingAndGlyphs" fill="#231f20" stroke="#231f20" stroke-width="0.12">2500</text>
<text x="481.60" y="389.00" font-size="6.4" text-anchor="middle" textLength="15.50" lengthAdjust="spacingAndGlyphs" fill="#231f20" stroke="#231f20" stroke-width="0.12">10000</text>
<text x="442.20" y="400.50" font-size="7.0" text-anchor="middle" textLength="50.30" lengthAdjust="spacingAndGlyphs" fill="#231f20" stroke="#231f20" stroke-width="0.12">KDM5-inh1 (nM)</text>
<text x="442.1" y="268" font-size="7" stroke="#231f20" stroke-width="0.2" text-anchor="middle" textLength="81.8" lengthAdjust="spacingAndGlyphs">WSU-DLCL2 (<tspan font-style="italic">KMT2D</tspan><tspan font-size="4.5" dy="-2.6">+/+</tspan><tspan dy="2.6">)</tspan></text>
<text x="442.00" y="278.20" font-size="6.2" text-anchor="middle" textLength="75.00" lengthAdjust="spacingAndGlyphs" fill="#231f20" stroke="#231f20" stroke-width="0.05">Loewe synergy score: 16.9</text>
<text x="468.30" y="410.70" font-size="6.2" text-anchor="middle" textLength="20.30" lengthAdjust="spacingAndGlyphs" font-style="italic" fill="#231f20" stroke="#231f20" stroke-width="0.12">δ-score</text>
<rect x="450" y="415.3" width="18.5" height="7.1" rx="1.2" fill="url(#gg)"/>
<rect x="469.5" y="415.3" width="17.5" height="7.1" rx="1.2" fill="url(#rg)"/>
<text x="451.00" y="430.80" font-size="6.4" text-anchor="middle" textLength="8.90" lengthAdjust="spacingAndGlyphs" fill="#231f20" stroke="#231f20" stroke-width="0.12">-40</text>
<text x="486.50" y="430.80" font-size="6.4" text-anchor="middle" textLength="7.00" lengthAdjust="spacingAndGlyphs" fill="#231f20" stroke="#231f20" stroke-width="0.12">40</text>
<text x="7.00" y="433.90" font-size="13" font-weight="bold" fill="#000">F</text>
<text x="62.30" y="453.30" font-size="7.0" text-anchor="middle" textLength="18.80" lengthAdjust="spacingAndGlyphs" fill="#231f20" stroke="#231f20" stroke-width="0.12">DMSO</text>
<text x="102.00" y="445.30" font-size="7.0" text-anchor="middle" textLength="17.50" lengthAdjust="spacingAndGlyphs" fill="#231f20" stroke="#231f20" stroke-width="0.12">KDM5</text>
<text x="101.50" y="453.00" font-size="7.0" text-anchor="middle" textLength="14.00" lengthAdjust="spacingAndGlyphs" fill="#231f20" stroke="#231f20" stroke-width="0.12">-inh1</text>
<line x1="45.00" y1="457.00" x2="79.70" y2="457.00" stroke="#444" stroke-width="0.9"/>
<line x1="84.30" y1="457.00" x2="119.00" y2="457.00" stroke="#444" stroke-width="0.9"/>
<rect x="41.72" y="461.03" width="82.15" height="17.45" fill="#e2e0ec" stroke="#484848" stroke-width="0.85"/>
<text x="38.50" y="468.75" font-size="6.8" text-anchor="end" textLength="28.00" lengthAdjust="spacingAndGlyphs" fill="#231f20" stroke="#231f20" stroke-width="0.12">H3K4me3</text>
<text x="38.50" y="476.55" font-size="6.8" text-anchor="end" textLength="22.00" lengthAdjust="spacingAndGlyphs" fill="#231f20" stroke="#231f20" stroke-width="0.12">(17kDa)</text>
<rect x="41.72" y="482.73" width="82.15" height="17.85" fill="#ddd0e2" stroke="#484848" stroke-width="0.85"/>
<text x="38.50" y="490.65" font-size="6.8" text-anchor="end" textLength="8.50" lengthAdjust="spacingAndGlyphs" fill="#231f20" stroke="#231f20" stroke-width="0.12">H3</text>
<text x="38.50" y="498.45" font-size="6.8" text-anchor="end" textLength="22.00" lengthAdjust="spacingAndGlyphs" fill="#231f20" stroke="#231f20" stroke-width="0.12">(17kDa)</text>
<rect x="41.72" y="504.53" width="82.15" height="17.35" fill="#e6e5ee" stroke="#484848" stroke-width="0.85"/>
<text x="38.50" y="512.20" font-size="6.8" text-anchor="end" textLength="16.00" lengthAdjust="spacingAndGlyphs" fill="#231f20" stroke="#231f20" stroke-width="0.12">BCL2</text>
<text x="38.50" y="520.00" font-size="6.8" text-anchor="end" textLength="22.00" lengthAdjust="spacingAndGlyphs" fill="#231f20" stroke="#231f20" stroke-width="0.12">(26kDa)</text>
<rect x="41.72" y="526.02" width="82.15" height="16.85" fill="#e8e2ec" stroke="#484848" stroke-width="0.85"/>
<text x="38.50" y="533.45" font-size="6.8" text-anchor="end" textLength="22.50" lengthAdjust="spacingAndGlyphs" fill="#231f20" stroke="#231f20" stroke-width="0.12">GAPDH</text>
<text x="38.50" y="541.25" font-size="6.8" text-anchor="end" textLength="22.00" lengthAdjust="spacingAndGlyphs" fill="#231f20" stroke="#231f20" stroke-width="0.12">(37kDa)</text>
<rect x="41.72" y="547.02" width="82.15" height="17.85" fill="#cacacf" stroke="#484848" stroke-width="0.85"/>
<text x="38.50" y="554.95" font-size="6.8" text-anchor="end" textLength="16.00" lengthAdjust="spacingAndGlyphs" fill="#231f20" stroke="#231f20" stroke-width="0.12">pERK</text>
<text x="38.50" y="562.75" font-size="6.8" text-anchor="end" textLength="31.60" lengthAdjust="spacingAndGlyphs" fill="#231f20" stroke="#231f20" stroke-width="0.12">(42/44kDa)</text>
<rect x="41.72" y="568.52" width="82.15" height="18.35" fill="#cdcdd1" stroke="#484848" stroke-width="0.85"/>
<text x="38.50" y="576.70" font-size="6.8" text-anchor="end" textLength="12.00" lengthAdjust="spacingAndGlyphs" fill="#231f20" stroke="#231f20" stroke-width="0.12">ERK</text>
<text x="38.50" y="584.50" font-size="6.8" text-anchor="end" textLength="31.60" lengthAdjust="spacingAndGlyphs" fill="#231f20" stroke="#231f20" stroke-width="0.12">(42/44kDa)</text>
<rect x="43.40" y="465.10" width="7.20" height="1.80" rx="0.90" fill="#767676" filter="url(#bl)"/>
<rect x="56.15" y="465.85" width="10.80" height="2.70" rx="1.35" fill="#454545" filter="url(#bl)"/>
<rect x="69.90" y="466.65" width="10.80" height="2.70" rx="1.35" fill="#1b1b1b" filter="url(#bl)"/>
<rect x="83.65" y="467.45" width="10.80" height="2.70" rx="1.35" fill="#1b1b1b" filter="url(#bl)"/>
<rect x="97.40" y="468.45" width="10.80" height="2.70" rx="1.35" fill="#0a0a0a" filter="url(#bl)"/>
<rect x="111.15" y="468.95" width="10.80" height="2.70" rx="1.35" fill="#151515" filter="url(#bl)"/>
<rect x="42.40" y="488.80" width="10.80" height="3.00" rx="1.50" fill="#151515" filter="url(#bl)"/>
<rect x="56.15" y="489.00" width="10.80" height="3.00" rx="1.50" fill="#101010" filter="url(#bl)"/>
<rect x="69.90" y="489.10" width="10.80" height="3.00" rx="1.50" fill="#101010" filter="url(#bl)"/>
<rect x="83.65" y="489.30" width="10.80" height="3.00" rx="1.50" fill="#191919" filter="url(#bl)"/>
<rect x="97.40" y="489.50" width="10.80" height="3.00" rx="1.50" fill="#101010" filter="url(#bl)"/>
<rect x="111.15" y="489.50" width="10.80" height="3.00" rx="1.50" fill="#191919" filter="url(#bl)"/>
<rect x="42.40" y="510.65" width="10.80" height="2.50" rx="1.25" fill="#1f1f1f" filter="url(#bl)"/>
<rect x="56.15" y="511.15" width="10.80" height="2.50" rx="1.25" fill="#2a2a2a" filter="url(#bl)"/>
<rect x="69.90" y="511.65" width="10.80" height="2.50" rx="1.25" fill="#1f1f1f" filter="url(#bl)"/>
<rect x="83.65" y="512.45" width="10.80" height="2.50" rx="1.25" fill="#5a5a5a" filter="url(#bl)"/>
<rect x="97.40" y="512.65" width="10.80" height="2.50" rx="1.25" fill="#303030" filter="url(#bl)"/>
<rect x="111.15" y="513.15" width="10.80" height="2.50" rx="1.25" fill="#686868" filter="url(#bl)"/>
<rect x="42.40" y="532.15" width="10.80" height="3.30" rx="1.65" fill="#0a0a0a" filter="url(#bl)"/>
<rect x="56.15" y="532.25" width="10.80" height="3.30" rx="1.65" fill="#545454" filter="url(#bl)"/>
<rect x="69.90" y="532.35" width="10.80" height="3.30" rx="1.65" fill="#0a0a0a" filter="url(#bl)"/>
<rect x="83.65" y="532.55" width="10.80" height="3.30" rx="1.65" fill="#0a0a0a" filter="url(#bl)"/>
<rect x="97.40" y="532.75" width="10.80" height="3.30" rx="1.65" fill="#0a0a0a" filter="url(#bl)"/>
<rect x="111.15" y="533.15" width="10.80" height="3.30" rx="1.65" fill="#0a0a0a" filter="url(#bl)"/>
<rect x="42.40" y="552.90" width="10.80" height="2.20" rx="1.10" fill="#303030" filter="url(#bl)"/>
<rect x="56.15" y="553.10" width="10.80" height="2.20" rx="1.10" fill="#868686" filter="url(#bl)"/>
<rect x="69.90" y="553.10" width="10.80" height="2.20" rx="1.10" fill="#565656" filter="url(#bl)"/>
<rect x="83.65" y="553.20" width="10.80" height="2.20" rx="1.10" fill="#8f8f8f" filter="url(#bl)"/>
<rect x="97.40" y="553.10" width="10.80" height="2.20" rx="1.10" fill="#868686" filter="url(#bl)"/>
<rect x="111.15" y="552.70" width="10.80" height="2.20" rx="1.10" fill="#868686" filter="url(#bl)"/>
<rect x="42.40" y="557.60" width="10.80" height="2.80" rx="1.40" fill="#0a0a0a" filter="url(#bl)"/>
<rect x="56.15" y="557.60" width="10.80" height="2.80" rx="1.40" fill="#141414" filter="url(#bl)"/>
<rect x="69.90" y="557.60" width="10.80" height="2.80" rx="1.40" fill="#141414" filter="url(#bl)"/>
<rect x="83.65" y="557.80" width="10.80" height="2.80" rx="1.40" fill="#565656" filter="url(#bl)"/>
<rect x="97.40" y="557.60" width="10.80" height="2.80" rx="1.40" fill="#525252" filter="url(#bl)"/>
<rect x="111.15" y="556.40" width="10.80" height="2.80" rx="1.40" fill="#0a0a0a" filter="url(#bl)"/>
<rect x="42.40" y="574.00" width="10.80" height="2.80" rx="1.40" fill="#1d1d1d" filter="url(#bl)"/>
<rect x="56.15" y="574.00" width="10.80" height="2.80" rx="1.40" fill="#434343" filter="url(#bl)"/>
<rect x="69.90" y="574.00" width="10.80" height="2.80" rx="1.40" fill="#0a0a0a" filter="url(#bl)"/>
<rect x="83.65" y="574.00" width="10.80" height="2.80" rx="1.40" fill="#0a0a0a" filter="url(#bl)"/>
<rect x="97.40" y="574.00" width="10.80" height="2.80" rx="1.40" fill="#0a0a0a" filter="url(#bl)"/>
<rect x="111.15" y="574.00" width="10.80" height="2.80" rx="1.40" fill="#0a0a0a" filter="url(#bl)"/>
<rect x="42.40" y="579.55" width="10.80" height="2.30" rx="1.15" fill="#737373" filter="url(#bl)"/>
<rect x="56.15" y="579.55" width="10.80" height="2.30" rx="1.15" fill="#7c7c7c" filter="url(#bl)"/>
<rect x="69.90" y="579.55" width="10.80" height="2.30" rx="1.15" fill="#737373" filter="url(#bl)"/>
<rect x="83.65" y="579.55" width="10.80" height="2.30" rx="1.15" fill="#737373" filter="url(#bl)"/>
<rect x="97.40" y="579.55" width="10.80" height="2.30" rx="1.15" fill="#737373" filter="url(#bl)"/>
<rect x="111.15" y="579.55" width="10.80" height="2.30" rx="1.15" fill="#737373" filter="url(#bl)"/>
<text x="139.30" y="433.90" font-size="13" font-weight="bold" fill="#000">G</text>
<line x1="178.80" y1="472.80" x2="178.80" y2="553.10" stroke="#1a1a1a" stroke-width="1.4"/>
<line x1="176.30" y1="553.20" x2="227.70" y2="553.20" stroke="#000" stroke-width="1.4"/>
<line x1="175.80" y1="475.45" x2="178.80" y2="475.45" stroke="#000" stroke-width="0.9"/>
<text x="173.30" y="477.75" font-size="6.7" text-anchor="end" textLength="8.80" lengthAdjust="spacingAndGlyphs" fill="#231f20" stroke="#231f20" stroke-width="0.12">1.5</text>
<line x1="175.80" y1="488.40" x2="178.80" y2="488.40" stroke="#000" stroke-width="0.9"/>
<text x="173.30" y="490.70" font-size="6.7" text-anchor="end" textLength="8.80" lengthAdjust="spacingAndGlyphs" fill="#231f20" stroke="#231f20" stroke-width="0.12">1.0</text>
<line x1="175.80" y1="501.35" x2="178.80" y2="501.35" stroke="#000" stroke-width="0.9"/>
<text x="173.30" y="503.65" font-size="6.7" text-anchor="end" textLength="8.80" lengthAdjust="spacingAndGlyphs" fill="#231f20" stroke="#231f20" stroke-width="0.12">0.5</text>
<line x1="175.80" y1="514.30" x2="178.80" y2="514.30" stroke="#000" stroke-width="0.9"/>
<text x="173.30" y="516.60" font-size="6.7" text-anchor="end" textLength="8.80" lengthAdjust="spacingAndGlyphs" fill="#231f20" stroke="#231f20" stroke-width="0.12">0.0</text>
<line x1="175.80" y1="527.25" x2="178.80" y2="527.25" stroke="#000" stroke-width="0.9"/>
<text x="173.30" y="529.55" font-size="6.7" text-anchor="end" textLength="11.20" lengthAdjust="spacingAndGlyphs" fill="#231f20" stroke="#231f20" stroke-width="0.12">-0.5</text>
<line x1="175.80" y1="540.20" x2="178.80" y2="540.20" stroke="#000" stroke-width="0.9"/>
<text x="173.30" y="542.50" font-size="6.7" text-anchor="end" textLength="11.20" lengthAdjust="spacingAndGlyphs" fill="#231f20" stroke="#231f20" stroke-width="0.12">-1.0</text>
<line x1="175.80" y1="553.15" x2="178.80" y2="553.15" stroke="#000" stroke-width="0.9"/>
<text x="173.30" y="555.45" font-size="6.7" text-anchor="end" textLength="11.20" lengthAdjust="spacingAndGlyphs" fill="#231f20" stroke="#231f20" stroke-width="0.12">-1.5</text>
<line x1="193.00" y1="553.10" x2="193.00" y2="556.00" stroke="#000" stroke-width="0.9"/>
<line x1="213.70" y1="553.10" x2="213.70" y2="556.00" stroke="#000" stroke-width="0.9"/>
<line x1="178.80" y1="514.30" x2="228.00" y2="514.30" stroke="#111" stroke-width="0.9" stroke-dasharray="1.8 1.5"/>
<text x="195.30" y="562.80" font-size="6.8" text-anchor="end" textLength="19.50" lengthAdjust="spacingAndGlyphs" fill="#231f20" stroke="#231f20" stroke-width="0.12" transform="rotate(-45 195.30 562.80)">DMSO</text>
<text x="214.80" y="563.40" font-size="6.8" text-anchor="end" textLength="30.30" lengthAdjust="spacingAndGlyphs" fill="#231f20" stroke="#231f20" stroke-width="0.12" transform="rotate(-45 214.80 563.40)">KDM5-inh1</text>
<text x="146.80" y="513.70" font-size="7.0" text-anchor="middle" textLength="49.80" lengthAdjust="spacingAndGlyphs" fill="#231f20" stroke="#231f20" stroke-width="0.12" transform="rotate(-90 146.80 513.70)">Log2 fold change</text>
<text x="156.80" y="513.70" font-size="7.0" text-anchor="middle" textLength="79.20" lengthAdjust="spacingAndGlyphs" fill="#231f20" stroke="#231f20" stroke-width="0.12" transform="rotate(-90 156.80 513.70)">(Relative to vehicle mean)</text>
<line x1="213.70" y1="514.30" x2="213.70" y2="540.20" stroke="#1f4f91" stroke-width="0.8"/>
<line x1="212.40" y1="514.30" x2="215.00" y2="514.30" stroke="#1f4f91" stroke-width="0.8"/>
<line x1="212.40" y1="540.20" x2="215.00" y2="540.20" stroke="#1f4f91" stroke-width="0.8"/>
<polyline points="193,515.59 213.7,527.25" fill="none" stroke="#1f4f91" stroke-width="1.1"/>
<circle cx="193.00" cy="515.59" r="0.98" fill="#1f4f91"/>
<circle cx="213.70" cy="527.25" r="0.98" fill="#1f4f91"/>
<line x1="193.00" y1="518.18" x2="193.00" y2="510.41" stroke="#3db54a" stroke-width="0.8"/>
<line x1="191.70" y1="518.18" x2="194.30" y2="518.18" stroke="#3db54a" stroke-width="0.8"/>
<line x1="191.70" y1="510.41" x2="194.30" y2="510.41" stroke="#3db54a" stroke-width="0.8"/>
<line x1="213.70" y1="535.02" x2="213.70" y2="544.08" stroke="#3db54a" stroke-width="0.8"/>
<line x1="212.40" y1="535.02" x2="215.00" y2="535.02" stroke="#3db54a" stroke-width="0.8"/>
<line x1="212.40" y1="544.08" x2="215.00" y2="544.08" stroke="#3db54a" stroke-width="0.8"/>
<polyline points="193,514.30 213.7,538.90" fill="none" stroke="#3db54a" stroke-width="1.1"/>
<circle cx="193.00" cy="514.30" r="1.40" fill="#3db54a"/>
<circle cx="213.70" cy="538.90" r="1.40" fill="#3db54a"/>
<line x1="193.00" y1="528.54" x2="193.00" y2="506.53" stroke="#d3202e" stroke-width="0.8"/>
<line x1="191.70" y1="528.54" x2="194.30" y2="528.54" stroke="#d3202e" stroke-width="0.8"/>
<line x1="191.70" y1="506.53" x2="194.30" y2="506.53" stroke="#d3202e" stroke-width="0.8"/>
<line x1="213.70" y1="493.58" x2="213.70" y2="489.69" stroke="#d3202e" stroke-width="0.8"/>
<line x1="212.40" y1="493.58" x2="215.00" y2="493.58" stroke="#d3202e" stroke-width="0.8"/>
<line x1="212.40" y1="489.69" x2="215.00" y2="489.69" stroke="#d3202e" stroke-width="0.8"/>
<polyline points="193,516.89 213.7,491.77" fill="none" stroke="#d3202e" stroke-width="1.1"/>
<rect x="191.60" y="515.49" width="2.80" height="2.80" fill="#d3202e"/>
<rect x="212.30" y="490.37" width="2.80" height="2.80" fill="#d3202e"/>
<text x="213.70" y="490.20" font-size="6.5" text-anchor="middle" fill="#d3202e" stroke="#d3202e" stroke-width="0.12">*</text>
<text x="213.70" y="552.50" font-size="6.5" text-anchor="middle" fill="#3db54a" stroke="#3db54a" stroke-width="0.12">*</text>
<line x1="229.30" y1="481.70" x2="237.30" y2="481.70" stroke="#3db54a" stroke-width="1.0"/>
<circle cx="233.30" cy="481.70" r="1.20" fill="#3db54a"/>
<text x="240.10" y="484.00" font-size="6.6" textLength="16.00" lengthAdjust="spacingAndGlyphs" fill="#231f20" stroke="#231f20" stroke-width="0.12">BCL2</text>
<line x1="229.30" y1="492.00" x2="237.30" y2="492.00" stroke="#d3202e" stroke-width="1.0"/>
<rect x="232.10" y="490.80" width="2.40" height="2.40" fill="#d3202e"/>
<text x="240.10" y="494.30" font-size="6.6" textLength="28.50" lengthAdjust="spacingAndGlyphs" fill="#231f20" stroke="#231f20" stroke-width="0.12">H3K4me3</text>
<line x1="229.30" y1="502.20" x2="237.30" y2="502.20" stroke="#1f4f91" stroke-width="1.0"/>
<circle cx="233.30" cy="502.20" r="0.84" fill="#1f4f91"/>
<text x="240.10" y="504.50" font-size="6.6" textLength="29.70" lengthAdjust="spacingAndGlyphs" fill="#231f20" stroke="#231f20" stroke-width="0.12">pERK/ERK</text>
<text x="285.30" y="433.90" font-size="13" font-weight="bold" fill="#000">H</text>
<rect x="351.50" y="450.50" width="37.10" height="111.40" fill="#efefef"/>
<line x1="351.50" y1="450.50" x2="351.50" y2="561.90" stroke="#111" stroke-width="0.9" stroke-dasharray="1.6 1.4"/>
<line x1="388.60" y1="450.50" x2="388.60" y2="561.90" stroke="#111" stroke-width="0.9" stroke-dasharray="1.6 1.4"/>
<text x="369.90" y="468.70" font-size="6.6" text-anchor="middle" textLength="20.00" lengthAdjust="spacingAndGlyphs" fill="#231f20" stroke="#231f20" stroke-width="0.12">Dosing</text>
<text x="369.90" y="476.20" font-size="6.6" text-anchor="middle" textLength="20.50" lengthAdjust="spacingAndGlyphs" fill="#231f20" stroke="#231f20" stroke-width="0.12">holiday</text>
<line x1="314.40" y1="447.20" x2="314.40" y2="561.90" stroke="#000" stroke-width="1.4"/>
<line x1="311.00" y1="561.90" x2="425.80" y2="561.90" stroke="#000" stroke-width="1.4"/>
<line x1="311.30" y1="524.65" x2="314.40" y2="524.65" stroke="#000" stroke-width="1.1"/>
<text x="308.80" y="526.95" font-size="6.4" text-anchor="end" textLength="7.50" lengthAdjust="spacingAndGlyphs" fill="#231f20" stroke="#231f20" stroke-width="0.12">50</text>
<line x1="311.30" y1="487.40" x2="314.40" y2="487.40" stroke="#000" stroke-width="1.1"/>
<text x="308.80" y="489.70" font-size="6.4" text-anchor="end" textLength="10.70" lengthAdjust="spacingAndGlyphs" fill="#231f20" stroke="#231f20" stroke-width="0.12">100</text>
<line x1="311.30" y1="450.15" x2="314.40" y2="450.15" stroke="#000" stroke-width="1.1"/>
<text x="308.80" y="452.45" font-size="6.4" text-anchor="end" textLength="10.70" lengthAdjust="spacingAndGlyphs" fill="#231f20" stroke="#231f20" stroke-width="0.12">150</text>
<line x1="314.40" y1="561.90" x2="314.40" y2="564.90" stroke="#000" stroke-width="1.1"/>
<text x="314.40" y="573.80" font-size="6.4" text-anchor="middle" textLength="3.60" lengthAdjust="spacingAndGlyphs" fill="#231f20" stroke="#231f20" stroke-width="0.12">0</text>
<line x1="340.90" y1="561.90" x2="340.90" y2="564.90" stroke="#000" stroke-width="1.1"/>
<text x="340.90" y="573.80" font-size="6.4" text-anchor="middle" textLength="3.60" lengthAdjust="spacingAndGlyphs" fill="#231f20" stroke="#231f20" stroke-width="0.12">5</text>
<line x1="367.40" y1="561.90" x2="367.40" y2="564.90" stroke="#000" stroke-width="1.1"/>
<text x="367.40" y="573.80" font-size="6.4" text-anchor="middle" textLength="7.20" lengthAdjust="spacingAndGlyphs" fill="#231f20" stroke="#231f20" stroke-width="0.12">10</text>
<line x1="393.90" y1="561.90" x2="393.90" y2="564.90" stroke="#000" stroke-width="1.1"/>
<text x="393.90" y="573.80" font-size="6.4" text-anchor="middle" textLength="7.20" lengthAdjust="spacingAndGlyphs" fill="#231f20" stroke="#231f20" stroke-width="0.12">15</text>
<line x1="420.40" y1="561.90" x2="420.40" y2="564.90" stroke="#000" stroke-width="1.1"/>
<text x="420.40" y="573.80" font-size="6.4" text-anchor="middle" textLength="7.20" lengthAdjust="spacingAndGlyphs" fill="#231f20" stroke="#231f20" stroke-width="0.12">20</text>
<text x="369.90" y="586.40" font-size="7.2" text-anchor="middle" textLength="53.90" lengthAdjust="spacingAndGlyphs" fill="#231f20" stroke="#231f20" stroke-width="0.12">Days on treatment</text>
<text x="292.60" y="505.50" font-size="7.2" text-anchor="middle" textLength="87.00" lengthAdjust="spacingAndGlyphs" fill="#231f20" stroke="#231f20" stroke-width="0.12" transform="rotate(-90 292.60 505.50)">% of max. vehicle tumour size</text>
<line x1="351.50" y1="551.80" x2="351.50" y2="556.80" stroke="#1d4f91" stroke-width="0.9"/>
<line x1="349.80" y1="551.80" x2="353.20" y2="551.80" stroke="#1d4f91" stroke-width="0.9"/>
<line x1="349.80" y1="556.80" x2="353.20" y2="556.80" stroke="#1d4f91" stroke-width="0.9"/>
<line x1="367.40" y1="547.30" x2="367.40" y2="550.90" stroke="#1d4f91" stroke-width="0.9"/>
<line x1="365.70" y1="547.30" x2="369.10" y2="547.30" stroke="#1d4f91" stroke-width="0.9"/>
<line x1="365.70" y1="550.90" x2="369.10" y2="550.90" stroke="#1d4f91" stroke-width="0.9"/>
<line x1="388.60" y1="523.90" x2="388.60" y2="536.90" stroke="#1d4f91" stroke-width="0.9"/>
<line x1="386.90" y1="523.90" x2="390.30" y2="523.90" stroke="#1d4f91" stroke-width="0.9"/>
<line x1="386.90" y1="536.90" x2="390.30" y2="536.90" stroke="#1d4f91" stroke-width="0.9"/>
<line x1="404.50" y1="516.20" x2="404.50" y2="527.20" stroke="#1d4f91" stroke-width="0.9"/>
<line x1="402.80" y1="516.20" x2="406.20" y2="516.20" stroke="#1d4f91" stroke-width="0.9"/>
<line x1="402.80" y1="527.20" x2="406.20" y2="527.20" stroke="#1d4f91" stroke-width="0.9"/>
<line x1="425.70" y1="489.80" x2="425.70" y2="507.40" stroke="#1d4f91" stroke-width="0.9"/>
<line x1="424.00" y1="489.80" x2="427.40" y2="489.80" stroke="#1d4f91" stroke-width="0.9"/>
<line x1="424.00" y1="507.40" x2="427.40" y2="507.40" stroke="#1d4f91" stroke-width="0.9"/>
<polyline points="314.40,557.80 330.30,557.10 351.50,554.30 367.40,549.10 388.60,530.40 404.50,521.70 425.70,498.60" fill="none" stroke="#1d4f91" stroke-width="1.1"/>
<rect x="312.40" y="555.80" width="4.00" height="4.00" fill="#1d4f91"/>
<rect x="328.30" y="555.10" width="4.00" height="4.00" fill="#1d4f91"/>
<rect x="349.50" y="552.30" width="4.00" height="4.00" fill="#1d4f91"/>
<rect x="365.40" y="547.10" width="4.00" height="4.00" fill="#1d4f91"/>
<rect x="386.60" y="528.40" width="4.00" height="4.00" fill="#1d4f91"/>
<rect x="402.50" y="519.70" width="4.00" height="4.00" fill="#1d4f91"/>
<rect x="423.70" y="496.60" width="4.00" height="4.00" fill="#1d4f91"/>
<line x1="330.30" y1="553.40" x2="330.30" y2="556.40" stroke="#c8102e" stroke-width="0.9"/>
<line x1="328.60" y1="553.40" x2="332.00" y2="553.40" stroke="#c8102e" stroke-width="0.9"/>
<line x1="328.60" y1="556.40" x2="332.00" y2="556.40" stroke="#c8102e" stroke-width="0.9"/>
<line x1="351.50" y1="538.90" x2="351.50" y2="547.90" stroke="#c8102e" stroke-width="0.9"/>
<line x1="349.80" y1="538.90" x2="353.20" y2="538.90" stroke="#c8102e" stroke-width="0.9"/>
<line x1="349.80" y1="547.90" x2="353.20" y2="547.90" stroke="#c8102e" stroke-width="0.9"/>
<line x1="367.40" y1="531.20" x2="367.40" y2="538.20" stroke="#c8102e" stroke-width="0.9"/>
<line x1="365.70" y1="531.20" x2="369.10" y2="531.20" stroke="#c8102e" stroke-width="0.9"/>
<line x1="365.70" y1="538.20" x2="369.10" y2="538.20" stroke="#c8102e" stroke-width="0.9"/>
<line x1="388.60" y1="500.90" x2="388.60" y2="514.90" stroke="#c8102e" stroke-width="0.9"/>
<line x1="386.90" y1="500.90" x2="390.30" y2="500.90" stroke="#c8102e" stroke-width="0.9"/>
<line x1="386.90" y1="514.90" x2="390.30" y2="514.90" stroke="#c8102e" stroke-width="0.9"/>
<line x1="404.50" y1="475.00" x2="404.50" y2="495.00" stroke="#c8102e" stroke-width="0.9"/>
<line x1="402.80" y1="475.00" x2="406.20" y2="475.00" stroke="#c8102e" stroke-width="0.9"/>
<line x1="402.80" y1="495.00" x2="406.20" y2="495.00" stroke="#c8102e" stroke-width="0.9"/>
<polyline points="314.40,557.80 330.30,554.90 351.50,543.40 367.40,534.70 388.60,507.90 404.50,485.00" fill="none" stroke="#c8102e" stroke-width="1.1"/>
<circle cx="314.40" cy="557.80" r="2.10" fill="#c8102e"/>
<circle cx="330.30" cy="554.90" r="2.10" fill="#c8102e"/>
<circle cx="351.50" cy="543.40" r="2.10" fill="#c8102e"/>
<circle cx="367.40" cy="534.70" r="2.10" fill="#c8102e"/>
<circle cx="388.60" cy="507.90" r="2.10" fill="#c8102e"/>
<circle cx="404.50" cy="485.00" r="2.10" fill="#c8102e"/>
<text x="404.60" y="535.20" font-size="6.8" text-anchor="middle" textLength="11.60" lengthAdjust="spacingAndGlyphs" fill="#1d4f91" stroke="#1d4f91" stroke-width="0.12">****</text>
<text x="388.70" y="543.00" font-size="6.0" text-anchor="middle" textLength="8.60" lengthAdjust="spacingAndGlyphs" fill="#1d4f91" stroke="#1d4f91" stroke-width="0.12">+++</text>
<line x1="440.10" y1="458.40" x2="448.80" y2="458.40" stroke="#c8102e" stroke-width="1.0"/>
<circle cx="444.60" cy="458.40" r="1.50" fill="#c8102e"/>
<text x="452.00" y="461.20" font-size="6.9" textLength="20.00" lengthAdjust="spacingAndGlyphs" fill="#231f20" stroke="#231f20" stroke-width="0.12">Vehicle</text>
<line x1="440.10" y1="468.10" x2="448.80" y2="468.10" stroke="#1d4f91" stroke-width="1.0"/>
<rect x="443.20" y="466.70" width="2.80" height="2.80" fill="#1d4f91"/>
<text x="452.00" y="470.70" font-size="6.9" textLength="14.50" lengthAdjust="spacingAndGlyphs" fill="#231f20" stroke="#231f20" stroke-width="0.12">KDM5i</text>
<text x="452.00" y="478.90" font-size="6.9" textLength="29.40" lengthAdjust="spacingAndGlyphs" fill="#231f20" stroke="#231f20" stroke-width="0.12">(50mg/kg)</text>
</g>
</svg>
</body></html>
